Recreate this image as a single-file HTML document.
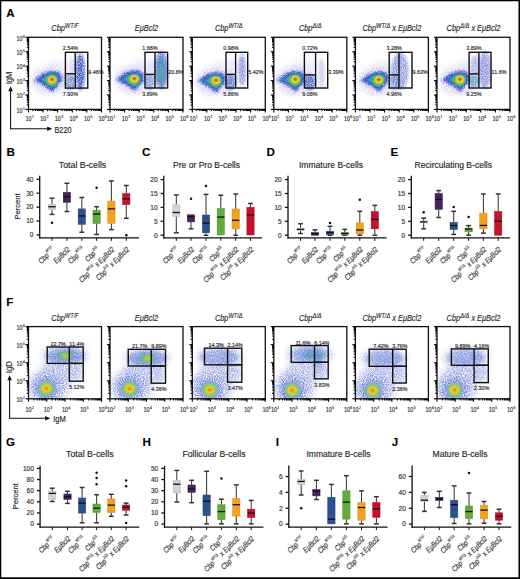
<!DOCTYPE html><html><head><meta charset="utf-8"><title>Figure</title><style>html,body{margin:0;padding:0;background:#fff;width:520px;height:579px;overflow:hidden}svg{display:block;font-family:"Liberation Sans", sans-serif} text{stroke:#333;stroke-width:0.15px}</style></head><body><svg width="520" height="579" viewBox="0 0 520 579" font-family='"Liberation Sans", sans-serif'>
<defs>
<filter id="b0.4" x="-60%" y="-60%" width="220%" height="220%"><feGaussianBlur stdDeviation="0.4"/></filter>
<filter id="b0.5" x="-60%" y="-60%" width="220%" height="220%"><feGaussianBlur stdDeviation="0.5"/></filter>
<filter id="b0.6" x="-60%" y="-60%" width="220%" height="220%"><feGaussianBlur stdDeviation="0.6"/></filter>
<filter id="b0.7" x="-60%" y="-60%" width="220%" height="220%"><feGaussianBlur stdDeviation="0.7"/></filter>
<filter id="b0.8" x="-60%" y="-60%" width="220%" height="220%"><feGaussianBlur stdDeviation="0.8"/></filter>
<filter id="b0.9" x="-60%" y="-60%" width="220%" height="220%"><feGaussianBlur stdDeviation="0.9"/></filter>
<filter id="b1" x="-60%" y="-60%" width="220%" height="220%"><feGaussianBlur stdDeviation="1"/></filter>
<filter id="b1.2" x="-60%" y="-60%" width="220%" height="220%"><feGaussianBlur stdDeviation="1.2"/></filter>
<filter id="b1.5" x="-60%" y="-60%" width="220%" height="220%"><feGaussianBlur stdDeviation="1.5"/></filter>
<filter id="b1.6" x="-60%" y="-60%" width="220%" height="220%"><feGaussianBlur stdDeviation="1.6"/></filter>
<filter id="b1.8" x="-60%" y="-60%" width="220%" height="220%"><feGaussianBlur stdDeviation="1.8"/></filter>
<filter id="b2" x="-60%" y="-60%" width="220%" height="220%"><feGaussianBlur stdDeviation="2"/></filter>
<filter id="b2.5" x="-60%" y="-60%" width="220%" height="220%"><feGaussianBlur stdDeviation="2.5"/></filter>
<filter id="b3" x="-60%" y="-60%" width="220%" height="220%"><feGaussianBlur stdDeviation="3"/></filter>
<filter id="spk0" x="0" y="0" width="520" height="579" filterUnits="userSpaceOnUse"><feTurbulence type="fractalNoise" baseFrequency="1.1" numOctaves="1" seed="3" result="n"/><feColorMatrix in="n" type="matrix" values="0 0 0 0 0  0 0 0 0 0  0 0 0 0 0  2.4 0 0 0 -0.62" result="m"/><feComposite in="SourceGraphic" in2="m" operator="in"/></filter>
<filter id="spk1" x="0" y="0" width="520" height="579" filterUnits="userSpaceOnUse"><feTurbulence type="fractalNoise" baseFrequency="1.1" numOctaves="1" seed="10" result="n"/><feColorMatrix in="n" type="matrix" values="0 0 0 0 0  0 0 0 0 0  0 0 0 0 0  2.4 0 0 0 -0.62" result="m"/><feComposite in="SourceGraphic" in2="m" operator="in"/></filter>
<filter id="spk2" x="0" y="0" width="520" height="579" filterUnits="userSpaceOnUse"><feTurbulence type="fractalNoise" baseFrequency="1.1" numOctaves="1" seed="17" result="n"/><feColorMatrix in="n" type="matrix" values="0 0 0 0 0  0 0 0 0 0  0 0 0 0 0  2.4 0 0 0 -0.62" result="m"/><feComposite in="SourceGraphic" in2="m" operator="in"/></filter>
<filter id="spd0" x="0" y="0" width="520" height="579" filterUnits="userSpaceOnUse"><feTurbulence type="fractalNoise" baseFrequency="0.9" numOctaves="1" seed="11" result="n"/><feColorMatrix in="n" type="matrix" values="0 0 0 0 0  0 0 0 0 0  0 0 0 0 0  2.4 0 0 0 -0.42" result="m"/><feComposite in="SourceGraphic" in2="m" operator="in"/></filter>
<filter id="spd1" x="0" y="0" width="520" height="579" filterUnits="userSpaceOnUse"><feTurbulence type="fractalNoise" baseFrequency="0.9" numOctaves="1" seed="16" result="n"/><feColorMatrix in="n" type="matrix" values="0 0 0 0 0  0 0 0 0 0  0 0 0 0 0  2.4 0 0 0 -0.42" result="m"/><feComposite in="SourceGraphic" in2="m" operator="in"/></filter>
<filter id="spd2" x="0" y="0" width="520" height="579" filterUnits="userSpaceOnUse"><feTurbulence type="fractalNoise" baseFrequency="0.9" numOctaves="1" seed="21" result="n"/><feColorMatrix in="n" type="matrix" values="0 0 0 0 0  0 0 0 0 0  0 0 0 0 0  2.4 0 0 0 -0.42" result="m"/><feComposite in="SourceGraphic" in2="m" operator="in"/></filter>
<clipPath id="clipA0"><rect x="28.5" y="37.3" width="73" height="72.1"/></clipPath>
<clipPath id="clipA1"><rect x="110" y="37.3" width="73" height="72.1"/></clipPath>
<clipPath id="clipA2"><rect x="192.3" y="37.3" width="73" height="72.1"/></clipPath>
<clipPath id="clipA3"><rect x="273.8" y="37.3" width="73" height="72.1"/></clipPath>
<clipPath id="clipA4"><rect x="355.4" y="37.3" width="73" height="72.1"/></clipPath>
<clipPath id="clipA5"><rect x="437" y="37.3" width="73" height="72.1"/></clipPath>
<clipPath id="clipF0"><rect x="28.5" y="326.6" width="73" height="72.2"/></clipPath>
<clipPath id="clipF1"><rect x="110" y="326.6" width="73" height="72.2"/></clipPath>
<clipPath id="clipF2"><rect x="192.3" y="326.6" width="73" height="72.2"/></clipPath>
<clipPath id="clipF3"><rect x="273.8" y="326.6" width="73" height="72.2"/></clipPath>
<clipPath id="clipF4"><rect x="355.4" y="326.6" width="73" height="72.2"/></clipPath>
<clipPath id="clipF5"><rect x="437" y="326.6" width="73" height="72.2"/></clipPath>
</defs>
<rect x="0" y="0" width="520" height="579" fill="#fff"/>
<text x="6.2" y="17.2" font-size="11.6" text-anchor="start" font-weight="bold" font-style="normal" fill="#000" >A</text>
<g clip-path="url(#clipA0)">
<g filter="url(#spk0)">
<ellipse cx="50.75" cy="80.75" rx="19" ry="15" fill="#a8a0e8" fill-opacity="0.5" filter="url(#b2.5)"/>
<ellipse cx="59.75" cy="67.75" rx="12" ry="9" fill="#b8b0ec" fill-opacity="0.3" filter="url(#b3)"/>
<polygon points="32.71,80.29 41.67,73.27 50.63,70.57 58.47,71.11 62.39,75.43 62.39,80.83 57.35,86.77 52.31,92.71 46.15,87.85" fill="#5060d8" fill-opacity="0.95" filter="url(#b1.2)"/>
<polygon points="35.09,80.22 42.93,74.05 50.77,71.67 57.63,72.15 61.06,75.95 61.06,80.7 56.65,85.92 52.24,91.15 46.85,86.88" fill="#3048c0" fill-opacity="1" filter="url(#b0.8)"/>
</g>
<g filter="url(#spd0)">
<ellipse cx="80.25" cy="71.92" rx="4.8" ry="18.5" fill="#3a56c4" fill-opacity="1" filter="url(#b1.6)"/>
<ellipse cx="70.33" cy="81.92" rx="5.5" ry="8" fill="#5a78cc" fill-opacity="0.8" filter="url(#b1.6)"/>
<ellipse cx="72.33" cy="66.03" rx="3" ry="9" fill="#8a90e0" fill-opacity="0.35" filter="url(#b1.6)"/>
</g>
<polygon points="36.11,80.2 43.47,74.35 50.83,72.1 57.27,72.55 60.49,76.15 60.49,80.65 56.35,85.6 52.21,90.55 47.15,86.5" fill="#3448b8" fill-opacity="0.75" filter="url(#b0.8)"/>
<polygon points="38.83,80.13 44.91,75.19 50.99,73.29 56.31,73.67 58.97,76.71 58.97,80.51 55.55,84.69 52.13,88.87 47.95,85.45" fill="#3478c4" fill-opacity="0.9" filter="url(#b0.8)"/>
<polygon points="41.51,80.07 46.47,75.91 51.43,74.31 55.77,74.63 57.94,77.19 57.94,80.39 55.15,83.91 52.36,87.43 48.95,84.55" fill="#38a8b8" fill-opacity="0.95" filter="url(#b0.7)"/>
<ellipse cx="51.75" cy="80.35" rx="6.2" ry="5.6" fill="#58b860" fill-opacity="1" filter="url(#b0.7)"/>
<ellipse cx="51.95" cy="79.85" rx="4.7" ry="4.2" fill="#a8cc48" fill-opacity="1" filter="url(#b0.6)"/>
<ellipse cx="52.05" cy="79.55" rx="3.7" ry="3.3" fill="#e6d434" fill-opacity="1" filter="url(#b0.5)"/>
<ellipse cx="52.05" cy="79.45" rx="2.4" ry="2.1" fill="#e09a24" fill-opacity="1" filter="url(#b0.5)"/>
<ellipse cx="52.05" cy="79.45" rx="1.2" ry="1.1" fill="#b85418" fill-opacity="1" filter="url(#b0.4)"/>
</g>
<rect x="28.5" y="37.3" width="73" height="72.1" fill="none" stroke="#111" stroke-width="1.3" />
<line x1="28.5" y1="109.4" x2="28.5" y2="112.4" stroke="#000" stroke-width="1.1"/>
<line x1="32.9" y1="109.4" x2="32.9" y2="111.1" stroke="#000" stroke-width="1.1"/>
<line x1="35.47" y1="109.4" x2="35.47" y2="111.1" stroke="#000" stroke-width="1.1"/>
<line x1="37.29" y1="109.4" x2="37.29" y2="111.1" stroke="#000" stroke-width="1.1"/>
<line x1="38.7" y1="109.4" x2="38.7" y2="111.1" stroke="#000" stroke-width="1.1"/>
<line x1="39.86" y1="109.4" x2="39.86" y2="111.1" stroke="#000" stroke-width="1.1"/>
<line x1="40.84" y1="109.4" x2="40.84" y2="111.1" stroke="#000" stroke-width="1.1"/>
<line x1="41.69" y1="109.4" x2="41.69" y2="111.1" stroke="#000" stroke-width="1.1"/>
<line x1="42.43" y1="109.4" x2="42.43" y2="111.1" stroke="#000" stroke-width="1.1"/>
<line x1="43.1" y1="109.4" x2="43.1" y2="112.4" stroke="#000" stroke-width="1.1"/>
<line x1="47.5" y1="109.4" x2="47.5" y2="111.1" stroke="#000" stroke-width="1.1"/>
<line x1="50.07" y1="109.4" x2="50.07" y2="111.1" stroke="#000" stroke-width="1.1"/>
<line x1="51.89" y1="109.4" x2="51.89" y2="111.1" stroke="#000" stroke-width="1.1"/>
<line x1="53.3" y1="109.4" x2="53.3" y2="111.1" stroke="#000" stroke-width="1.1"/>
<line x1="54.46" y1="109.4" x2="54.46" y2="111.1" stroke="#000" stroke-width="1.1"/>
<line x1="55.44" y1="109.4" x2="55.44" y2="111.1" stroke="#000" stroke-width="1.1"/>
<line x1="56.29" y1="109.4" x2="56.29" y2="111.1" stroke="#000" stroke-width="1.1"/>
<line x1="57.03" y1="109.4" x2="57.03" y2="111.1" stroke="#000" stroke-width="1.1"/>
<line x1="57.7" y1="109.4" x2="57.7" y2="112.4" stroke="#000" stroke-width="1.1"/>
<line x1="62.1" y1="109.4" x2="62.1" y2="111.1" stroke="#000" stroke-width="1.1"/>
<line x1="64.67" y1="109.4" x2="64.67" y2="111.1" stroke="#000" stroke-width="1.1"/>
<line x1="66.49" y1="109.4" x2="66.49" y2="111.1" stroke="#000" stroke-width="1.1"/>
<line x1="67.9" y1="109.4" x2="67.9" y2="111.1" stroke="#000" stroke-width="1.1"/>
<line x1="69.06" y1="109.4" x2="69.06" y2="111.1" stroke="#000" stroke-width="1.1"/>
<line x1="70.04" y1="109.4" x2="70.04" y2="111.1" stroke="#000" stroke-width="1.1"/>
<line x1="70.89" y1="109.4" x2="70.89" y2="111.1" stroke="#000" stroke-width="1.1"/>
<line x1="71.63" y1="109.4" x2="71.63" y2="111.1" stroke="#000" stroke-width="1.1"/>
<line x1="72.3" y1="109.4" x2="72.3" y2="112.4" stroke="#000" stroke-width="1.1"/>
<line x1="76.7" y1="109.4" x2="76.7" y2="111.1" stroke="#000" stroke-width="1.1"/>
<line x1="79.27" y1="109.4" x2="79.27" y2="111.1" stroke="#000" stroke-width="1.1"/>
<line x1="81.09" y1="109.4" x2="81.09" y2="111.1" stroke="#000" stroke-width="1.1"/>
<line x1="82.5" y1="109.4" x2="82.5" y2="111.1" stroke="#000" stroke-width="1.1"/>
<line x1="83.66" y1="109.4" x2="83.66" y2="111.1" stroke="#000" stroke-width="1.1"/>
<line x1="84.64" y1="109.4" x2="84.64" y2="111.1" stroke="#000" stroke-width="1.1"/>
<line x1="85.49" y1="109.4" x2="85.49" y2="111.1" stroke="#000" stroke-width="1.1"/>
<line x1="86.23" y1="109.4" x2="86.23" y2="111.1" stroke="#000" stroke-width="1.1"/>
<line x1="86.9" y1="109.4" x2="86.9" y2="112.4" stroke="#000" stroke-width="1.1"/>
<line x1="91.3" y1="109.4" x2="91.3" y2="111.1" stroke="#000" stroke-width="1.1"/>
<line x1="93.87" y1="109.4" x2="93.87" y2="111.1" stroke="#000" stroke-width="1.1"/>
<line x1="95.69" y1="109.4" x2="95.69" y2="111.1" stroke="#000" stroke-width="1.1"/>
<line x1="97.1" y1="109.4" x2="97.1" y2="111.1" stroke="#000" stroke-width="1.1"/>
<line x1="98.26" y1="109.4" x2="98.26" y2="111.1" stroke="#000" stroke-width="1.1"/>
<line x1="99.24" y1="109.4" x2="99.24" y2="111.1" stroke="#000" stroke-width="1.1"/>
<line x1="100.09" y1="109.4" x2="100.09" y2="111.1" stroke="#000" stroke-width="1.1"/>
<line x1="100.83" y1="109.4" x2="100.83" y2="111.1" stroke="#000" stroke-width="1.1"/>
<line x1="101.5" y1="109.4" x2="101.5" y2="112.4" stroke="#000" stroke-width="1.1"/>
<line x1="25.5" y1="109.4" x2="28.5" y2="109.4" stroke="#000" stroke-width="1.1"/>
<line x1="26.8" y1="105.06" x2="28.5" y2="105.06" stroke="#000" stroke-width="1.1"/>
<line x1="26.8" y1="102.52" x2="28.5" y2="102.52" stroke="#000" stroke-width="1.1"/>
<line x1="26.8" y1="100.72" x2="28.5" y2="100.72" stroke="#000" stroke-width="1.1"/>
<line x1="26.8" y1="99.32" x2="28.5" y2="99.32" stroke="#000" stroke-width="1.1"/>
<line x1="26.8" y1="98.18" x2="28.5" y2="98.18" stroke="#000" stroke-width="1.1"/>
<line x1="26.8" y1="97.21" x2="28.5" y2="97.21" stroke="#000" stroke-width="1.1"/>
<line x1="26.8" y1="96.38" x2="28.5" y2="96.38" stroke="#000" stroke-width="1.1"/>
<line x1="26.8" y1="95.64" x2="28.5" y2="95.64" stroke="#000" stroke-width="1.1"/>
<line x1="25.5" y1="94.98" x2="28.5" y2="94.98" stroke="#000" stroke-width="1.1"/>
<line x1="26.8" y1="90.64" x2="28.5" y2="90.64" stroke="#000" stroke-width="1.1"/>
<line x1="26.8" y1="88.1" x2="28.5" y2="88.1" stroke="#000" stroke-width="1.1"/>
<line x1="26.8" y1="86.3" x2="28.5" y2="86.3" stroke="#000" stroke-width="1.1"/>
<line x1="26.8" y1="84.9" x2="28.5" y2="84.9" stroke="#000" stroke-width="1.1"/>
<line x1="26.8" y1="83.76" x2="28.5" y2="83.76" stroke="#000" stroke-width="1.1"/>
<line x1="26.8" y1="82.79" x2="28.5" y2="82.79" stroke="#000" stroke-width="1.1"/>
<line x1="26.8" y1="81.96" x2="28.5" y2="81.96" stroke="#000" stroke-width="1.1"/>
<line x1="26.8" y1="81.22" x2="28.5" y2="81.22" stroke="#000" stroke-width="1.1"/>
<line x1="25.5" y1="80.56" x2="28.5" y2="80.56" stroke="#000" stroke-width="1.1"/>
<line x1="26.8" y1="76.22" x2="28.5" y2="76.22" stroke="#000" stroke-width="1.1"/>
<line x1="26.8" y1="73.68" x2="28.5" y2="73.68" stroke="#000" stroke-width="1.1"/>
<line x1="26.8" y1="71.88" x2="28.5" y2="71.88" stroke="#000" stroke-width="1.1"/>
<line x1="26.8" y1="70.48" x2="28.5" y2="70.48" stroke="#000" stroke-width="1.1"/>
<line x1="26.8" y1="69.34" x2="28.5" y2="69.34" stroke="#000" stroke-width="1.1"/>
<line x1="26.8" y1="68.37" x2="28.5" y2="68.37" stroke="#000" stroke-width="1.1"/>
<line x1="26.8" y1="67.54" x2="28.5" y2="67.54" stroke="#000" stroke-width="1.1"/>
<line x1="26.8" y1="66.8" x2="28.5" y2="66.8" stroke="#000" stroke-width="1.1"/>
<line x1="25.5" y1="66.14" x2="28.5" y2="66.14" stroke="#000" stroke-width="1.1"/>
<line x1="26.8" y1="61.8" x2="28.5" y2="61.8" stroke="#000" stroke-width="1.1"/>
<line x1="26.8" y1="59.26" x2="28.5" y2="59.26" stroke="#000" stroke-width="1.1"/>
<line x1="26.8" y1="57.46" x2="28.5" y2="57.46" stroke="#000" stroke-width="1.1"/>
<line x1="26.8" y1="56.06" x2="28.5" y2="56.06" stroke="#000" stroke-width="1.1"/>
<line x1="26.8" y1="54.92" x2="28.5" y2="54.92" stroke="#000" stroke-width="1.1"/>
<line x1="26.8" y1="53.95" x2="28.5" y2="53.95" stroke="#000" stroke-width="1.1"/>
<line x1="26.8" y1="53.12" x2="28.5" y2="53.12" stroke="#000" stroke-width="1.1"/>
<line x1="26.8" y1="52.38" x2="28.5" y2="52.38" stroke="#000" stroke-width="1.1"/>
<line x1="25.5" y1="51.72" x2="28.5" y2="51.72" stroke="#000" stroke-width="1.1"/>
<line x1="26.8" y1="47.38" x2="28.5" y2="47.38" stroke="#000" stroke-width="1.1"/>
<line x1="26.8" y1="44.84" x2="28.5" y2="44.84" stroke="#000" stroke-width="1.1"/>
<line x1="26.8" y1="43.04" x2="28.5" y2="43.04" stroke="#000" stroke-width="1.1"/>
<line x1="26.8" y1="41.64" x2="28.5" y2="41.64" stroke="#000" stroke-width="1.1"/>
<line x1="26.8" y1="40.5" x2="28.5" y2="40.5" stroke="#000" stroke-width="1.1"/>
<line x1="26.8" y1="39.53" x2="28.5" y2="39.53" stroke="#000" stroke-width="1.1"/>
<line x1="26.8" y1="38.7" x2="28.5" y2="38.7" stroke="#000" stroke-width="1.1"/>
<line x1="26.8" y1="37.96" x2="28.5" y2="37.96" stroke="#000" stroke-width="1.1"/>
<line x1="25.5" y1="37.3" x2="28.5" y2="37.3" stroke="#000" stroke-width="1.1"/>
<rect x="65.4" y="52.3" width="22.35" height="35.8" fill="none" stroke="#111" stroke-width="1.4" />
<line x1="75.25" y1="52.3" x2="75.25" y2="88.1" stroke="#111" stroke-width="1.4"/>
<line x1="65.4" y1="73.75" x2="75.25" y2="73.75" stroke="#111" stroke-width="1.4"/>
<text x="70.33" y="50" font-size="5.4" text-anchor="middle" font-weight="normal" font-style="normal" fill="#1a1a1a" >2.54%</text>
<text x="88.35" y="73.8" font-size="5.4" text-anchor="start" font-weight="normal" font-style="normal" fill="#1a1a1a" >9.46%</text>
<text x="70.33" y="96.1" font-size="5.4" text-anchor="middle" font-weight="normal" font-style="normal" fill="#1a1a1a" >7.90%</text>
<g transform="translate(28.6,120.8) scale(0.85,1)"><text x="-3.56" y="0" font-size="6.4" fill="#1a1a1a">10<tspan font-size="3.9" dx="0.5" dy="-2.9">1</tspan></text></g>
<g transform="translate(43.2,120.8) scale(0.85,1)"><text x="-3.56" y="0" font-size="6.4" fill="#1a1a1a">10<tspan font-size="3.9" dx="0.5" dy="-2.9">2</tspan></text></g>
<g transform="translate(57.8,120.8) scale(0.85,1)"><text x="-3.56" y="0" font-size="6.4" fill="#1a1a1a">10<tspan font-size="3.9" dx="0.5" dy="-2.9">3</tspan></text></g>
<g transform="translate(72.4,120.8) scale(0.85,1)"><text x="-3.56" y="0" font-size="6.4" fill="#1a1a1a">10<tspan font-size="3.9" dx="0.5" dy="-2.9">4</tspan></text></g>
<g transform="translate(87,120.8) scale(0.85,1)"><text x="-3.56" y="0" font-size="6.4" fill="#1a1a1a">10<tspan font-size="3.9" dx="0.5" dy="-2.9">5</tspan></text></g>
<g transform="translate(101.6,120.8) scale(0.85,1)"><text x="-3.56" y="0" font-size="6.4" fill="#1a1a1a">10<tspan font-size="3.9" dx="0.5" dy="-2.9">6</tspan></text></g>
<g transform="translate(16.48,112.7) scale(0.85,1)"><text x="0" y="0" font-size="6.4" fill="#1a1a1a">10<tspan font-size="3.9" dx="0.5" dy="-2.9">1</tspan></text></g>
<g transform="translate(16.48,98.28) scale(0.85,1)"><text x="0" y="0" font-size="6.4" fill="#1a1a1a">10<tspan font-size="3.9" dx="0.5" dy="-2.9">2</tspan></text></g>
<g transform="translate(16.48,83.86) scale(0.85,1)"><text x="0" y="0" font-size="6.4" fill="#1a1a1a">10<tspan font-size="3.9" dx="0.5" dy="-2.9">3</tspan></text></g>
<g transform="translate(16.48,69.44) scale(0.85,1)"><text x="0" y="0" font-size="6.4" fill="#1a1a1a">10<tspan font-size="3.9" dx="0.5" dy="-2.9">4</tspan></text></g>
<g transform="translate(16.48,55.02) scale(0.85,1)"><text x="0" y="0" font-size="6.4" fill="#1a1a1a">10<tspan font-size="3.9" dx="0.5" dy="-2.9">5</tspan></text></g>
<g transform="translate(16.48,40.6) scale(0.85,1)"><text x="0" y="0" font-size="6.4" fill="#1a1a1a">10<tspan font-size="3.9" dx="0.5" dy="-2.9">6</tspan></text></g>
<g transform="translate(65,30.8) scale(0.83,1)"><text x="0" y="0" font-size="8.9" font-style="italic" text-anchor="middle" fill="#222">Cbp<tspan font-size="6.85" dy="-2.4">WT/F</tspan></text></g>
<g clip-path="url(#clipA1)">
<g filter="url(#spk1)">
<ellipse cx="133" cy="80" rx="19" ry="15" fill="#a8a0e8" fill-opacity="0.5" filter="url(#b2.5)"/>
<ellipse cx="142" cy="67" rx="12" ry="9" fill="#b8b0ec" fill-opacity="0.3" filter="url(#b3)"/>
<polygon points="114.96,79.54 123.92,72.52 132.88,69.82 140.72,70.36 144.64,74.68 144.64,80.08 139.6,86.02 134.56,91.96 128.4,87.1" fill="#5060d8" fill-opacity="0.95" filter="url(#b1.2)"/>
<polygon points="117.34,79.47 125.18,73.3 133.02,70.92 139.88,71.4 143.31,75.2 143.31,79.95 138.9,85.17 134.49,90.4 129.1,86.12" fill="#3048c0" fill-opacity="1" filter="url(#b0.8)"/>
</g>
<g filter="url(#spd1)">
<ellipse cx="161.3" cy="70.15" rx="6.5" ry="19" fill="#4a64cc" fill-opacity="0.9" filter="url(#b1.6)"/>
<ellipse cx="150" cy="82.2" rx="5.5" ry="8" fill="#5a78cc" fill-opacity="0.675" filter="url(#b1.6)"/>
<ellipse cx="151" cy="66.35" rx="3" ry="9" fill="#8a90e0" fill-opacity="0.225" filter="url(#b1.6)"/>
</g>
<polygon points="118.36,79.45 125.72,73.6 133.08,71.35 139.52,71.8 142.74,75.4 142.74,79.9 138.6,84.85 134.46,89.8 129.4,85.75" fill="#3448b8" fill-opacity="0.75" filter="url(#b0.8)"/>
<polygon points="121.08,79.38 127.16,74.44 133.24,72.54 138.56,72.92 141.22,75.96 141.22,79.76 137.8,83.94 134.38,88.12 130.2,84.7" fill="#3478c4" fill-opacity="0.9" filter="url(#b0.8)"/>
<polygon points="123.76,79.32 128.72,75.16 133.68,73.56 138.02,73.88 140.19,76.44 140.19,79.64 137.4,83.16 134.61,86.68 131.2,83.8" fill="#38a8b8" fill-opacity="0.95" filter="url(#b0.7)"/>
<ellipse cx="134" cy="79.6" rx="6.2" ry="5.6" fill="#58b860" fill-opacity="1" filter="url(#b0.7)"/>
<ellipse cx="134.2" cy="79.1" rx="4.7" ry="4.2" fill="#a8cc48" fill-opacity="1" filter="url(#b0.6)"/>
<ellipse cx="134.3" cy="78.8" rx="3.7" ry="3.3" fill="#e6d434" fill-opacity="1" filter="url(#b0.5)"/>
<ellipse cx="134.3" cy="78.7" rx="2.4" ry="2.1" fill="#e09a24" fill-opacity="1" filter="url(#b0.5)"/>
<ellipse cx="134.3" cy="78.7" rx="1.2" ry="1.1" fill="#b85418" fill-opacity="1" filter="url(#b0.4)"/>
<ellipse cx="161.3" cy="70.15" rx="5.5" ry="17" fill="#7890d4" fill-opacity="0.45" filter="url(#b1.5)"/>
<g filter="url(#spd2)">
<ellipse cx="161.3" cy="71.15" rx="4.5" ry="13" fill="#3a98b0" fill-opacity="0.75" filter="url(#b1.2)"/>
<ellipse cx="161.3" cy="72.15" rx="2.8" ry="7" fill="#58b890" fill-opacity="0.55" filter="url(#b1)"/>
</g>
</g>
<rect x="110" y="37.3" width="73" height="72.1" fill="none" stroke="#111" stroke-width="1.3" />
<line x1="110" y1="109.4" x2="110" y2="112.4" stroke="#000" stroke-width="1.1"/>
<line x1="114.4" y1="109.4" x2="114.4" y2="111.1" stroke="#000" stroke-width="1.1"/>
<line x1="116.97" y1="109.4" x2="116.97" y2="111.1" stroke="#000" stroke-width="1.1"/>
<line x1="118.79" y1="109.4" x2="118.79" y2="111.1" stroke="#000" stroke-width="1.1"/>
<line x1="120.2" y1="109.4" x2="120.2" y2="111.1" stroke="#000" stroke-width="1.1"/>
<line x1="121.36" y1="109.4" x2="121.36" y2="111.1" stroke="#000" stroke-width="1.1"/>
<line x1="122.34" y1="109.4" x2="122.34" y2="111.1" stroke="#000" stroke-width="1.1"/>
<line x1="123.19" y1="109.4" x2="123.19" y2="111.1" stroke="#000" stroke-width="1.1"/>
<line x1="123.93" y1="109.4" x2="123.93" y2="111.1" stroke="#000" stroke-width="1.1"/>
<line x1="124.6" y1="109.4" x2="124.6" y2="112.4" stroke="#000" stroke-width="1.1"/>
<line x1="129" y1="109.4" x2="129" y2="111.1" stroke="#000" stroke-width="1.1"/>
<line x1="131.57" y1="109.4" x2="131.57" y2="111.1" stroke="#000" stroke-width="1.1"/>
<line x1="133.39" y1="109.4" x2="133.39" y2="111.1" stroke="#000" stroke-width="1.1"/>
<line x1="134.8" y1="109.4" x2="134.8" y2="111.1" stroke="#000" stroke-width="1.1"/>
<line x1="135.96" y1="109.4" x2="135.96" y2="111.1" stroke="#000" stroke-width="1.1"/>
<line x1="136.94" y1="109.4" x2="136.94" y2="111.1" stroke="#000" stroke-width="1.1"/>
<line x1="137.79" y1="109.4" x2="137.79" y2="111.1" stroke="#000" stroke-width="1.1"/>
<line x1="138.53" y1="109.4" x2="138.53" y2="111.1" stroke="#000" stroke-width="1.1"/>
<line x1="139.2" y1="109.4" x2="139.2" y2="112.4" stroke="#000" stroke-width="1.1"/>
<line x1="143.6" y1="109.4" x2="143.6" y2="111.1" stroke="#000" stroke-width="1.1"/>
<line x1="146.17" y1="109.4" x2="146.17" y2="111.1" stroke="#000" stroke-width="1.1"/>
<line x1="147.99" y1="109.4" x2="147.99" y2="111.1" stroke="#000" stroke-width="1.1"/>
<line x1="149.4" y1="109.4" x2="149.4" y2="111.1" stroke="#000" stroke-width="1.1"/>
<line x1="150.56" y1="109.4" x2="150.56" y2="111.1" stroke="#000" stroke-width="1.1"/>
<line x1="151.54" y1="109.4" x2="151.54" y2="111.1" stroke="#000" stroke-width="1.1"/>
<line x1="152.39" y1="109.4" x2="152.39" y2="111.1" stroke="#000" stroke-width="1.1"/>
<line x1="153.13" y1="109.4" x2="153.13" y2="111.1" stroke="#000" stroke-width="1.1"/>
<line x1="153.8" y1="109.4" x2="153.8" y2="112.4" stroke="#000" stroke-width="1.1"/>
<line x1="158.2" y1="109.4" x2="158.2" y2="111.1" stroke="#000" stroke-width="1.1"/>
<line x1="160.77" y1="109.4" x2="160.77" y2="111.1" stroke="#000" stroke-width="1.1"/>
<line x1="162.59" y1="109.4" x2="162.59" y2="111.1" stroke="#000" stroke-width="1.1"/>
<line x1="164" y1="109.4" x2="164" y2="111.1" stroke="#000" stroke-width="1.1"/>
<line x1="165.16" y1="109.4" x2="165.16" y2="111.1" stroke="#000" stroke-width="1.1"/>
<line x1="166.14" y1="109.4" x2="166.14" y2="111.1" stroke="#000" stroke-width="1.1"/>
<line x1="166.99" y1="109.4" x2="166.99" y2="111.1" stroke="#000" stroke-width="1.1"/>
<line x1="167.73" y1="109.4" x2="167.73" y2="111.1" stroke="#000" stroke-width="1.1"/>
<line x1="168.4" y1="109.4" x2="168.4" y2="112.4" stroke="#000" stroke-width="1.1"/>
<line x1="172.8" y1="109.4" x2="172.8" y2="111.1" stroke="#000" stroke-width="1.1"/>
<line x1="175.37" y1="109.4" x2="175.37" y2="111.1" stroke="#000" stroke-width="1.1"/>
<line x1="177.19" y1="109.4" x2="177.19" y2="111.1" stroke="#000" stroke-width="1.1"/>
<line x1="178.6" y1="109.4" x2="178.6" y2="111.1" stroke="#000" stroke-width="1.1"/>
<line x1="179.76" y1="109.4" x2="179.76" y2="111.1" stroke="#000" stroke-width="1.1"/>
<line x1="180.74" y1="109.4" x2="180.74" y2="111.1" stroke="#000" stroke-width="1.1"/>
<line x1="181.59" y1="109.4" x2="181.59" y2="111.1" stroke="#000" stroke-width="1.1"/>
<line x1="182.33" y1="109.4" x2="182.33" y2="111.1" stroke="#000" stroke-width="1.1"/>
<line x1="183" y1="109.4" x2="183" y2="112.4" stroke="#000" stroke-width="1.1"/>
<line x1="107" y1="109.4" x2="110" y2="109.4" stroke="#000" stroke-width="1.1"/>
<line x1="108.3" y1="105.06" x2="110" y2="105.06" stroke="#000" stroke-width="1.1"/>
<line x1="108.3" y1="102.52" x2="110" y2="102.52" stroke="#000" stroke-width="1.1"/>
<line x1="108.3" y1="100.72" x2="110" y2="100.72" stroke="#000" stroke-width="1.1"/>
<line x1="108.3" y1="99.32" x2="110" y2="99.32" stroke="#000" stroke-width="1.1"/>
<line x1="108.3" y1="98.18" x2="110" y2="98.18" stroke="#000" stroke-width="1.1"/>
<line x1="108.3" y1="97.21" x2="110" y2="97.21" stroke="#000" stroke-width="1.1"/>
<line x1="108.3" y1="96.38" x2="110" y2="96.38" stroke="#000" stroke-width="1.1"/>
<line x1="108.3" y1="95.64" x2="110" y2="95.64" stroke="#000" stroke-width="1.1"/>
<line x1="107" y1="94.98" x2="110" y2="94.98" stroke="#000" stroke-width="1.1"/>
<line x1="108.3" y1="90.64" x2="110" y2="90.64" stroke="#000" stroke-width="1.1"/>
<line x1="108.3" y1="88.1" x2="110" y2="88.1" stroke="#000" stroke-width="1.1"/>
<line x1="108.3" y1="86.3" x2="110" y2="86.3" stroke="#000" stroke-width="1.1"/>
<line x1="108.3" y1="84.9" x2="110" y2="84.9" stroke="#000" stroke-width="1.1"/>
<line x1="108.3" y1="83.76" x2="110" y2="83.76" stroke="#000" stroke-width="1.1"/>
<line x1="108.3" y1="82.79" x2="110" y2="82.79" stroke="#000" stroke-width="1.1"/>
<line x1="108.3" y1="81.96" x2="110" y2="81.96" stroke="#000" stroke-width="1.1"/>
<line x1="108.3" y1="81.22" x2="110" y2="81.22" stroke="#000" stroke-width="1.1"/>
<line x1="107" y1="80.56" x2="110" y2="80.56" stroke="#000" stroke-width="1.1"/>
<line x1="108.3" y1="76.22" x2="110" y2="76.22" stroke="#000" stroke-width="1.1"/>
<line x1="108.3" y1="73.68" x2="110" y2="73.68" stroke="#000" stroke-width="1.1"/>
<line x1="108.3" y1="71.88" x2="110" y2="71.88" stroke="#000" stroke-width="1.1"/>
<line x1="108.3" y1="70.48" x2="110" y2="70.48" stroke="#000" stroke-width="1.1"/>
<line x1="108.3" y1="69.34" x2="110" y2="69.34" stroke="#000" stroke-width="1.1"/>
<line x1="108.3" y1="68.37" x2="110" y2="68.37" stroke="#000" stroke-width="1.1"/>
<line x1="108.3" y1="67.54" x2="110" y2="67.54" stroke="#000" stroke-width="1.1"/>
<line x1="108.3" y1="66.8" x2="110" y2="66.8" stroke="#000" stroke-width="1.1"/>
<line x1="107" y1="66.14" x2="110" y2="66.14" stroke="#000" stroke-width="1.1"/>
<line x1="108.3" y1="61.8" x2="110" y2="61.8" stroke="#000" stroke-width="1.1"/>
<line x1="108.3" y1="59.26" x2="110" y2="59.26" stroke="#000" stroke-width="1.1"/>
<line x1="108.3" y1="57.46" x2="110" y2="57.46" stroke="#000" stroke-width="1.1"/>
<line x1="108.3" y1="56.06" x2="110" y2="56.06" stroke="#000" stroke-width="1.1"/>
<line x1="108.3" y1="54.92" x2="110" y2="54.92" stroke="#000" stroke-width="1.1"/>
<line x1="108.3" y1="53.95" x2="110" y2="53.95" stroke="#000" stroke-width="1.1"/>
<line x1="108.3" y1="53.12" x2="110" y2="53.12" stroke="#000" stroke-width="1.1"/>
<line x1="108.3" y1="52.38" x2="110" y2="52.38" stroke="#000" stroke-width="1.1"/>
<line x1="107" y1="51.72" x2="110" y2="51.72" stroke="#000" stroke-width="1.1"/>
<line x1="108.3" y1="47.38" x2="110" y2="47.38" stroke="#000" stroke-width="1.1"/>
<line x1="108.3" y1="44.84" x2="110" y2="44.84" stroke="#000" stroke-width="1.1"/>
<line x1="108.3" y1="43.04" x2="110" y2="43.04" stroke="#000" stroke-width="1.1"/>
<line x1="108.3" y1="41.64" x2="110" y2="41.64" stroke="#000" stroke-width="1.1"/>
<line x1="108.3" y1="40.5" x2="110" y2="40.5" stroke="#000" stroke-width="1.1"/>
<line x1="108.3" y1="39.53" x2="110" y2="39.53" stroke="#000" stroke-width="1.1"/>
<line x1="108.3" y1="38.7" x2="110" y2="38.7" stroke="#000" stroke-width="1.1"/>
<line x1="108.3" y1="37.96" x2="110" y2="37.96" stroke="#000" stroke-width="1.1"/>
<line x1="107" y1="37.3" x2="110" y2="37.3" stroke="#000" stroke-width="1.1"/>
<rect x="145" y="52.3" width="22.6" height="35.7" fill="none" stroke="#111" stroke-width="1.4" />
<line x1="155" y1="52.3" x2="155" y2="88" stroke="#111" stroke-width="1.4"/>
<line x1="145" y1="74.4" x2="155" y2="74.4" stroke="#111" stroke-width="1.4"/>
<text x="150" y="50" font-size="5.4" text-anchor="middle" font-weight="normal" font-style="normal" fill="#1a1a1a" >1.66%</text>
<text x="168.2" y="73.75" font-size="5.4" text-anchor="start" font-weight="normal" font-style="normal" fill="#1a1a1a" >20.8%</text>
<text x="150" y="96" font-size="5.4" text-anchor="middle" font-weight="normal" font-style="normal" fill="#1a1a1a" >3.89%</text>
<g transform="translate(110.1,120.8) scale(0.85,1)"><text x="-3.56" y="0" font-size="6.4" fill="#1a1a1a">10<tspan font-size="3.9" dx="0.5" dy="-2.9">1</tspan></text></g>
<g transform="translate(124.7,120.8) scale(0.85,1)"><text x="-3.56" y="0" font-size="6.4" fill="#1a1a1a">10<tspan font-size="3.9" dx="0.5" dy="-2.9">2</tspan></text></g>
<g transform="translate(139.3,120.8) scale(0.85,1)"><text x="-3.56" y="0" font-size="6.4" fill="#1a1a1a">10<tspan font-size="3.9" dx="0.5" dy="-2.9">3</tspan></text></g>
<g transform="translate(153.9,120.8) scale(0.85,1)"><text x="-3.56" y="0" font-size="6.4" fill="#1a1a1a">10<tspan font-size="3.9" dx="0.5" dy="-2.9">4</tspan></text></g>
<g transform="translate(168.5,120.8) scale(0.85,1)"><text x="-3.56" y="0" font-size="6.4" fill="#1a1a1a">10<tspan font-size="3.9" dx="0.5" dy="-2.9">5</tspan></text></g>
<g transform="translate(183.1,120.8) scale(0.85,1)"><text x="-3.56" y="0" font-size="6.4" fill="#1a1a1a">10<tspan font-size="3.9" dx="0.5" dy="-2.9">6</tspan></text></g>
<g transform="translate(146.5,30.8) scale(0.83,1)"><text x="0" y="0" font-size="8.9" font-style="italic" text-anchor="middle" fill="#222">EμBcl2</text></g>
<g clip-path="url(#clipA2)">
<g filter="url(#spk2)">
<ellipse cx="214.6" cy="81.6" rx="19" ry="15" fill="#a8a0e8" fill-opacity="0.5" filter="url(#b2.5)"/>
<ellipse cx="223.6" cy="68.6" rx="12" ry="9" fill="#b8b0ec" fill-opacity="0.3" filter="url(#b3)"/>
<polygon points="196.56,81.14 205.52,74.12 214.48,71.42 222.32,71.96 226.24,76.28 226.24,81.68 221.2,87.62 216.16,93.56 210,88.7" fill="#5060d8" fill-opacity="0.95" filter="url(#b1.2)"/>
<polygon points="198.94,81.07 206.78,74.9 214.62,72.52 221.48,73 224.91,76.8 224.91,81.55 220.5,86.77 216.09,92 210.7,87.72" fill="#3048c0" fill-opacity="1" filter="url(#b0.8)"/>
</g>
<g filter="url(#spd2)">
<ellipse cx="242.15" cy="70.15" rx="4" ry="16" fill="#5a6cd0" fill-opacity="0.7124999999999999" filter="url(#b1.6)"/>
<ellipse cx="230.8" cy="82.2" rx="5.5" ry="8" fill="#4a6ccc" fill-opacity="0.855" filter="url(#b1.6)"/>
<ellipse cx="231.8" cy="66.35" rx="3" ry="9" fill="#8a90e0" fill-opacity="0.19" filter="url(#b1.6)"/>
</g>
<polygon points="199.96,81.05 207.32,75.2 214.68,72.95 221.12,73.4 224.34,77 224.34,81.5 220.2,86.45 216.06,91.4 211,87.35" fill="#3448b8" fill-opacity="0.75" filter="url(#b0.8)"/>
<polygon points="202.68,80.98 208.76,76.04 214.84,74.14 220.16,74.52 222.82,77.56 222.82,81.36 219.4,85.54 215.98,89.72 211.8,86.3" fill="#3478c4" fill-opacity="0.9" filter="url(#b0.8)"/>
<polygon points="205.36,80.92 210.32,76.76 215.28,75.16 219.62,75.48 221.79,78.04 221.79,81.24 219,84.76 216.21,88.28 212.8,85.4" fill="#38a8b8" fill-opacity="0.95" filter="url(#b0.7)"/>
<ellipse cx="215.6" cy="81.2" rx="6.2" ry="5.6" fill="#58b860" fill-opacity="1" filter="url(#b0.7)"/>
<ellipse cx="215.8" cy="80.7" rx="4.7" ry="4.2" fill="#a8cc48" fill-opacity="1" filter="url(#b0.6)"/>
<ellipse cx="215.9" cy="80.4" rx="3.7" ry="3.3" fill="#e6d434" fill-opacity="1" filter="url(#b0.5)"/>
<ellipse cx="215.9" cy="80.3" rx="2.4" ry="2.1" fill="#e09a24" fill-opacity="1" filter="url(#b0.5)"/>
<ellipse cx="215.9" cy="80.3" rx="1.2" ry="1.1" fill="#b85418" fill-opacity="1" filter="url(#b0.4)"/>
</g>
<rect x="192.3" y="37.3" width="73" height="72.1" fill="none" stroke="#111" stroke-width="1.3" />
<line x1="192.3" y1="109.4" x2="192.3" y2="112.4" stroke="#000" stroke-width="1.1"/>
<line x1="196.7" y1="109.4" x2="196.7" y2="111.1" stroke="#000" stroke-width="1.1"/>
<line x1="199.27" y1="109.4" x2="199.27" y2="111.1" stroke="#000" stroke-width="1.1"/>
<line x1="201.09" y1="109.4" x2="201.09" y2="111.1" stroke="#000" stroke-width="1.1"/>
<line x1="202.5" y1="109.4" x2="202.5" y2="111.1" stroke="#000" stroke-width="1.1"/>
<line x1="203.66" y1="109.4" x2="203.66" y2="111.1" stroke="#000" stroke-width="1.1"/>
<line x1="204.64" y1="109.4" x2="204.64" y2="111.1" stroke="#000" stroke-width="1.1"/>
<line x1="205.49" y1="109.4" x2="205.49" y2="111.1" stroke="#000" stroke-width="1.1"/>
<line x1="206.23" y1="109.4" x2="206.23" y2="111.1" stroke="#000" stroke-width="1.1"/>
<line x1="206.9" y1="109.4" x2="206.9" y2="112.4" stroke="#000" stroke-width="1.1"/>
<line x1="211.3" y1="109.4" x2="211.3" y2="111.1" stroke="#000" stroke-width="1.1"/>
<line x1="213.87" y1="109.4" x2="213.87" y2="111.1" stroke="#000" stroke-width="1.1"/>
<line x1="215.69" y1="109.4" x2="215.69" y2="111.1" stroke="#000" stroke-width="1.1"/>
<line x1="217.1" y1="109.4" x2="217.1" y2="111.1" stroke="#000" stroke-width="1.1"/>
<line x1="218.26" y1="109.4" x2="218.26" y2="111.1" stroke="#000" stroke-width="1.1"/>
<line x1="219.24" y1="109.4" x2="219.24" y2="111.1" stroke="#000" stroke-width="1.1"/>
<line x1="220.09" y1="109.4" x2="220.09" y2="111.1" stroke="#000" stroke-width="1.1"/>
<line x1="220.83" y1="109.4" x2="220.83" y2="111.1" stroke="#000" stroke-width="1.1"/>
<line x1="221.5" y1="109.4" x2="221.5" y2="112.4" stroke="#000" stroke-width="1.1"/>
<line x1="225.9" y1="109.4" x2="225.9" y2="111.1" stroke="#000" stroke-width="1.1"/>
<line x1="228.47" y1="109.4" x2="228.47" y2="111.1" stroke="#000" stroke-width="1.1"/>
<line x1="230.29" y1="109.4" x2="230.29" y2="111.1" stroke="#000" stroke-width="1.1"/>
<line x1="231.7" y1="109.4" x2="231.7" y2="111.1" stroke="#000" stroke-width="1.1"/>
<line x1="232.86" y1="109.4" x2="232.86" y2="111.1" stroke="#000" stroke-width="1.1"/>
<line x1="233.84" y1="109.4" x2="233.84" y2="111.1" stroke="#000" stroke-width="1.1"/>
<line x1="234.69" y1="109.4" x2="234.69" y2="111.1" stroke="#000" stroke-width="1.1"/>
<line x1="235.43" y1="109.4" x2="235.43" y2="111.1" stroke="#000" stroke-width="1.1"/>
<line x1="236.1" y1="109.4" x2="236.1" y2="112.4" stroke="#000" stroke-width="1.1"/>
<line x1="240.5" y1="109.4" x2="240.5" y2="111.1" stroke="#000" stroke-width="1.1"/>
<line x1="243.07" y1="109.4" x2="243.07" y2="111.1" stroke="#000" stroke-width="1.1"/>
<line x1="244.89" y1="109.4" x2="244.89" y2="111.1" stroke="#000" stroke-width="1.1"/>
<line x1="246.3" y1="109.4" x2="246.3" y2="111.1" stroke="#000" stroke-width="1.1"/>
<line x1="247.46" y1="109.4" x2="247.46" y2="111.1" stroke="#000" stroke-width="1.1"/>
<line x1="248.44" y1="109.4" x2="248.44" y2="111.1" stroke="#000" stroke-width="1.1"/>
<line x1="249.29" y1="109.4" x2="249.29" y2="111.1" stroke="#000" stroke-width="1.1"/>
<line x1="250.03" y1="109.4" x2="250.03" y2="111.1" stroke="#000" stroke-width="1.1"/>
<line x1="250.7" y1="109.4" x2="250.7" y2="112.4" stroke="#000" stroke-width="1.1"/>
<line x1="255.1" y1="109.4" x2="255.1" y2="111.1" stroke="#000" stroke-width="1.1"/>
<line x1="257.67" y1="109.4" x2="257.67" y2="111.1" stroke="#000" stroke-width="1.1"/>
<line x1="259.49" y1="109.4" x2="259.49" y2="111.1" stroke="#000" stroke-width="1.1"/>
<line x1="260.9" y1="109.4" x2="260.9" y2="111.1" stroke="#000" stroke-width="1.1"/>
<line x1="262.06" y1="109.4" x2="262.06" y2="111.1" stroke="#000" stroke-width="1.1"/>
<line x1="263.04" y1="109.4" x2="263.04" y2="111.1" stroke="#000" stroke-width="1.1"/>
<line x1="263.89" y1="109.4" x2="263.89" y2="111.1" stroke="#000" stroke-width="1.1"/>
<line x1="264.63" y1="109.4" x2="264.63" y2="111.1" stroke="#000" stroke-width="1.1"/>
<line x1="265.3" y1="109.4" x2="265.3" y2="112.4" stroke="#000" stroke-width="1.1"/>
<line x1="189.3" y1="109.4" x2="192.3" y2="109.4" stroke="#000" stroke-width="1.1"/>
<line x1="190.6" y1="105.06" x2="192.3" y2="105.06" stroke="#000" stroke-width="1.1"/>
<line x1="190.6" y1="102.52" x2="192.3" y2="102.52" stroke="#000" stroke-width="1.1"/>
<line x1="190.6" y1="100.72" x2="192.3" y2="100.72" stroke="#000" stroke-width="1.1"/>
<line x1="190.6" y1="99.32" x2="192.3" y2="99.32" stroke="#000" stroke-width="1.1"/>
<line x1="190.6" y1="98.18" x2="192.3" y2="98.18" stroke="#000" stroke-width="1.1"/>
<line x1="190.6" y1="97.21" x2="192.3" y2="97.21" stroke="#000" stroke-width="1.1"/>
<line x1="190.6" y1="96.38" x2="192.3" y2="96.38" stroke="#000" stroke-width="1.1"/>
<line x1="190.6" y1="95.64" x2="192.3" y2="95.64" stroke="#000" stroke-width="1.1"/>
<line x1="189.3" y1="94.98" x2="192.3" y2="94.98" stroke="#000" stroke-width="1.1"/>
<line x1="190.6" y1="90.64" x2="192.3" y2="90.64" stroke="#000" stroke-width="1.1"/>
<line x1="190.6" y1="88.1" x2="192.3" y2="88.1" stroke="#000" stroke-width="1.1"/>
<line x1="190.6" y1="86.3" x2="192.3" y2="86.3" stroke="#000" stroke-width="1.1"/>
<line x1="190.6" y1="84.9" x2="192.3" y2="84.9" stroke="#000" stroke-width="1.1"/>
<line x1="190.6" y1="83.76" x2="192.3" y2="83.76" stroke="#000" stroke-width="1.1"/>
<line x1="190.6" y1="82.79" x2="192.3" y2="82.79" stroke="#000" stroke-width="1.1"/>
<line x1="190.6" y1="81.96" x2="192.3" y2="81.96" stroke="#000" stroke-width="1.1"/>
<line x1="190.6" y1="81.22" x2="192.3" y2="81.22" stroke="#000" stroke-width="1.1"/>
<line x1="189.3" y1="80.56" x2="192.3" y2="80.56" stroke="#000" stroke-width="1.1"/>
<line x1="190.6" y1="76.22" x2="192.3" y2="76.22" stroke="#000" stroke-width="1.1"/>
<line x1="190.6" y1="73.68" x2="192.3" y2="73.68" stroke="#000" stroke-width="1.1"/>
<line x1="190.6" y1="71.88" x2="192.3" y2="71.88" stroke="#000" stroke-width="1.1"/>
<line x1="190.6" y1="70.48" x2="192.3" y2="70.48" stroke="#000" stroke-width="1.1"/>
<line x1="190.6" y1="69.34" x2="192.3" y2="69.34" stroke="#000" stroke-width="1.1"/>
<line x1="190.6" y1="68.37" x2="192.3" y2="68.37" stroke="#000" stroke-width="1.1"/>
<line x1="190.6" y1="67.54" x2="192.3" y2="67.54" stroke="#000" stroke-width="1.1"/>
<line x1="190.6" y1="66.8" x2="192.3" y2="66.8" stroke="#000" stroke-width="1.1"/>
<line x1="189.3" y1="66.14" x2="192.3" y2="66.14" stroke="#000" stroke-width="1.1"/>
<line x1="190.6" y1="61.8" x2="192.3" y2="61.8" stroke="#000" stroke-width="1.1"/>
<line x1="190.6" y1="59.26" x2="192.3" y2="59.26" stroke="#000" stroke-width="1.1"/>
<line x1="190.6" y1="57.46" x2="192.3" y2="57.46" stroke="#000" stroke-width="1.1"/>
<line x1="190.6" y1="56.06" x2="192.3" y2="56.06" stroke="#000" stroke-width="1.1"/>
<line x1="190.6" y1="54.92" x2="192.3" y2="54.92" stroke="#000" stroke-width="1.1"/>
<line x1="190.6" y1="53.95" x2="192.3" y2="53.95" stroke="#000" stroke-width="1.1"/>
<line x1="190.6" y1="53.12" x2="192.3" y2="53.12" stroke="#000" stroke-width="1.1"/>
<line x1="190.6" y1="52.38" x2="192.3" y2="52.38" stroke="#000" stroke-width="1.1"/>
<line x1="189.3" y1="51.72" x2="192.3" y2="51.72" stroke="#000" stroke-width="1.1"/>
<line x1="190.6" y1="47.38" x2="192.3" y2="47.38" stroke="#000" stroke-width="1.1"/>
<line x1="190.6" y1="44.84" x2="192.3" y2="44.84" stroke="#000" stroke-width="1.1"/>
<line x1="190.6" y1="43.04" x2="192.3" y2="43.04" stroke="#000" stroke-width="1.1"/>
<line x1="190.6" y1="41.64" x2="192.3" y2="41.64" stroke="#000" stroke-width="1.1"/>
<line x1="190.6" y1="40.5" x2="192.3" y2="40.5" stroke="#000" stroke-width="1.1"/>
<line x1="190.6" y1="39.53" x2="192.3" y2="39.53" stroke="#000" stroke-width="1.1"/>
<line x1="190.6" y1="38.7" x2="192.3" y2="38.7" stroke="#000" stroke-width="1.1"/>
<line x1="190.6" y1="37.96" x2="192.3" y2="37.96" stroke="#000" stroke-width="1.1"/>
<line x1="189.3" y1="37.3" x2="192.3" y2="37.3" stroke="#000" stroke-width="1.1"/>
<rect x="226" y="52.3" width="21.7" height="35.7" fill="none" stroke="#111" stroke-width="1.4" />
<line x1="235.6" y1="52.3" x2="235.6" y2="88" stroke="#111" stroke-width="1.4"/>
<line x1="226" y1="74.4" x2="235.6" y2="74.4" stroke="#111" stroke-width="1.4"/>
<text x="230.8" y="50" font-size="5.4" text-anchor="middle" font-weight="normal" font-style="normal" fill="#1a1a1a" >0.98%</text>
<text x="248.3" y="73.75" font-size="5.4" text-anchor="start" font-weight="normal" font-style="normal" fill="#1a1a1a" >5.42%</text>
<text x="230.8" y="96" font-size="5.4" text-anchor="middle" font-weight="normal" font-style="normal" fill="#1a1a1a" >5.86%</text>
<g transform="translate(192.4,120.8) scale(0.85,1)"><text x="-3.56" y="0" font-size="6.4" fill="#1a1a1a">10<tspan font-size="3.9" dx="0.5" dy="-2.9">1</tspan></text></g>
<g transform="translate(207,120.8) scale(0.85,1)"><text x="-3.56" y="0" font-size="6.4" fill="#1a1a1a">10<tspan font-size="3.9" dx="0.5" dy="-2.9">2</tspan></text></g>
<g transform="translate(221.6,120.8) scale(0.85,1)"><text x="-3.56" y="0" font-size="6.4" fill="#1a1a1a">10<tspan font-size="3.9" dx="0.5" dy="-2.9">3</tspan></text></g>
<g transform="translate(236.2,120.8) scale(0.85,1)"><text x="-3.56" y="0" font-size="6.4" fill="#1a1a1a">10<tspan font-size="3.9" dx="0.5" dy="-2.9">4</tspan></text></g>
<g transform="translate(250.8,120.8) scale(0.85,1)"><text x="-3.56" y="0" font-size="6.4" fill="#1a1a1a">10<tspan font-size="3.9" dx="0.5" dy="-2.9">5</tspan></text></g>
<g transform="translate(265.4,120.8) scale(0.85,1)"><text x="-3.56" y="0" font-size="6.4" fill="#1a1a1a">10<tspan font-size="3.9" dx="0.5" dy="-2.9">6</tspan></text></g>
<g transform="translate(228.8,30.8) scale(0.83,1)"><text x="0" y="0" font-size="8.9" font-style="italic" text-anchor="middle" fill="#222">Cbp<tspan font-size="6.85" dy="-2.4">WT/Δ</tspan></text></g>
<g clip-path="url(#clipA3)">
<g filter="url(#spk0)">
<ellipse cx="294" cy="80.6" rx="19" ry="15" fill="#a8a0e8" fill-opacity="0.5" filter="url(#b2.5)"/>
<ellipse cx="303" cy="67.6" rx="12" ry="9" fill="#b8b0ec" fill-opacity="0.3" filter="url(#b3)"/>
<polygon points="275.96,80.14 284.92,73.12 293.88,70.42 301.72,70.96 305.64,75.28 305.64,80.68 300.6,86.62 295.56,92.56 289.4,87.7" fill="#5060d8" fill-opacity="0.95" filter="url(#b1.2)"/>
<polygon points="278.34,80.07 286.18,73.9 294.02,71.52 300.88,72 304.31,75.8 304.31,80.55 299.9,85.77 295.49,91 290.1,86.72" fill="#3048c0" fill-opacity="1" filter="url(#b0.8)"/>
</g>
<g filter="url(#spd0)">
<ellipse cx="321.65" cy="73.15" rx="3.2" ry="15" fill="#8a8ad8" fill-opacity="0.4675" filter="url(#b1.6)"/>
<ellipse cx="310" cy="82.45" rx="6" ry="8" fill="#3a5ccc" fill-opacity="0.85" filter="url(#b1.6)"/>
<ellipse cx="311" cy="66.6" rx="3" ry="9" fill="#9a9ae0" fill-opacity="0.1275" filter="url(#b1.6)"/>
</g>
<polygon points="279.36,80.05 286.72,74.2 294.08,71.95 300.52,72.4 303.74,76 303.74,80.5 299.6,85.45 295.46,90.4 290.4,86.35" fill="#3448b8" fill-opacity="0.75" filter="url(#b0.8)"/>
<polygon points="282.08,79.98 288.16,75.04 294.24,73.14 299.56,73.52 302.22,76.56 302.22,80.36 298.8,84.54 295.38,88.72 291.2,85.3" fill="#3478c4" fill-opacity="0.9" filter="url(#b0.8)"/>
<polygon points="284.76,79.92 289.72,75.76 294.68,74.16 299.02,74.48 301.19,77.04 301.19,80.24 298.4,83.76 295.61,87.28 292.2,84.4" fill="#38a8b8" fill-opacity="0.95" filter="url(#b0.7)"/>
<ellipse cx="295" cy="80.2" rx="6.2" ry="5.6" fill="#58b860" fill-opacity="1" filter="url(#b0.7)"/>
<ellipse cx="295.2" cy="79.7" rx="4.7" ry="4.2" fill="#a8cc48" fill-opacity="1" filter="url(#b0.6)"/>
<ellipse cx="295.3" cy="79.4" rx="3.7" ry="3.3" fill="#e6d434" fill-opacity="1" filter="url(#b0.5)"/>
<ellipse cx="295.3" cy="79.3" rx="2.4" ry="2.1" fill="#e09a24" fill-opacity="1" filter="url(#b0.5)"/>
<ellipse cx="295.3" cy="79.3" rx="1.2" ry="1.1" fill="#b85418" fill-opacity="1" filter="url(#b0.4)"/>
</g>
<rect x="273.8" y="37.3" width="73" height="72.1" fill="none" stroke="#111" stroke-width="1.3" />
<line x1="273.8" y1="109.4" x2="273.8" y2="112.4" stroke="#000" stroke-width="1.1"/>
<line x1="278.2" y1="109.4" x2="278.2" y2="111.1" stroke="#000" stroke-width="1.1"/>
<line x1="280.77" y1="109.4" x2="280.77" y2="111.1" stroke="#000" stroke-width="1.1"/>
<line x1="282.59" y1="109.4" x2="282.59" y2="111.1" stroke="#000" stroke-width="1.1"/>
<line x1="284" y1="109.4" x2="284" y2="111.1" stroke="#000" stroke-width="1.1"/>
<line x1="285.16" y1="109.4" x2="285.16" y2="111.1" stroke="#000" stroke-width="1.1"/>
<line x1="286.14" y1="109.4" x2="286.14" y2="111.1" stroke="#000" stroke-width="1.1"/>
<line x1="286.99" y1="109.4" x2="286.99" y2="111.1" stroke="#000" stroke-width="1.1"/>
<line x1="287.73" y1="109.4" x2="287.73" y2="111.1" stroke="#000" stroke-width="1.1"/>
<line x1="288.4" y1="109.4" x2="288.4" y2="112.4" stroke="#000" stroke-width="1.1"/>
<line x1="292.8" y1="109.4" x2="292.8" y2="111.1" stroke="#000" stroke-width="1.1"/>
<line x1="295.37" y1="109.4" x2="295.37" y2="111.1" stroke="#000" stroke-width="1.1"/>
<line x1="297.19" y1="109.4" x2="297.19" y2="111.1" stroke="#000" stroke-width="1.1"/>
<line x1="298.6" y1="109.4" x2="298.6" y2="111.1" stroke="#000" stroke-width="1.1"/>
<line x1="299.76" y1="109.4" x2="299.76" y2="111.1" stroke="#000" stroke-width="1.1"/>
<line x1="300.74" y1="109.4" x2="300.74" y2="111.1" stroke="#000" stroke-width="1.1"/>
<line x1="301.59" y1="109.4" x2="301.59" y2="111.1" stroke="#000" stroke-width="1.1"/>
<line x1="302.33" y1="109.4" x2="302.33" y2="111.1" stroke="#000" stroke-width="1.1"/>
<line x1="303" y1="109.4" x2="303" y2="112.4" stroke="#000" stroke-width="1.1"/>
<line x1="307.4" y1="109.4" x2="307.4" y2="111.1" stroke="#000" stroke-width="1.1"/>
<line x1="309.97" y1="109.4" x2="309.97" y2="111.1" stroke="#000" stroke-width="1.1"/>
<line x1="311.79" y1="109.4" x2="311.79" y2="111.1" stroke="#000" stroke-width="1.1"/>
<line x1="313.2" y1="109.4" x2="313.2" y2="111.1" stroke="#000" stroke-width="1.1"/>
<line x1="314.36" y1="109.4" x2="314.36" y2="111.1" stroke="#000" stroke-width="1.1"/>
<line x1="315.34" y1="109.4" x2="315.34" y2="111.1" stroke="#000" stroke-width="1.1"/>
<line x1="316.19" y1="109.4" x2="316.19" y2="111.1" stroke="#000" stroke-width="1.1"/>
<line x1="316.93" y1="109.4" x2="316.93" y2="111.1" stroke="#000" stroke-width="1.1"/>
<line x1="317.6" y1="109.4" x2="317.6" y2="112.4" stroke="#000" stroke-width="1.1"/>
<line x1="322" y1="109.4" x2="322" y2="111.1" stroke="#000" stroke-width="1.1"/>
<line x1="324.57" y1="109.4" x2="324.57" y2="111.1" stroke="#000" stroke-width="1.1"/>
<line x1="326.39" y1="109.4" x2="326.39" y2="111.1" stroke="#000" stroke-width="1.1"/>
<line x1="327.8" y1="109.4" x2="327.8" y2="111.1" stroke="#000" stroke-width="1.1"/>
<line x1="328.96" y1="109.4" x2="328.96" y2="111.1" stroke="#000" stroke-width="1.1"/>
<line x1="329.94" y1="109.4" x2="329.94" y2="111.1" stroke="#000" stroke-width="1.1"/>
<line x1="330.79" y1="109.4" x2="330.79" y2="111.1" stroke="#000" stroke-width="1.1"/>
<line x1="331.53" y1="109.4" x2="331.53" y2="111.1" stroke="#000" stroke-width="1.1"/>
<line x1="332.2" y1="109.4" x2="332.2" y2="112.4" stroke="#000" stroke-width="1.1"/>
<line x1="336.6" y1="109.4" x2="336.6" y2="111.1" stroke="#000" stroke-width="1.1"/>
<line x1="339.17" y1="109.4" x2="339.17" y2="111.1" stroke="#000" stroke-width="1.1"/>
<line x1="340.99" y1="109.4" x2="340.99" y2="111.1" stroke="#000" stroke-width="1.1"/>
<line x1="342.4" y1="109.4" x2="342.4" y2="111.1" stroke="#000" stroke-width="1.1"/>
<line x1="343.56" y1="109.4" x2="343.56" y2="111.1" stroke="#000" stroke-width="1.1"/>
<line x1="344.54" y1="109.4" x2="344.54" y2="111.1" stroke="#000" stroke-width="1.1"/>
<line x1="345.39" y1="109.4" x2="345.39" y2="111.1" stroke="#000" stroke-width="1.1"/>
<line x1="346.13" y1="109.4" x2="346.13" y2="111.1" stroke="#000" stroke-width="1.1"/>
<line x1="346.8" y1="109.4" x2="346.8" y2="112.4" stroke="#000" stroke-width="1.1"/>
<line x1="270.8" y1="109.4" x2="273.8" y2="109.4" stroke="#000" stroke-width="1.1"/>
<line x1="272.1" y1="105.06" x2="273.8" y2="105.06" stroke="#000" stroke-width="1.1"/>
<line x1="272.1" y1="102.52" x2="273.8" y2="102.52" stroke="#000" stroke-width="1.1"/>
<line x1="272.1" y1="100.72" x2="273.8" y2="100.72" stroke="#000" stroke-width="1.1"/>
<line x1="272.1" y1="99.32" x2="273.8" y2="99.32" stroke="#000" stroke-width="1.1"/>
<line x1="272.1" y1="98.18" x2="273.8" y2="98.18" stroke="#000" stroke-width="1.1"/>
<line x1="272.1" y1="97.21" x2="273.8" y2="97.21" stroke="#000" stroke-width="1.1"/>
<line x1="272.1" y1="96.38" x2="273.8" y2="96.38" stroke="#000" stroke-width="1.1"/>
<line x1="272.1" y1="95.64" x2="273.8" y2="95.64" stroke="#000" stroke-width="1.1"/>
<line x1="270.8" y1="94.98" x2="273.8" y2="94.98" stroke="#000" stroke-width="1.1"/>
<line x1="272.1" y1="90.64" x2="273.8" y2="90.64" stroke="#000" stroke-width="1.1"/>
<line x1="272.1" y1="88.1" x2="273.8" y2="88.1" stroke="#000" stroke-width="1.1"/>
<line x1="272.1" y1="86.3" x2="273.8" y2="86.3" stroke="#000" stroke-width="1.1"/>
<line x1="272.1" y1="84.9" x2="273.8" y2="84.9" stroke="#000" stroke-width="1.1"/>
<line x1="272.1" y1="83.76" x2="273.8" y2="83.76" stroke="#000" stroke-width="1.1"/>
<line x1="272.1" y1="82.79" x2="273.8" y2="82.79" stroke="#000" stroke-width="1.1"/>
<line x1="272.1" y1="81.96" x2="273.8" y2="81.96" stroke="#000" stroke-width="1.1"/>
<line x1="272.1" y1="81.22" x2="273.8" y2="81.22" stroke="#000" stroke-width="1.1"/>
<line x1="270.8" y1="80.56" x2="273.8" y2="80.56" stroke="#000" stroke-width="1.1"/>
<line x1="272.1" y1="76.22" x2="273.8" y2="76.22" stroke="#000" stroke-width="1.1"/>
<line x1="272.1" y1="73.68" x2="273.8" y2="73.68" stroke="#000" stroke-width="1.1"/>
<line x1="272.1" y1="71.88" x2="273.8" y2="71.88" stroke="#000" stroke-width="1.1"/>
<line x1="272.1" y1="70.48" x2="273.8" y2="70.48" stroke="#000" stroke-width="1.1"/>
<line x1="272.1" y1="69.34" x2="273.8" y2="69.34" stroke="#000" stroke-width="1.1"/>
<line x1="272.1" y1="68.37" x2="273.8" y2="68.37" stroke="#000" stroke-width="1.1"/>
<line x1="272.1" y1="67.54" x2="273.8" y2="67.54" stroke="#000" stroke-width="1.1"/>
<line x1="272.1" y1="66.8" x2="273.8" y2="66.8" stroke="#000" stroke-width="1.1"/>
<line x1="270.8" y1="66.14" x2="273.8" y2="66.14" stroke="#000" stroke-width="1.1"/>
<line x1="272.1" y1="61.8" x2="273.8" y2="61.8" stroke="#000" stroke-width="1.1"/>
<line x1="272.1" y1="59.26" x2="273.8" y2="59.26" stroke="#000" stroke-width="1.1"/>
<line x1="272.1" y1="57.46" x2="273.8" y2="57.46" stroke="#000" stroke-width="1.1"/>
<line x1="272.1" y1="56.06" x2="273.8" y2="56.06" stroke="#000" stroke-width="1.1"/>
<line x1="272.1" y1="54.92" x2="273.8" y2="54.92" stroke="#000" stroke-width="1.1"/>
<line x1="272.1" y1="53.95" x2="273.8" y2="53.95" stroke="#000" stroke-width="1.1"/>
<line x1="272.1" y1="53.12" x2="273.8" y2="53.12" stroke="#000" stroke-width="1.1"/>
<line x1="272.1" y1="52.38" x2="273.8" y2="52.38" stroke="#000" stroke-width="1.1"/>
<line x1="270.8" y1="51.72" x2="273.8" y2="51.72" stroke="#000" stroke-width="1.1"/>
<line x1="272.1" y1="47.38" x2="273.8" y2="47.38" stroke="#000" stroke-width="1.1"/>
<line x1="272.1" y1="44.84" x2="273.8" y2="44.84" stroke="#000" stroke-width="1.1"/>
<line x1="272.1" y1="43.04" x2="273.8" y2="43.04" stroke="#000" stroke-width="1.1"/>
<line x1="272.1" y1="41.64" x2="273.8" y2="41.64" stroke="#000" stroke-width="1.1"/>
<line x1="272.1" y1="40.5" x2="273.8" y2="40.5" stroke="#000" stroke-width="1.1"/>
<line x1="272.1" y1="39.53" x2="273.8" y2="39.53" stroke="#000" stroke-width="1.1"/>
<line x1="272.1" y1="38.7" x2="273.8" y2="38.7" stroke="#000" stroke-width="1.1"/>
<line x1="272.1" y1="37.96" x2="273.8" y2="37.96" stroke="#000" stroke-width="1.1"/>
<line x1="270.8" y1="37.3" x2="273.8" y2="37.3" stroke="#000" stroke-width="1.1"/>
<rect x="304.4" y="52.3" width="23.3" height="35.7" fill="none" stroke="#111" stroke-width="1.4" />
<line x1="315.6" y1="52.3" x2="315.6" y2="88" stroke="#111" stroke-width="1.4"/>
<line x1="304.4" y1="74.9" x2="315.6" y2="74.9" stroke="#111" stroke-width="1.4"/>
<text x="310" y="50" font-size="5.4" text-anchor="middle" font-weight="normal" font-style="normal" fill="#1a1a1a" >0.72%</text>
<text x="328.3" y="73.75" font-size="5.4" text-anchor="start" font-weight="normal" font-style="normal" fill="#1a1a1a" >3.39%</text>
<text x="310" y="96" font-size="5.4" text-anchor="middle" font-weight="normal" font-style="normal" fill="#1a1a1a" >9.08%</text>
<g transform="translate(273.9,120.8) scale(0.85,1)"><text x="-3.56" y="0" font-size="6.4" fill="#1a1a1a">10<tspan font-size="3.9" dx="0.5" dy="-2.9">1</tspan></text></g>
<g transform="translate(288.5,120.8) scale(0.85,1)"><text x="-3.56" y="0" font-size="6.4" fill="#1a1a1a">10<tspan font-size="3.9" dx="0.5" dy="-2.9">2</tspan></text></g>
<g transform="translate(303.1,120.8) scale(0.85,1)"><text x="-3.56" y="0" font-size="6.4" fill="#1a1a1a">10<tspan font-size="3.9" dx="0.5" dy="-2.9">3</tspan></text></g>
<g transform="translate(317.7,120.8) scale(0.85,1)"><text x="-3.56" y="0" font-size="6.4" fill="#1a1a1a">10<tspan font-size="3.9" dx="0.5" dy="-2.9">4</tspan></text></g>
<g transform="translate(332.3,120.8) scale(0.85,1)"><text x="-3.56" y="0" font-size="6.4" fill="#1a1a1a">10<tspan font-size="3.9" dx="0.5" dy="-2.9">5</tspan></text></g>
<g transform="translate(346.9,120.8) scale(0.85,1)"><text x="-3.56" y="0" font-size="6.4" fill="#1a1a1a">10<tspan font-size="3.9" dx="0.5" dy="-2.9">6</tspan></text></g>
<g transform="translate(310.3,30.8) scale(0.83,1)"><text x="0" y="0" font-size="8.9" font-style="italic" text-anchor="middle" fill="#222">Cbp<tspan font-size="6.85" dy="-2.4">Δ/Δ</tspan></text></g>
<g clip-path="url(#clipA4)">
<g filter="url(#spk1)">
<ellipse cx="377.5" cy="80.9" rx="19" ry="15" fill="#a8a0e8" fill-opacity="0.5" filter="url(#b2.5)"/>
<ellipse cx="386.5" cy="67.9" rx="12" ry="9" fill="#b8b0ec" fill-opacity="0.3" filter="url(#b3)"/>
<polygon points="359.46,80.44 368.42,73.42 377.38,70.72 385.22,71.26 389.14,75.58 389.14,80.98 384.1,86.92 379.06,92.86 372.9,88" fill="#5060d8" fill-opacity="0.95" filter="url(#b1.2)"/>
<polygon points="361.84,80.38 369.68,74.2 377.52,71.83 384.38,72.3 387.81,76.1 387.81,80.85 383.4,86.08 378.99,91.3 373.6,87.03" fill="#3048c0" fill-opacity="1" filter="url(#b0.8)"/>
</g>
<g filter="url(#spd1)">
<ellipse cx="400" cy="71.15" rx="8.5" ry="19" fill="#5a70d0" fill-opacity="0.675" filter="url(#b1.6)"/>
<ellipse cx="394.1" cy="82.45" rx="5.5" ry="8" fill="#5a78cc" fill-opacity="0.5625" filter="url(#b1.6)"/>
</g>
<polygon points="362.86,80.35 370.22,74.5 377.58,72.25 384.02,72.7 387.24,76.3 387.24,80.8 383.1,85.75 378.96,90.7 373.9,86.65" fill="#3448b8" fill-opacity="0.75" filter="url(#b0.8)"/>
<polygon points="365.58,80.28 371.66,75.34 377.74,73.44 383.06,73.82 385.72,76.86 385.72,80.66 382.3,84.84 378.88,89.02 374.7,85.6" fill="#3478c4" fill-opacity="0.9" filter="url(#b0.8)"/>
<polygon points="368.26,80.22 373.22,76.06 378.18,74.46 382.52,74.78 384.69,77.34 384.69,80.54 381.9,84.06 379.11,87.58 375.7,84.7" fill="#38a8b8" fill-opacity="0.95" filter="url(#b0.7)"/>
<ellipse cx="378.5" cy="80.5" rx="6.2" ry="5.6" fill="#58b860" fill-opacity="1" filter="url(#b0.7)"/>
<ellipse cx="378.7" cy="80" rx="4.7" ry="4.2" fill="#a8cc48" fill-opacity="1" filter="url(#b0.6)"/>
<ellipse cx="378.8" cy="79.7" rx="3.7" ry="3.3" fill="#e6d434" fill-opacity="1" filter="url(#b0.5)"/>
<ellipse cx="378.8" cy="79.6" rx="2.4" ry="2.1" fill="#e09a24" fill-opacity="1" filter="url(#b0.5)"/>
<ellipse cx="378.8" cy="79.6" rx="1.2" ry="1.1" fill="#b85418" fill-opacity="1" filter="url(#b0.4)"/>
</g>
<rect x="355.4" y="37.3" width="73" height="72.1" fill="none" stroke="#111" stroke-width="1.3" />
<line x1="355.4" y1="109.4" x2="355.4" y2="112.4" stroke="#000" stroke-width="1.1"/>
<line x1="359.8" y1="109.4" x2="359.8" y2="111.1" stroke="#000" stroke-width="1.1"/>
<line x1="362.37" y1="109.4" x2="362.37" y2="111.1" stroke="#000" stroke-width="1.1"/>
<line x1="364.19" y1="109.4" x2="364.19" y2="111.1" stroke="#000" stroke-width="1.1"/>
<line x1="365.6" y1="109.4" x2="365.6" y2="111.1" stroke="#000" stroke-width="1.1"/>
<line x1="366.76" y1="109.4" x2="366.76" y2="111.1" stroke="#000" stroke-width="1.1"/>
<line x1="367.74" y1="109.4" x2="367.74" y2="111.1" stroke="#000" stroke-width="1.1"/>
<line x1="368.59" y1="109.4" x2="368.59" y2="111.1" stroke="#000" stroke-width="1.1"/>
<line x1="369.33" y1="109.4" x2="369.33" y2="111.1" stroke="#000" stroke-width="1.1"/>
<line x1="370" y1="109.4" x2="370" y2="112.4" stroke="#000" stroke-width="1.1"/>
<line x1="374.4" y1="109.4" x2="374.4" y2="111.1" stroke="#000" stroke-width="1.1"/>
<line x1="376.97" y1="109.4" x2="376.97" y2="111.1" stroke="#000" stroke-width="1.1"/>
<line x1="378.79" y1="109.4" x2="378.79" y2="111.1" stroke="#000" stroke-width="1.1"/>
<line x1="380.2" y1="109.4" x2="380.2" y2="111.1" stroke="#000" stroke-width="1.1"/>
<line x1="381.36" y1="109.4" x2="381.36" y2="111.1" stroke="#000" stroke-width="1.1"/>
<line x1="382.34" y1="109.4" x2="382.34" y2="111.1" stroke="#000" stroke-width="1.1"/>
<line x1="383.19" y1="109.4" x2="383.19" y2="111.1" stroke="#000" stroke-width="1.1"/>
<line x1="383.93" y1="109.4" x2="383.93" y2="111.1" stroke="#000" stroke-width="1.1"/>
<line x1="384.6" y1="109.4" x2="384.6" y2="112.4" stroke="#000" stroke-width="1.1"/>
<line x1="389" y1="109.4" x2="389" y2="111.1" stroke="#000" stroke-width="1.1"/>
<line x1="391.57" y1="109.4" x2="391.57" y2="111.1" stroke="#000" stroke-width="1.1"/>
<line x1="393.39" y1="109.4" x2="393.39" y2="111.1" stroke="#000" stroke-width="1.1"/>
<line x1="394.8" y1="109.4" x2="394.8" y2="111.1" stroke="#000" stroke-width="1.1"/>
<line x1="395.96" y1="109.4" x2="395.96" y2="111.1" stroke="#000" stroke-width="1.1"/>
<line x1="396.94" y1="109.4" x2="396.94" y2="111.1" stroke="#000" stroke-width="1.1"/>
<line x1="397.79" y1="109.4" x2="397.79" y2="111.1" stroke="#000" stroke-width="1.1"/>
<line x1="398.53" y1="109.4" x2="398.53" y2="111.1" stroke="#000" stroke-width="1.1"/>
<line x1="399.2" y1="109.4" x2="399.2" y2="112.4" stroke="#000" stroke-width="1.1"/>
<line x1="403.6" y1="109.4" x2="403.6" y2="111.1" stroke="#000" stroke-width="1.1"/>
<line x1="406.17" y1="109.4" x2="406.17" y2="111.1" stroke="#000" stroke-width="1.1"/>
<line x1="407.99" y1="109.4" x2="407.99" y2="111.1" stroke="#000" stroke-width="1.1"/>
<line x1="409.4" y1="109.4" x2="409.4" y2="111.1" stroke="#000" stroke-width="1.1"/>
<line x1="410.56" y1="109.4" x2="410.56" y2="111.1" stroke="#000" stroke-width="1.1"/>
<line x1="411.54" y1="109.4" x2="411.54" y2="111.1" stroke="#000" stroke-width="1.1"/>
<line x1="412.39" y1="109.4" x2="412.39" y2="111.1" stroke="#000" stroke-width="1.1"/>
<line x1="413.13" y1="109.4" x2="413.13" y2="111.1" stroke="#000" stroke-width="1.1"/>
<line x1="413.8" y1="109.4" x2="413.8" y2="112.4" stroke="#000" stroke-width="1.1"/>
<line x1="418.2" y1="109.4" x2="418.2" y2="111.1" stroke="#000" stroke-width="1.1"/>
<line x1="420.77" y1="109.4" x2="420.77" y2="111.1" stroke="#000" stroke-width="1.1"/>
<line x1="422.59" y1="109.4" x2="422.59" y2="111.1" stroke="#000" stroke-width="1.1"/>
<line x1="424" y1="109.4" x2="424" y2="111.1" stroke="#000" stroke-width="1.1"/>
<line x1="425.16" y1="109.4" x2="425.16" y2="111.1" stroke="#000" stroke-width="1.1"/>
<line x1="426.14" y1="109.4" x2="426.14" y2="111.1" stroke="#000" stroke-width="1.1"/>
<line x1="426.99" y1="109.4" x2="426.99" y2="111.1" stroke="#000" stroke-width="1.1"/>
<line x1="427.73" y1="109.4" x2="427.73" y2="111.1" stroke="#000" stroke-width="1.1"/>
<line x1="428.4" y1="109.4" x2="428.4" y2="112.4" stroke="#000" stroke-width="1.1"/>
<line x1="352.4" y1="109.4" x2="355.4" y2="109.4" stroke="#000" stroke-width="1.1"/>
<line x1="353.7" y1="105.06" x2="355.4" y2="105.06" stroke="#000" stroke-width="1.1"/>
<line x1="353.7" y1="102.52" x2="355.4" y2="102.52" stroke="#000" stroke-width="1.1"/>
<line x1="353.7" y1="100.72" x2="355.4" y2="100.72" stroke="#000" stroke-width="1.1"/>
<line x1="353.7" y1="99.32" x2="355.4" y2="99.32" stroke="#000" stroke-width="1.1"/>
<line x1="353.7" y1="98.18" x2="355.4" y2="98.18" stroke="#000" stroke-width="1.1"/>
<line x1="353.7" y1="97.21" x2="355.4" y2="97.21" stroke="#000" stroke-width="1.1"/>
<line x1="353.7" y1="96.38" x2="355.4" y2="96.38" stroke="#000" stroke-width="1.1"/>
<line x1="353.7" y1="95.64" x2="355.4" y2="95.64" stroke="#000" stroke-width="1.1"/>
<line x1="352.4" y1="94.98" x2="355.4" y2="94.98" stroke="#000" stroke-width="1.1"/>
<line x1="353.7" y1="90.64" x2="355.4" y2="90.64" stroke="#000" stroke-width="1.1"/>
<line x1="353.7" y1="88.1" x2="355.4" y2="88.1" stroke="#000" stroke-width="1.1"/>
<line x1="353.7" y1="86.3" x2="355.4" y2="86.3" stroke="#000" stroke-width="1.1"/>
<line x1="353.7" y1="84.9" x2="355.4" y2="84.9" stroke="#000" stroke-width="1.1"/>
<line x1="353.7" y1="83.76" x2="355.4" y2="83.76" stroke="#000" stroke-width="1.1"/>
<line x1="353.7" y1="82.79" x2="355.4" y2="82.79" stroke="#000" stroke-width="1.1"/>
<line x1="353.7" y1="81.96" x2="355.4" y2="81.96" stroke="#000" stroke-width="1.1"/>
<line x1="353.7" y1="81.22" x2="355.4" y2="81.22" stroke="#000" stroke-width="1.1"/>
<line x1="352.4" y1="80.56" x2="355.4" y2="80.56" stroke="#000" stroke-width="1.1"/>
<line x1="353.7" y1="76.22" x2="355.4" y2="76.22" stroke="#000" stroke-width="1.1"/>
<line x1="353.7" y1="73.68" x2="355.4" y2="73.68" stroke="#000" stroke-width="1.1"/>
<line x1="353.7" y1="71.88" x2="355.4" y2="71.88" stroke="#000" stroke-width="1.1"/>
<line x1="353.7" y1="70.48" x2="355.4" y2="70.48" stroke="#000" stroke-width="1.1"/>
<line x1="353.7" y1="69.34" x2="355.4" y2="69.34" stroke="#000" stroke-width="1.1"/>
<line x1="353.7" y1="68.37" x2="355.4" y2="68.37" stroke="#000" stroke-width="1.1"/>
<line x1="353.7" y1="67.54" x2="355.4" y2="67.54" stroke="#000" stroke-width="1.1"/>
<line x1="353.7" y1="66.8" x2="355.4" y2="66.8" stroke="#000" stroke-width="1.1"/>
<line x1="352.4" y1="66.14" x2="355.4" y2="66.14" stroke="#000" stroke-width="1.1"/>
<line x1="353.7" y1="61.8" x2="355.4" y2="61.8" stroke="#000" stroke-width="1.1"/>
<line x1="353.7" y1="59.26" x2="355.4" y2="59.26" stroke="#000" stroke-width="1.1"/>
<line x1="353.7" y1="57.46" x2="355.4" y2="57.46" stroke="#000" stroke-width="1.1"/>
<line x1="353.7" y1="56.06" x2="355.4" y2="56.06" stroke="#000" stroke-width="1.1"/>
<line x1="353.7" y1="54.92" x2="355.4" y2="54.92" stroke="#000" stroke-width="1.1"/>
<line x1="353.7" y1="53.95" x2="355.4" y2="53.95" stroke="#000" stroke-width="1.1"/>
<line x1="353.7" y1="53.12" x2="355.4" y2="53.12" stroke="#000" stroke-width="1.1"/>
<line x1="353.7" y1="52.38" x2="355.4" y2="52.38" stroke="#000" stroke-width="1.1"/>
<line x1="352.4" y1="51.72" x2="355.4" y2="51.72" stroke="#000" stroke-width="1.1"/>
<line x1="353.7" y1="47.38" x2="355.4" y2="47.38" stroke="#000" stroke-width="1.1"/>
<line x1="353.7" y1="44.84" x2="355.4" y2="44.84" stroke="#000" stroke-width="1.1"/>
<line x1="353.7" y1="43.04" x2="355.4" y2="43.04" stroke="#000" stroke-width="1.1"/>
<line x1="353.7" y1="41.64" x2="355.4" y2="41.64" stroke="#000" stroke-width="1.1"/>
<line x1="353.7" y1="40.5" x2="355.4" y2="40.5" stroke="#000" stroke-width="1.1"/>
<line x1="353.7" y1="39.53" x2="355.4" y2="39.53" stroke="#000" stroke-width="1.1"/>
<line x1="353.7" y1="38.7" x2="355.4" y2="38.7" stroke="#000" stroke-width="1.1"/>
<line x1="353.7" y1="37.96" x2="355.4" y2="37.96" stroke="#000" stroke-width="1.1"/>
<line x1="352.4" y1="37.3" x2="355.4" y2="37.3" stroke="#000" stroke-width="1.1"/>
<rect x="389.2" y="52.3" width="22.8" height="35.7" fill="none" stroke="#111" stroke-width="1.4" />
<line x1="399" y1="52.3" x2="399" y2="88" stroke="#111" stroke-width="1.4"/>
<line x1="389.2" y1="74.9" x2="399" y2="74.9" stroke="#111" stroke-width="1.4"/>
<text x="394.1" y="50" font-size="5.4" text-anchor="middle" font-weight="normal" font-style="normal" fill="#1a1a1a" >3.28%</text>
<text x="412.6" y="73.75" font-size="5.4" text-anchor="start" font-weight="normal" font-style="normal" fill="#1a1a1a" >9.63%</text>
<text x="394.1" y="96" font-size="5.4" text-anchor="middle" font-weight="normal" font-style="normal" fill="#1a1a1a" >4.96%</text>
<g transform="translate(355.5,120.8) scale(0.85,1)"><text x="-3.56" y="0" font-size="6.4" fill="#1a1a1a">10<tspan font-size="3.9" dx="0.5" dy="-2.9">1</tspan></text></g>
<g transform="translate(370.1,120.8) scale(0.85,1)"><text x="-3.56" y="0" font-size="6.4" fill="#1a1a1a">10<tspan font-size="3.9" dx="0.5" dy="-2.9">2</tspan></text></g>
<g transform="translate(384.7,120.8) scale(0.85,1)"><text x="-3.56" y="0" font-size="6.4" fill="#1a1a1a">10<tspan font-size="3.9" dx="0.5" dy="-2.9">3</tspan></text></g>
<g transform="translate(399.3,120.8) scale(0.85,1)"><text x="-3.56" y="0" font-size="6.4" fill="#1a1a1a">10<tspan font-size="3.9" dx="0.5" dy="-2.9">4</tspan></text></g>
<g transform="translate(413.9,120.8) scale(0.85,1)"><text x="-3.56" y="0" font-size="6.4" fill="#1a1a1a">10<tspan font-size="3.9" dx="0.5" dy="-2.9">5</tspan></text></g>
<g transform="translate(428.5,120.8) scale(0.85,1)"><text x="-3.56" y="0" font-size="6.4" fill="#1a1a1a">10<tspan font-size="3.9" dx="0.5" dy="-2.9">6</tspan></text></g>
<g transform="translate(391.9,30.8) scale(0.83,1)"><text x="0" y="0" font-size="8.9" font-style="italic" text-anchor="middle" fill="#222">Cbp<tspan font-size="6.85" dy="-2.4">WT/Δ</tspan><tspan dy="2.4"> x EμBcl2</tspan></text></g>
<g clip-path="url(#clipA5)">
<g filter="url(#spk2)">
<ellipse cx="458.6" cy="80.6" rx="19" ry="15" fill="#a8a0e8" fill-opacity="0.5" filter="url(#b2.5)"/>
<ellipse cx="467.6" cy="67.6" rx="12" ry="9" fill="#b8b0ec" fill-opacity="0.3" filter="url(#b3)"/>
<polygon points="440.56,80.14 449.52,73.12 458.48,70.42 466.32,70.96 470.24,75.28 470.24,80.68 465.2,86.62 460.16,92.56 454,87.7" fill="#5060d8" fill-opacity="0.95" filter="url(#b1.2)"/>
<polygon points="442.94,80.07 450.78,73.9 458.62,71.52 465.48,72 468.91,75.8 468.91,80.55 464.5,85.77 460.09,91 454.7,86.72" fill="#3048c0" fill-opacity="1" filter="url(#b0.8)"/>
</g>
<g filter="url(#spd2)">
<ellipse cx="484.95" cy="70.15" rx="6" ry="19" fill="#6a74d4" fill-opacity="0.76" filter="url(#b1.6)"/>
<ellipse cx="474" cy="80.95" rx="5.5" ry="7" fill="#3a86b8" fill-opacity="0.7200000000000001" filter="url(#b1.6)"/>
<ellipse cx="475" cy="65.1" rx="4.5" ry="10" fill="#6a7ad0" fill-opacity="0.52" filter="url(#b1.6)"/>
</g>
<polygon points="443.96,80.05 451.32,74.2 458.68,71.95 465.12,72.4 468.34,76 468.34,80.5 464.2,85.45 460.06,90.4 455,86.35" fill="#3448b8" fill-opacity="0.75" filter="url(#b0.8)"/>
<polygon points="446.68,79.98 452.76,75.04 458.84,73.14 464.16,73.52 466.82,76.56 466.82,80.36 463.4,84.54 459.98,88.72 455.8,85.3" fill="#3478c4" fill-opacity="0.9" filter="url(#b0.8)"/>
<polygon points="449.36,79.92 454.32,75.76 459.28,74.16 463.62,74.48 465.79,77.04 465.79,80.24 463,83.76 460.21,87.28 456.8,84.4" fill="#38a8b8" fill-opacity="0.95" filter="url(#b0.7)"/>
<ellipse cx="459.6" cy="80.2" rx="6.2" ry="5.6" fill="#58b860" fill-opacity="1" filter="url(#b0.7)"/>
<ellipse cx="459.8" cy="79.7" rx="4.7" ry="4.2" fill="#a8cc48" fill-opacity="1" filter="url(#b0.6)"/>
<ellipse cx="459.9" cy="79.4" rx="3.7" ry="3.3" fill="#e6d434" fill-opacity="1" filter="url(#b0.5)"/>
<ellipse cx="459.9" cy="79.3" rx="2.4" ry="2.1" fill="#e09a24" fill-opacity="1" filter="url(#b0.5)"/>
<ellipse cx="459.9" cy="79.3" rx="1.2" ry="1.1" fill="#b85418" fill-opacity="1" filter="url(#b0.4)"/>
</g>
<rect x="437" y="37.3" width="73" height="72.1" fill="none" stroke="#111" stroke-width="1.3" />
<line x1="437" y1="109.4" x2="437" y2="112.4" stroke="#000" stroke-width="1.1"/>
<line x1="441.4" y1="109.4" x2="441.4" y2="111.1" stroke="#000" stroke-width="1.1"/>
<line x1="443.97" y1="109.4" x2="443.97" y2="111.1" stroke="#000" stroke-width="1.1"/>
<line x1="445.79" y1="109.4" x2="445.79" y2="111.1" stroke="#000" stroke-width="1.1"/>
<line x1="447.2" y1="109.4" x2="447.2" y2="111.1" stroke="#000" stroke-width="1.1"/>
<line x1="448.36" y1="109.4" x2="448.36" y2="111.1" stroke="#000" stroke-width="1.1"/>
<line x1="449.34" y1="109.4" x2="449.34" y2="111.1" stroke="#000" stroke-width="1.1"/>
<line x1="450.19" y1="109.4" x2="450.19" y2="111.1" stroke="#000" stroke-width="1.1"/>
<line x1="450.93" y1="109.4" x2="450.93" y2="111.1" stroke="#000" stroke-width="1.1"/>
<line x1="451.6" y1="109.4" x2="451.6" y2="112.4" stroke="#000" stroke-width="1.1"/>
<line x1="456" y1="109.4" x2="456" y2="111.1" stroke="#000" stroke-width="1.1"/>
<line x1="458.57" y1="109.4" x2="458.57" y2="111.1" stroke="#000" stroke-width="1.1"/>
<line x1="460.39" y1="109.4" x2="460.39" y2="111.1" stroke="#000" stroke-width="1.1"/>
<line x1="461.8" y1="109.4" x2="461.8" y2="111.1" stroke="#000" stroke-width="1.1"/>
<line x1="462.96" y1="109.4" x2="462.96" y2="111.1" stroke="#000" stroke-width="1.1"/>
<line x1="463.94" y1="109.4" x2="463.94" y2="111.1" stroke="#000" stroke-width="1.1"/>
<line x1="464.79" y1="109.4" x2="464.79" y2="111.1" stroke="#000" stroke-width="1.1"/>
<line x1="465.53" y1="109.4" x2="465.53" y2="111.1" stroke="#000" stroke-width="1.1"/>
<line x1="466.2" y1="109.4" x2="466.2" y2="112.4" stroke="#000" stroke-width="1.1"/>
<line x1="470.6" y1="109.4" x2="470.6" y2="111.1" stroke="#000" stroke-width="1.1"/>
<line x1="473.17" y1="109.4" x2="473.17" y2="111.1" stroke="#000" stroke-width="1.1"/>
<line x1="474.99" y1="109.4" x2="474.99" y2="111.1" stroke="#000" stroke-width="1.1"/>
<line x1="476.4" y1="109.4" x2="476.4" y2="111.1" stroke="#000" stroke-width="1.1"/>
<line x1="477.56" y1="109.4" x2="477.56" y2="111.1" stroke="#000" stroke-width="1.1"/>
<line x1="478.54" y1="109.4" x2="478.54" y2="111.1" stroke="#000" stroke-width="1.1"/>
<line x1="479.39" y1="109.4" x2="479.39" y2="111.1" stroke="#000" stroke-width="1.1"/>
<line x1="480.13" y1="109.4" x2="480.13" y2="111.1" stroke="#000" stroke-width="1.1"/>
<line x1="480.8" y1="109.4" x2="480.8" y2="112.4" stroke="#000" stroke-width="1.1"/>
<line x1="485.2" y1="109.4" x2="485.2" y2="111.1" stroke="#000" stroke-width="1.1"/>
<line x1="487.77" y1="109.4" x2="487.77" y2="111.1" stroke="#000" stroke-width="1.1"/>
<line x1="489.59" y1="109.4" x2="489.59" y2="111.1" stroke="#000" stroke-width="1.1"/>
<line x1="491" y1="109.4" x2="491" y2="111.1" stroke="#000" stroke-width="1.1"/>
<line x1="492.16" y1="109.4" x2="492.16" y2="111.1" stroke="#000" stroke-width="1.1"/>
<line x1="493.14" y1="109.4" x2="493.14" y2="111.1" stroke="#000" stroke-width="1.1"/>
<line x1="493.99" y1="109.4" x2="493.99" y2="111.1" stroke="#000" stroke-width="1.1"/>
<line x1="494.73" y1="109.4" x2="494.73" y2="111.1" stroke="#000" stroke-width="1.1"/>
<line x1="495.4" y1="109.4" x2="495.4" y2="112.4" stroke="#000" stroke-width="1.1"/>
<line x1="499.8" y1="109.4" x2="499.8" y2="111.1" stroke="#000" stroke-width="1.1"/>
<line x1="502.37" y1="109.4" x2="502.37" y2="111.1" stroke="#000" stroke-width="1.1"/>
<line x1="504.19" y1="109.4" x2="504.19" y2="111.1" stroke="#000" stroke-width="1.1"/>
<line x1="505.6" y1="109.4" x2="505.6" y2="111.1" stroke="#000" stroke-width="1.1"/>
<line x1="506.76" y1="109.4" x2="506.76" y2="111.1" stroke="#000" stroke-width="1.1"/>
<line x1="507.74" y1="109.4" x2="507.74" y2="111.1" stroke="#000" stroke-width="1.1"/>
<line x1="508.59" y1="109.4" x2="508.59" y2="111.1" stroke="#000" stroke-width="1.1"/>
<line x1="509.33" y1="109.4" x2="509.33" y2="111.1" stroke="#000" stroke-width="1.1"/>
<line x1="510" y1="109.4" x2="510" y2="112.4" stroke="#000" stroke-width="1.1"/>
<line x1="434" y1="109.4" x2="437" y2="109.4" stroke="#000" stroke-width="1.1"/>
<line x1="435.3" y1="105.06" x2="437" y2="105.06" stroke="#000" stroke-width="1.1"/>
<line x1="435.3" y1="102.52" x2="437" y2="102.52" stroke="#000" stroke-width="1.1"/>
<line x1="435.3" y1="100.72" x2="437" y2="100.72" stroke="#000" stroke-width="1.1"/>
<line x1="435.3" y1="99.32" x2="437" y2="99.32" stroke="#000" stroke-width="1.1"/>
<line x1="435.3" y1="98.18" x2="437" y2="98.18" stroke="#000" stroke-width="1.1"/>
<line x1="435.3" y1="97.21" x2="437" y2="97.21" stroke="#000" stroke-width="1.1"/>
<line x1="435.3" y1="96.38" x2="437" y2="96.38" stroke="#000" stroke-width="1.1"/>
<line x1="435.3" y1="95.64" x2="437" y2="95.64" stroke="#000" stroke-width="1.1"/>
<line x1="434" y1="94.98" x2="437" y2="94.98" stroke="#000" stroke-width="1.1"/>
<line x1="435.3" y1="90.64" x2="437" y2="90.64" stroke="#000" stroke-width="1.1"/>
<line x1="435.3" y1="88.1" x2="437" y2="88.1" stroke="#000" stroke-width="1.1"/>
<line x1="435.3" y1="86.3" x2="437" y2="86.3" stroke="#000" stroke-width="1.1"/>
<line x1="435.3" y1="84.9" x2="437" y2="84.9" stroke="#000" stroke-width="1.1"/>
<line x1="435.3" y1="83.76" x2="437" y2="83.76" stroke="#000" stroke-width="1.1"/>
<line x1="435.3" y1="82.79" x2="437" y2="82.79" stroke="#000" stroke-width="1.1"/>
<line x1="435.3" y1="81.96" x2="437" y2="81.96" stroke="#000" stroke-width="1.1"/>
<line x1="435.3" y1="81.22" x2="437" y2="81.22" stroke="#000" stroke-width="1.1"/>
<line x1="434" y1="80.56" x2="437" y2="80.56" stroke="#000" stroke-width="1.1"/>
<line x1="435.3" y1="76.22" x2="437" y2="76.22" stroke="#000" stroke-width="1.1"/>
<line x1="435.3" y1="73.68" x2="437" y2="73.68" stroke="#000" stroke-width="1.1"/>
<line x1="435.3" y1="71.88" x2="437" y2="71.88" stroke="#000" stroke-width="1.1"/>
<line x1="435.3" y1="70.48" x2="437" y2="70.48" stroke="#000" stroke-width="1.1"/>
<line x1="435.3" y1="69.34" x2="437" y2="69.34" stroke="#000" stroke-width="1.1"/>
<line x1="435.3" y1="68.37" x2="437" y2="68.37" stroke="#000" stroke-width="1.1"/>
<line x1="435.3" y1="67.54" x2="437" y2="67.54" stroke="#000" stroke-width="1.1"/>
<line x1="435.3" y1="66.8" x2="437" y2="66.8" stroke="#000" stroke-width="1.1"/>
<line x1="434" y1="66.14" x2="437" y2="66.14" stroke="#000" stroke-width="1.1"/>
<line x1="435.3" y1="61.8" x2="437" y2="61.8" stroke="#000" stroke-width="1.1"/>
<line x1="435.3" y1="59.26" x2="437" y2="59.26" stroke="#000" stroke-width="1.1"/>
<line x1="435.3" y1="57.46" x2="437" y2="57.46" stroke="#000" stroke-width="1.1"/>
<line x1="435.3" y1="56.06" x2="437" y2="56.06" stroke="#000" stroke-width="1.1"/>
<line x1="435.3" y1="54.92" x2="437" y2="54.92" stroke="#000" stroke-width="1.1"/>
<line x1="435.3" y1="53.95" x2="437" y2="53.95" stroke="#000" stroke-width="1.1"/>
<line x1="435.3" y1="53.12" x2="437" y2="53.12" stroke="#000" stroke-width="1.1"/>
<line x1="435.3" y1="52.38" x2="437" y2="52.38" stroke="#000" stroke-width="1.1"/>
<line x1="434" y1="51.72" x2="437" y2="51.72" stroke="#000" stroke-width="1.1"/>
<line x1="435.3" y1="47.38" x2="437" y2="47.38" stroke="#000" stroke-width="1.1"/>
<line x1="435.3" y1="44.84" x2="437" y2="44.84" stroke="#000" stroke-width="1.1"/>
<line x1="435.3" y1="43.04" x2="437" y2="43.04" stroke="#000" stroke-width="1.1"/>
<line x1="435.3" y1="41.64" x2="437" y2="41.64" stroke="#000" stroke-width="1.1"/>
<line x1="435.3" y1="40.5" x2="437" y2="40.5" stroke="#000" stroke-width="1.1"/>
<line x1="435.3" y1="39.53" x2="437" y2="39.53" stroke="#000" stroke-width="1.1"/>
<line x1="435.3" y1="38.7" x2="437" y2="38.7" stroke="#000" stroke-width="1.1"/>
<line x1="435.3" y1="37.96" x2="437" y2="37.96" stroke="#000" stroke-width="1.1"/>
<line x1="434" y1="37.3" x2="437" y2="37.3" stroke="#000" stroke-width="1.1"/>
<rect x="469.1" y="52.3" width="21.9" height="35.7" fill="none" stroke="#111" stroke-width="1.4" />
<line x1="478.9" y1="52.3" x2="478.9" y2="88" stroke="#111" stroke-width="1.4"/>
<line x1="469.1" y1="73.9" x2="478.9" y2="73.9" stroke="#111" stroke-width="1.4"/>
<text x="474" y="50" font-size="5.4" text-anchor="middle" font-weight="normal" font-style="normal" fill="#1a1a1a" >3.89%</text>
<text x="491.6" y="73.75" font-size="5.4" text-anchor="start" font-weight="normal" font-style="normal" fill="#1a1a1a" >11.6%</text>
<text x="474" y="96" font-size="5.4" text-anchor="middle" font-weight="normal" font-style="normal" fill="#1a1a1a" >9.25%</text>
<g transform="translate(437.1,120.8) scale(0.85,1)"><text x="-3.56" y="0" font-size="6.4" fill="#1a1a1a">10<tspan font-size="3.9" dx="0.5" dy="-2.9">1</tspan></text></g>
<g transform="translate(451.7,120.8) scale(0.85,1)"><text x="-3.56" y="0" font-size="6.4" fill="#1a1a1a">10<tspan font-size="3.9" dx="0.5" dy="-2.9">2</tspan></text></g>
<g transform="translate(466.3,120.8) scale(0.85,1)"><text x="-3.56" y="0" font-size="6.4" fill="#1a1a1a">10<tspan font-size="3.9" dx="0.5" dy="-2.9">3</tspan></text></g>
<g transform="translate(480.9,120.8) scale(0.85,1)"><text x="-3.56" y="0" font-size="6.4" fill="#1a1a1a">10<tspan font-size="3.9" dx="0.5" dy="-2.9">4</tspan></text></g>
<g transform="translate(495.5,120.8) scale(0.85,1)"><text x="-3.56" y="0" font-size="6.4" fill="#1a1a1a">10<tspan font-size="3.9" dx="0.5" dy="-2.9">5</tspan></text></g>
<g transform="translate(510.1,120.8) scale(0.85,1)"><text x="-3.56" y="0" font-size="6.4" fill="#1a1a1a">10<tspan font-size="3.9" dx="0.5" dy="-2.9">6</tspan></text></g>
<g transform="translate(473.5,30.8) scale(0.83,1)"><text x="0" y="0" font-size="8.9" font-style="italic" text-anchor="middle" fill="#222">Cbp<tspan font-size="6.85" dy="-2.4">Δ/Δ</tspan><tspan dy="2.4"> x EμBcl2</tspan></text></g>
<g transform="translate(12.4,77.9) rotate(-90) scale(0.85,1)"><text x="0" y="0" font-size="9" text-anchor="middle" fill="#1a1a1a">IgM</text></g>
<line x1="10.6" y1="89.5" x2="10.6" y2="129.2" stroke="#111" stroke-width="1.1"/>
<polygon points="10.6,86.2 8.3,91.2 12.9,91.2" fill="#111"/>
<line x1="10" y1="128.8" x2="48.5" y2="128.8" stroke="#111" stroke-width="1.1"/>
<polygon points="52.2,128.8 47.2,126.5 47.2,131.1" fill="#111"/>
<g transform="translate(54.4,132.6) scale(0.82,1)"><text x="0" y="0" font-size="9" fill="#1a1a1a">B220</text></g>
<text x="6.5" y="156.3" font-size="11.6" text-anchor="start" font-weight="bold" font-style="normal" fill="#000" >B</text>
<g transform="translate(82.5,167.6)"><text x="0" y="0" font-size="8.4" text-anchor="middle" fill="#222" textLength="47.5" lengthAdjust="spacingAndGlyphs">Total B-cells</text></g>
<line x1="39.7" y1="175.8" x2="39.7" y2="238.4" stroke="#111" stroke-width="1.3"/>
<line x1="39.1" y1="237.8" x2="139" y2="237.8" stroke="#111" stroke-width="1.3"/>
<line x1="36.5" y1="234.9" x2="39.7" y2="234.9" stroke="#111" stroke-width="1.3"/>
<text x="33.4" y="237.2" font-size="6.5" text-anchor="end" font-weight="normal" font-style="normal" fill="#2a2a2a" >0</text>
<line x1="36.5" y1="221" x2="39.7" y2="221" stroke="#111" stroke-width="1.3"/>
<text x="33.4" y="223.3" font-size="6.5" text-anchor="end" font-weight="normal" font-style="normal" fill="#2a2a2a" >10</text>
<line x1="36.5" y1="207.1" x2="39.7" y2="207.1" stroke="#111" stroke-width="1.3"/>
<text x="33.4" y="209.4" font-size="6.5" text-anchor="end" font-weight="normal" font-style="normal" fill="#2a2a2a" >20</text>
<line x1="36.5" y1="193.2" x2="39.7" y2="193.2" stroke="#111" stroke-width="1.3"/>
<text x="33.4" y="195.5" font-size="6.5" text-anchor="end" font-weight="normal" font-style="normal" fill="#2a2a2a" >30</text>
<line x1="36.5" y1="179.3" x2="39.7" y2="179.3" stroke="#111" stroke-width="1.3"/>
<text x="33.4" y="181.6" font-size="6.5" text-anchor="end" font-weight="normal" font-style="normal" fill="#2a2a2a" >40</text>
<line x1="52" y1="198.2" x2="52" y2="204.3" stroke="#3a3a3a" stroke-width="1.05"/>
<line x1="49.6" y1="198.2" x2="54.4" y2="198.2" stroke="#333" stroke-width="1.5"/>
<line x1="52" y1="209.5" x2="52" y2="214.4" stroke="#3a3a3a" stroke-width="1.05"/>
<line x1="49.6" y1="214.4" x2="54.4" y2="214.4" stroke="#333" stroke-width="1.5"/>
<rect x="48.35" y="204.3" width="7.3" height="5.2" fill="#d2d2d2" stroke="#b8b8b8" stroke-width="0.5" />
<line x1="48.35" y1="206.7" x2="55.65" y2="206.7" stroke="#111" stroke-width="1.3"/>
<circle cx="52" cy="222.7" r="1.25" fill="#111"/>
<line x1="52" y1="237.8" x2="52" y2="240.8" stroke="#111" stroke-width="1"/>
<g transform="translate(55.6,250) rotate(-45) scale(0.8,1)"><text x="0" y="0" font-size="7.8" font-style="italic" text-anchor="end" fill="#262626">Cbp<tspan font-size="4.3" dx="0.4" dy="-4" fill="#555">WT/F</tspan></text></g>
<line x1="66.9" y1="183.3" x2="66.9" y2="192.3" stroke="#3a3a3a" stroke-width="1.05"/>
<line x1="64.5" y1="183.3" x2="69.3" y2="183.3" stroke="#333" stroke-width="1.5"/>
<line x1="66.9" y1="202.4" x2="66.9" y2="211.5" stroke="#3a3a3a" stroke-width="1.05"/>
<line x1="64.5" y1="211.5" x2="69.3" y2="211.5" stroke="#333" stroke-width="1.5"/>
<rect x="63.25" y="192.3" width="7.3" height="10.1" fill="#4c2163" stroke="#3a1850" stroke-width="0.5" />
<line x1="63.25" y1="196.6" x2="70.55" y2="196.6" stroke="#111" stroke-width="1.3"/>
<line x1="66.9" y1="237.8" x2="66.9" y2="240.8" stroke="#111" stroke-width="1"/>
<g transform="translate(70.5,250) rotate(-45) scale(0.8,1)"><text x="0" y="0" font-size="7.8" font-style="italic" text-anchor="end" fill="#262626">EμBcl2</text></g>
<line x1="81.8" y1="197.5" x2="81.8" y2="208.9" stroke="#3a3a3a" stroke-width="1.05"/>
<line x1="79.4" y1="197.5" x2="84.2" y2="197.5" stroke="#333" stroke-width="1.5"/>
<line x1="81.8" y1="224.4" x2="81.8" y2="232.2" stroke="#3a3a3a" stroke-width="1.05"/>
<line x1="79.4" y1="232.2" x2="84.2" y2="232.2" stroke="#333" stroke-width="1.5"/>
<rect x="78.15" y="208.9" width="7.3" height="15.5" fill="#2d5190" stroke="#24427a" stroke-width="0.5" />
<line x1="78.15" y1="216" x2="85.45" y2="216" stroke="#111" stroke-width="1.3"/>
<line x1="81.8" y1="237.8" x2="81.8" y2="240.8" stroke="#111" stroke-width="1"/>
<g transform="translate(85.4,250) rotate(-45) scale(0.8,1)"><text x="0" y="0" font-size="7.8" font-style="italic" text-anchor="end" fill="#262626">Cbp<tspan font-size="4.3" dx="0.4" dy="-4" fill="#555">WT/Δ</tspan></text></g>
<line x1="96.6" y1="206.7" x2="96.6" y2="210.2" stroke="#3a3a3a" stroke-width="1.05"/>
<line x1="94.2" y1="206.7" x2="99" y2="206.7" stroke="#333" stroke-width="1.5"/>
<line x1="96.6" y1="223.5" x2="96.6" y2="234.4" stroke="#3a3a3a" stroke-width="1.05"/>
<line x1="94.2" y1="234.4" x2="99" y2="234.4" stroke="#333" stroke-width="1.5"/>
<rect x="92.95" y="210.2" width="7.3" height="13.3" fill="#62ad3a" stroke="#4f9430" stroke-width="0.5" />
<line x1="92.95" y1="214" x2="100.25" y2="214" stroke="#111" stroke-width="1.3"/>
<circle cx="96.6" cy="187.7" r="1.25" fill="#111"/>
<line x1="96.6" y1="237.8" x2="96.6" y2="240.8" stroke="#111" stroke-width="1"/>
<g transform="translate(100.2,250) rotate(-45) scale(0.8,1)"><text x="0" y="0" font-size="7.8" font-style="italic" text-anchor="end" fill="#262626">Cbp<tspan font-size="4.3" dx="0.4" dy="-4" fill="#555">Δ/Δ</tspan></text></g>
<line x1="111.4" y1="181" x2="111.4" y2="201.1" stroke="#3a3a3a" stroke-width="1.05"/>
<line x1="109" y1="181" x2="113.8" y2="181" stroke="#333" stroke-width="1.5"/>
<line x1="111.4" y1="223.4" x2="111.4" y2="229.6" stroke="#3a3a3a" stroke-width="1.05"/>
<line x1="109" y1="229.6" x2="113.8" y2="229.6" stroke="#333" stroke-width="1.5"/>
<rect x="107.75" y="201.1" width="7.3" height="22.3" fill="#f2a21b" stroke="#d98c10" stroke-width="0.5" />
<line x1="107.75" y1="208.9" x2="115.05" y2="208.9" stroke="#111" stroke-width="1.3"/>
<line x1="111.4" y1="237.8" x2="111.4" y2="240.8" stroke="#111" stroke-width="1"/>
<g transform="translate(115,250) rotate(-45) scale(0.8,1)"><text x="0" y="0" font-size="7.8" font-style="italic" text-anchor="end" fill="#262626">Cbp<tspan font-size="4.3" dx="0.4" dy="-4" fill="#555">WT/Δ</tspan><tspan dy="4"> x EμBcl2</tspan></text></g>
<line x1="126.3" y1="185.5" x2="126.3" y2="193.7" stroke="#3a3a3a" stroke-width="1.05"/>
<line x1="123.9" y1="185.5" x2="128.7" y2="185.5" stroke="#333" stroke-width="1.5"/>
<line x1="126.3" y1="204.7" x2="126.3" y2="218.3" stroke="#3a3a3a" stroke-width="1.05"/>
<line x1="123.9" y1="218.3" x2="128.7" y2="218.3" stroke="#333" stroke-width="1.5"/>
<rect x="122.65" y="193.7" width="7.3" height="11" fill="#c5102e" stroke="#a50c25" stroke-width="0.5" />
<line x1="122.65" y1="198.8" x2="129.95" y2="198.8" stroke="#111" stroke-width="1.3"/>
<circle cx="126.3" cy="235.2" r="1.25" fill="#111"/>
<line x1="126.3" y1="237.8" x2="126.3" y2="240.8" stroke="#111" stroke-width="1"/>
<g transform="translate(129.9,250) rotate(-45) scale(0.8,1)"><text x="0" y="0" font-size="7.8" font-style="italic" text-anchor="end" fill="#262626">Cbp<tspan font-size="4.3" dx="0.4" dy="-4" fill="#555">Δ/Δ</tspan><tspan dy="4"> x EμBcl2</tspan></text></g>
<g transform="translate(20.2,206.5) rotate(-90)"><text x="0" y="0" font-size="7.6" text-anchor="middle" fill="#222">Percent</text></g>
<text x="142" y="156.3" font-size="11.6" text-anchor="start" font-weight="bold" font-style="normal" fill="#000" >C</text>
<g transform="translate(206.5,167.6)"><text x="0" y="0" font-size="8.4" text-anchor="middle" fill="#222" textLength="67" lengthAdjust="spacingAndGlyphs">Pre or Pro B-cells</text></g>
<line x1="163.8" y1="175.8" x2="163.8" y2="238.4" stroke="#111" stroke-width="1.3"/>
<line x1="163.2" y1="237.8" x2="262" y2="237.8" stroke="#111" stroke-width="1.3"/>
<line x1="160.6" y1="235.2" x2="163.8" y2="235.2" stroke="#111" stroke-width="1.3"/>
<text x="157.5" y="237.5" font-size="6.5" text-anchor="end" font-weight="normal" font-style="normal" fill="#2a2a2a" >0</text>
<line x1="160.6" y1="221.3" x2="163.8" y2="221.3" stroke="#111" stroke-width="1.3"/>
<text x="157.5" y="223.6" font-size="6.5" text-anchor="end" font-weight="normal" font-style="normal" fill="#2a2a2a" >5</text>
<line x1="160.6" y1="207.4" x2="163.8" y2="207.4" stroke="#111" stroke-width="1.3"/>
<text x="157.5" y="209.7" font-size="6.5" text-anchor="end" font-weight="normal" font-style="normal" fill="#2a2a2a" >10</text>
<line x1="160.6" y1="193.5" x2="163.8" y2="193.5" stroke="#111" stroke-width="1.3"/>
<text x="157.5" y="195.8" font-size="6.5" text-anchor="end" font-weight="normal" font-style="normal" fill="#2a2a2a" >15</text>
<line x1="160.6" y1="179.6" x2="163.8" y2="179.6" stroke="#111" stroke-width="1.3"/>
<text x="157.5" y="181.9" font-size="6.5" text-anchor="end" font-weight="normal" font-style="normal" fill="#2a2a2a" >20</text>
<line x1="176.3" y1="195" x2="176.3" y2="204.8" stroke="#3a3a3a" stroke-width="1.05"/>
<line x1="173.9" y1="195" x2="178.7" y2="195" stroke="#333" stroke-width="1.5"/>
<line x1="176.3" y1="216.3" x2="176.3" y2="232.8" stroke="#3a3a3a" stroke-width="1.05"/>
<line x1="173.9" y1="232.8" x2="178.7" y2="232.8" stroke="#333" stroke-width="1.5"/>
<rect x="172.65" y="204.8" width="7.3" height="11.5" fill="#d2d2d2" stroke="#b8b8b8" stroke-width="0.5" />
<line x1="172.65" y1="212.5" x2="179.95" y2="212.5" stroke="#111" stroke-width="1.3"/>
<line x1="176.3" y1="237.8" x2="176.3" y2="240.8" stroke="#111" stroke-width="1"/>
<g transform="translate(179.9,250) rotate(-45) scale(0.8,1)"><text x="0" y="0" font-size="7.8" font-style="italic" text-anchor="end" fill="#262626">Cbp<tspan font-size="4.3" dx="0.4" dy="-4" fill="#555">WT/F</tspan></text></g>
<line x1="191" y1="221.9" x2="191" y2="228.8" stroke="#3a3a3a" stroke-width="1.05"/>
<line x1="188.6" y1="228.8" x2="193.4" y2="228.8" stroke="#333" stroke-width="1.5"/>
<rect x="187.35" y="214.8" width="7.3" height="7.1" fill="#4c2163" stroke="#3a1850" stroke-width="0.5" />
<line x1="187.35" y1="216.6" x2="194.65" y2="216.6" stroke="#111" stroke-width="1.3"/>
<circle cx="191" cy="198.8" r="1.25" fill="#111"/>
<line x1="191" y1="237.8" x2="191" y2="240.8" stroke="#111" stroke-width="1"/>
<g transform="translate(194.6,250) rotate(-45) scale(0.8,1)"><text x="0" y="0" font-size="7.8" font-style="italic" text-anchor="end" fill="#262626">EμBcl2</text></g>
<line x1="206" y1="194.4" x2="206" y2="215" stroke="#3a3a3a" stroke-width="1.05"/>
<line x1="203.6" y1="194.4" x2="208.4" y2="194.4" stroke="#333" stroke-width="1.5"/>
<line x1="206" y1="232.8" x2="206" y2="235.3" stroke="#3a3a3a" stroke-width="1.05"/>
<line x1="203.6" y1="235.3" x2="208.4" y2="235.3" stroke="#333" stroke-width="1.5"/>
<rect x="202.35" y="215" width="7.3" height="17.8" fill="#2d5190" stroke="#24427a" stroke-width="0.5" />
<line x1="202.35" y1="223.1" x2="209.65" y2="223.1" stroke="#111" stroke-width="1.3"/>
<circle cx="206" cy="186" r="1.25" fill="#111"/>
<line x1="206" y1="237.8" x2="206" y2="240.8" stroke="#111" stroke-width="1"/>
<g transform="translate(209.6,250) rotate(-45) scale(0.8,1)"><text x="0" y="0" font-size="7.8" font-style="italic" text-anchor="end" fill="#262626">Cbp<tspan font-size="4.3" dx="0.4" dy="-4" fill="#555">WT/Δ</tspan></text></g>
<line x1="220.8" y1="195.2" x2="220.8" y2="208.5" stroke="#3a3a3a" stroke-width="1.05"/>
<line x1="218.4" y1="195.2" x2="223.2" y2="195.2" stroke="#333" stroke-width="1.5"/>
<rect x="217.15" y="208.5" width="7.3" height="26.5" fill="#62ad3a" stroke="#4f9430" stroke-width="0.5" />
<line x1="217.15" y1="217.1" x2="224.45" y2="217.1" stroke="#111" stroke-width="1.3"/>
<line x1="220.8" y1="237.8" x2="220.8" y2="240.8" stroke="#111" stroke-width="1"/>
<g transform="translate(224.4,250) rotate(-45) scale(0.8,1)"><text x="0" y="0" font-size="7.8" font-style="italic" text-anchor="end" fill="#262626">Cbp<tspan font-size="4.3" dx="0.4" dy="-4" fill="#555">Δ/Δ</tspan></text></g>
<line x1="235.7" y1="194" x2="235.7" y2="209" stroke="#3a3a3a" stroke-width="1.05"/>
<line x1="233.3" y1="194" x2="238.1" y2="194" stroke="#333" stroke-width="1.5"/>
<line x1="235.7" y1="228.8" x2="235.7" y2="235.3" stroke="#3a3a3a" stroke-width="1.05"/>
<line x1="233.3" y1="235.3" x2="238.1" y2="235.3" stroke="#333" stroke-width="1.5"/>
<rect x="232.05" y="209" width="7.3" height="19.8" fill="#f2a21b" stroke="#d98c10" stroke-width="0.5" />
<line x1="232.05" y1="220.3" x2="239.35" y2="220.3" stroke="#111" stroke-width="1.3"/>
<line x1="235.7" y1="237.8" x2="235.7" y2="240.8" stroke="#111" stroke-width="1"/>
<g transform="translate(239.3,250) rotate(-45) scale(0.8,1)"><text x="0" y="0" font-size="7.8" font-style="italic" text-anchor="end" fill="#262626">Cbp<tspan font-size="4.3" dx="0.4" dy="-4" fill="#555">WT/Δ</tspan><tspan dy="4"> x EμBcl2</tspan></text></g>
<line x1="250.5" y1="203.5" x2="250.5" y2="207.3" stroke="#3a3a3a" stroke-width="1.05"/>
<line x1="248.1" y1="203.5" x2="252.9" y2="203.5" stroke="#333" stroke-width="1.5"/>
<rect x="246.85" y="207.3" width="7.3" height="27.7" fill="#c5102e" stroke="#a50c25" stroke-width="0.5" />
<line x1="246.85" y1="215" x2="254.15" y2="215" stroke="#111" stroke-width="1.3"/>
<line x1="250.5" y1="237.8" x2="250.5" y2="240.8" stroke="#111" stroke-width="1"/>
<g transform="translate(254.1,250) rotate(-45) scale(0.8,1)"><text x="0" y="0" font-size="7.8" font-style="italic" text-anchor="end" fill="#262626">Cbp<tspan font-size="4.3" dx="0.4" dy="-4" fill="#555">Δ/Δ</tspan><tspan dy="4"> x EμBcl2</tspan></text></g>
<text x="266.5" y="156.3" font-size="11.6" text-anchor="start" font-weight="bold" font-style="normal" fill="#000" >D</text>
<g transform="translate(331,167.6)"><text x="0" y="0" font-size="8.4" text-anchor="middle" fill="#222" textLength="64" lengthAdjust="spacingAndGlyphs">Immature B-cells</text></g>
<line x1="288" y1="175.8" x2="288" y2="238.4" stroke="#111" stroke-width="1.3"/>
<line x1="287.4" y1="237.8" x2="386.5" y2="237.8" stroke="#111" stroke-width="1.3"/>
<line x1="284.8" y1="235.2" x2="288" y2="235.2" stroke="#111" stroke-width="1.3"/>
<text x="281.7" y="237.5" font-size="6.5" text-anchor="end" font-weight="normal" font-style="normal" fill="#2a2a2a" >0</text>
<line x1="284.8" y1="221.3" x2="288" y2="221.3" stroke="#111" stroke-width="1.3"/>
<text x="281.7" y="223.6" font-size="6.5" text-anchor="end" font-weight="normal" font-style="normal" fill="#2a2a2a" >5</text>
<line x1="284.8" y1="207.4" x2="288" y2="207.4" stroke="#111" stroke-width="1.3"/>
<text x="281.7" y="209.7" font-size="6.5" text-anchor="end" font-weight="normal" font-style="normal" fill="#2a2a2a" >10</text>
<line x1="284.8" y1="193.5" x2="288" y2="193.5" stroke="#111" stroke-width="1.3"/>
<text x="281.7" y="195.8" font-size="6.5" text-anchor="end" font-weight="normal" font-style="normal" fill="#2a2a2a" >15</text>
<line x1="284.8" y1="179.6" x2="288" y2="179.6" stroke="#111" stroke-width="1.3"/>
<text x="281.7" y="181.9" font-size="6.5" text-anchor="end" font-weight="normal" font-style="normal" fill="#2a2a2a" >20</text>
<line x1="300.5" y1="223.8" x2="300.5" y2="228" stroke="#3a3a3a" stroke-width="1.05"/>
<line x1="298.1" y1="223.8" x2="302.9" y2="223.8" stroke="#333" stroke-width="1.5"/>
<line x1="300.5" y1="230.6" x2="300.5" y2="233.5" stroke="#3a3a3a" stroke-width="1.05"/>
<line x1="298.1" y1="233.5" x2="302.9" y2="233.5" stroke="#333" stroke-width="1.5"/>
<rect x="296.85" y="228" width="7.3" height="2.6" fill="#d2d2d2" stroke="#b8b8b8" stroke-width="0.5" />
<line x1="296.85" y1="229.4" x2="304.15" y2="229.4" stroke="#111" stroke-width="1.3"/>
<line x1="300.5" y1="237.8" x2="300.5" y2="240.8" stroke="#111" stroke-width="1"/>
<g transform="translate(304.1,250) rotate(-45) scale(0.8,1)"><text x="0" y="0" font-size="7.8" font-style="italic" text-anchor="end" fill="#262626">Cbp<tspan font-size="4.3" dx="0.4" dy="-4" fill="#555">WT/F</tspan></text></g>
<line x1="315" y1="229.8" x2="315" y2="232.5" stroke="#3a3a3a" stroke-width="1.05"/>
<line x1="312.6" y1="229.8" x2="317.4" y2="229.8" stroke="#333" stroke-width="1.5"/>
<rect x="311.35" y="232.5" width="7.3" height="2.7" fill="#4c2163" stroke="#3a1850" stroke-width="0.5" />
<line x1="311.35" y1="233.8" x2="318.65" y2="233.8" stroke="#111" stroke-width="1.3"/>
<line x1="315" y1="237.8" x2="315" y2="240.8" stroke="#111" stroke-width="1"/>
<g transform="translate(318.6,250) rotate(-45) scale(0.8,1)"><text x="0" y="0" font-size="7.8" font-style="italic" text-anchor="end" fill="#262626">EμBcl2</text></g>
<line x1="330" y1="226.3" x2="330" y2="231.3" stroke="#3a3a3a" stroke-width="1.05"/>
<line x1="327.6" y1="226.3" x2="332.4" y2="226.3" stroke="#333" stroke-width="1.5"/>
<line x1="330" y1="234.8" x2="330" y2="235.2" stroke="#3a3a3a" stroke-width="1.05"/>
<line x1="327.6" y1="235.2" x2="332.4" y2="235.2" stroke="#333" stroke-width="1.5"/>
<rect x="326.35" y="231.3" width="7.3" height="3.5" fill="#2d5190" stroke="#24427a" stroke-width="0.5" />
<line x1="326.35" y1="232.5" x2="333.65" y2="232.5" stroke="#111" stroke-width="1.3"/>
<circle cx="330" cy="223.1" r="1.25" fill="#111"/>
<line x1="330" y1="237.8" x2="330" y2="240.8" stroke="#111" stroke-width="1"/>
<g transform="translate(333.6,250) rotate(-45) scale(0.8,1)"><text x="0" y="0" font-size="7.8" font-style="italic" text-anchor="end" fill="#262626">Cbp<tspan font-size="4.3" dx="0.4" dy="-4" fill="#555">WT/Δ</tspan></text></g>
<line x1="344.8" y1="229.4" x2="344.8" y2="232.3" stroke="#3a3a3a" stroke-width="1.05"/>
<line x1="342.4" y1="229.4" x2="347.2" y2="229.4" stroke="#333" stroke-width="1.5"/>
<line x1="344.8" y1="234.8" x2="344.8" y2="235.2" stroke="#3a3a3a" stroke-width="1.05"/>
<line x1="342.4" y1="235.2" x2="347.2" y2="235.2" stroke="#333" stroke-width="1.5"/>
<rect x="341.15" y="232.3" width="7.3" height="2.5" fill="#62ad3a" stroke="#4f9430" stroke-width="0.5" />
<line x1="341.15" y1="233.5" x2="348.45" y2="233.5" stroke="#111" stroke-width="1.3"/>
<line x1="344.8" y1="237.8" x2="344.8" y2="240.8" stroke="#111" stroke-width="1"/>
<g transform="translate(348.4,250) rotate(-45) scale(0.8,1)"><text x="0" y="0" font-size="7.8" font-style="italic" text-anchor="end" fill="#262626">Cbp<tspan font-size="4.3" dx="0.4" dy="-4" fill="#555">Δ/Δ</tspan></text></g>
<line x1="359.8" y1="211.3" x2="359.8" y2="222.9" stroke="#3a3a3a" stroke-width="1.05"/>
<line x1="357.4" y1="211.3" x2="362.2" y2="211.3" stroke="#333" stroke-width="1.5"/>
<line x1="359.8" y1="233.8" x2="359.8" y2="235.2" stroke="#3a3a3a" stroke-width="1.05"/>
<line x1="357.4" y1="235.2" x2="362.2" y2="235.2" stroke="#333" stroke-width="1.5"/>
<rect x="356.15" y="222.9" width="7.3" height="10.9" fill="#f2a21b" stroke="#d98c10" stroke-width="0.5" />
<line x1="356.15" y1="230" x2="363.45" y2="230" stroke="#111" stroke-width="1.3"/>
<circle cx="359.8" cy="199.8" r="1.25" fill="#111"/>
<line x1="359.8" y1="237.8" x2="359.8" y2="240.8" stroke="#111" stroke-width="1"/>
<g transform="translate(363.4,250) rotate(-45) scale(0.8,1)"><text x="0" y="0" font-size="7.8" font-style="italic" text-anchor="end" fill="#262626">Cbp<tspan font-size="4.3" dx="0.4" dy="-4" fill="#555">WT/Δ</tspan><tspan dy="4"> x EμBcl2</tspan></text></g>
<line x1="374.8" y1="205.4" x2="374.8" y2="211.5" stroke="#3a3a3a" stroke-width="1.05"/>
<line x1="372.4" y1="205.4" x2="377.2" y2="205.4" stroke="#333" stroke-width="1.5"/>
<line x1="374.8" y1="228.8" x2="374.8" y2="235.3" stroke="#3a3a3a" stroke-width="1.05"/>
<line x1="372.4" y1="235.3" x2="377.2" y2="235.3" stroke="#333" stroke-width="1.5"/>
<rect x="371.15" y="211.5" width="7.3" height="17.3" fill="#c5102e" stroke="#a50c25" stroke-width="0.5" />
<line x1="371.15" y1="219.4" x2="378.45" y2="219.4" stroke="#111" stroke-width="1.3"/>
<line x1="374.8" y1="237.8" x2="374.8" y2="240.8" stroke="#111" stroke-width="1"/>
<g transform="translate(378.4,250) rotate(-45) scale(0.8,1)"><text x="0" y="0" font-size="7.8" font-style="italic" text-anchor="end" fill="#262626">Cbp<tspan font-size="4.3" dx="0.4" dy="-4" fill="#555">Δ/Δ</tspan><tspan dy="4"> x EμBcl2</tspan></text></g>
<text x="390.5" y="156.3" font-size="11.6" text-anchor="start" font-weight="bold" font-style="normal" fill="#000" >E</text>
<g transform="translate(453.3,167.6)"><text x="0" y="0" font-size="8.4" text-anchor="middle" fill="#222" textLength="77.5" lengthAdjust="spacingAndGlyphs">Recirculating B-cells</text></g>
<line x1="411.3" y1="175.8" x2="411.3" y2="238.4" stroke="#111" stroke-width="1.3"/>
<line x1="410.7" y1="237.8" x2="510" y2="237.8" stroke="#111" stroke-width="1.3"/>
<line x1="408.1" y1="235.2" x2="411.3" y2="235.2" stroke="#111" stroke-width="1.3"/>
<text x="405" y="237.5" font-size="6.5" text-anchor="end" font-weight="normal" font-style="normal" fill="#2a2a2a" >0</text>
<line x1="408.1" y1="221.3" x2="411.3" y2="221.3" stroke="#111" stroke-width="1.3"/>
<text x="405" y="223.6" font-size="6.5" text-anchor="end" font-weight="normal" font-style="normal" fill="#2a2a2a" >5</text>
<line x1="408.1" y1="207.4" x2="411.3" y2="207.4" stroke="#111" stroke-width="1.3"/>
<text x="405" y="209.7" font-size="6.5" text-anchor="end" font-weight="normal" font-style="normal" fill="#2a2a2a" >10</text>
<line x1="408.1" y1="193.5" x2="411.3" y2="193.5" stroke="#111" stroke-width="1.3"/>
<text x="405" y="195.8" font-size="6.5" text-anchor="end" font-weight="normal" font-style="normal" fill="#2a2a2a" >15</text>
<line x1="408.1" y1="179.6" x2="411.3" y2="179.6" stroke="#111" stroke-width="1.3"/>
<text x="405" y="181.9" font-size="6.5" text-anchor="end" font-weight="normal" font-style="normal" fill="#2a2a2a" >20</text>
<line x1="423.7" y1="218.1" x2="423.7" y2="221" stroke="#3a3a3a" stroke-width="1.05"/>
<line x1="421.3" y1="218.1" x2="426.1" y2="218.1" stroke="#333" stroke-width="1.5"/>
<line x1="423.7" y1="222.8" x2="423.7" y2="228.8" stroke="#3a3a3a" stroke-width="1.05"/>
<line x1="421.3" y1="228.8" x2="426.1" y2="228.8" stroke="#333" stroke-width="1.5"/>
<rect x="420.05" y="221" width="7.3" height="1.8" fill="#d2d2d2" stroke="#b8b8b8" stroke-width="0.5" />
<line x1="420.05" y1="221.9" x2="427.35" y2="221.9" stroke="#111" stroke-width="1.3"/>
<circle cx="423.7" cy="212.3" r="1.25" fill="#111"/>
<line x1="423.7" y1="237.8" x2="423.7" y2="240.8" stroke="#111" stroke-width="1"/>
<g transform="translate(427.3,250) rotate(-45) scale(0.8,1)"><text x="0" y="0" font-size="7.8" font-style="italic" text-anchor="end" fill="#262626">Cbp<tspan font-size="4.3" dx="0.4" dy="-4" fill="#555">WT/F</tspan></text></g>
<line x1="438.7" y1="190.6" x2="438.7" y2="193.5" stroke="#3a3a3a" stroke-width="1.05"/>
<line x1="436.3" y1="190.6" x2="441.1" y2="190.6" stroke="#333" stroke-width="1.5"/>
<line x1="438.7" y1="209.4" x2="438.7" y2="217.5" stroke="#3a3a3a" stroke-width="1.05"/>
<line x1="436.3" y1="217.5" x2="441.1" y2="217.5" stroke="#333" stroke-width="1.5"/>
<rect x="435.05" y="193.5" width="7.3" height="15.9" fill="#4c2163" stroke="#3a1850" stroke-width="0.5" />
<line x1="435.05" y1="199.4" x2="442.35" y2="199.4" stroke="#111" stroke-width="1.3"/>
<line x1="438.7" y1="237.8" x2="438.7" y2="240.8" stroke="#111" stroke-width="1"/>
<g transform="translate(442.3,250) rotate(-45) scale(0.8,1)"><text x="0" y="0" font-size="7.8" font-style="italic" text-anchor="end" fill="#262626">EμBcl2</text></g>
<line x1="453.7" y1="211.3" x2="453.7" y2="222.3" stroke="#3a3a3a" stroke-width="1.05"/>
<line x1="451.3" y1="211.3" x2="456.1" y2="211.3" stroke="#333" stroke-width="1.5"/>
<line x1="453.7" y1="229.6" x2="453.7" y2="234.4" stroke="#3a3a3a" stroke-width="1.05"/>
<line x1="451.3" y1="234.4" x2="456.1" y2="234.4" stroke="#333" stroke-width="1.5"/>
<rect x="450.05" y="222.3" width="7.3" height="7.3" fill="#2d5190" stroke="#24427a" stroke-width="0.5" />
<line x1="450.05" y1="225.6" x2="457.35" y2="225.6" stroke="#111" stroke-width="1.3"/>
<circle cx="453.7" cy="206.9" r="1.25" fill="#111"/>
<line x1="453.7" y1="237.8" x2="453.7" y2="240.8" stroke="#111" stroke-width="1"/>
<g transform="translate(457.3,250) rotate(-45) scale(0.8,1)"><text x="0" y="0" font-size="7.8" font-style="italic" text-anchor="end" fill="#262626">Cbp<tspan font-size="4.3" dx="0.4" dy="-4" fill="#555">WT/Δ</tspan></text></g>
<line x1="468.6" y1="225.6" x2="468.6" y2="228.1" stroke="#3a3a3a" stroke-width="1.05"/>
<line x1="466.2" y1="225.6" x2="471" y2="225.6" stroke="#333" stroke-width="1.5"/>
<line x1="468.6" y1="231.9" x2="468.6" y2="235.2" stroke="#3a3a3a" stroke-width="1.05"/>
<line x1="466.2" y1="235.2" x2="471" y2="235.2" stroke="#333" stroke-width="1.5"/>
<rect x="464.95" y="228.1" width="7.3" height="3.8" fill="#62ad3a" stroke="#4f9430" stroke-width="0.5" />
<line x1="464.95" y1="229" x2="472.25" y2="229" stroke="#111" stroke-width="1.3"/>
<circle cx="468.6" cy="217" r="1.25" fill="#111"/>
<line x1="468.6" y1="237.8" x2="468.6" y2="240.8" stroke="#111" stroke-width="1"/>
<g transform="translate(472.2,250) rotate(-45) scale(0.8,1)"><text x="0" y="0" font-size="7.8" font-style="italic" text-anchor="end" fill="#262626">Cbp<tspan font-size="4.3" dx="0.4" dy="-4" fill="#555">Δ/Δ</tspan></text></g>
<line x1="483.4" y1="194" x2="483.4" y2="213.1" stroke="#3a3a3a" stroke-width="1.05"/>
<line x1="481" y1="194" x2="485.8" y2="194" stroke="#333" stroke-width="1.5"/>
<line x1="483.4" y1="228.8" x2="483.4" y2="233.1" stroke="#3a3a3a" stroke-width="1.05"/>
<line x1="481" y1="233.1" x2="485.8" y2="233.1" stroke="#333" stroke-width="1.5"/>
<rect x="479.75" y="213.1" width="7.3" height="15.7" fill="#f2a21b" stroke="#d98c10" stroke-width="0.5" />
<line x1="479.75" y1="225.4" x2="487.05" y2="225.4" stroke="#111" stroke-width="1.3"/>
<line x1="483.4" y1="237.8" x2="483.4" y2="240.8" stroke="#111" stroke-width="1"/>
<g transform="translate(487,250) rotate(-45) scale(0.8,1)"><text x="0" y="0" font-size="7.8" font-style="italic" text-anchor="end" fill="#262626">Cbp<tspan font-size="4.3" dx="0.4" dy="-4" fill="#555">WT/Δ</tspan><tspan dy="4"> x EμBcl2</tspan></text></g>
<line x1="498.2" y1="194" x2="498.2" y2="211.5" stroke="#3a3a3a" stroke-width="1.05"/>
<line x1="495.8" y1="194" x2="500.6" y2="194" stroke="#333" stroke-width="1.5"/>
<rect x="494.55" y="211.5" width="7.3" height="23.7" fill="#c5102e" stroke="#a50c25" stroke-width="0.5" />
<line x1="494.55" y1="221.3" x2="501.85" y2="221.3" stroke="#111" stroke-width="1.3"/>
<line x1="498.2" y1="237.8" x2="498.2" y2="240.8" stroke="#111" stroke-width="1"/>
<g transform="translate(501.8,250) rotate(-45) scale(0.8,1)"><text x="0" y="0" font-size="7.8" font-style="italic" text-anchor="end" fill="#262626">Cbp<tspan font-size="4.3" dx="0.4" dy="-4" fill="#555">Δ/Δ</tspan><tspan dy="4"> x EμBcl2</tspan></text></g>
<text x="6.3" y="306.2" font-size="11.6" text-anchor="start" font-weight="bold" font-style="normal" fill="#000" >F</text>
<g clip-path="url(#clipF0)">
<g filter="url(#spk0)">
<ellipse cx="56.9" cy="373.15" rx="30" ry="15" transform="rotate(-48 56.9 373.15)" fill="#8c98dc" fill-opacity="0.75" filter="url(#b3)"/>
<ellipse cx="48.6" cy="386.6" rx="21" ry="17" fill="#8c9ae0" fill-opacity="0.75" filter="url(#b3)"/>
<ellipse cx="65.2" cy="355.7" rx="24" ry="11" fill="#94a0e4" fill-opacity="0.6" filter="url(#b2.5)"/>
<ellipse cx="76.25" cy="372.3" rx="7" ry="9" fill="#8898dc" fill-opacity="0.7" filter="url(#b2)"/>
<ellipse cx="47.6" cy="387.6" rx="14" ry="13" fill="#6a80d4" fill-opacity="0.8" filter="url(#b2)"/>
<ellipse cx="46.6" cy="388.6" rx="11.5" ry="11" fill="#5a76d0" fill-opacity="0.85" filter="url(#b1.5)"/>
</g>
<g filter="url(#spd0)">
<ellipse cx="65.2" cy="355.7" rx="19" ry="7.5" fill="#6a84d6" fill-opacity="0.75" filter="url(#b1.8)"/>
</g>
<ellipse cx="46.6" cy="388.6" rx="9.5" ry="9" fill="#7890d8" fill-opacity="0.6" filter="url(#b1.5)"/>
<ellipse cx="46.6" cy="388.6" rx="8.2" ry="7.8" fill="#80c0d8" fill-opacity="0.7" filter="url(#b1.2)"/>
<ellipse cx="46.6" cy="388.6" rx="6.8" ry="6.5" fill="#7cc070" fill-opacity="0.95" filter="url(#b1)"/>
<ellipse cx="46.6" cy="388.6" rx="5.3" ry="5" fill="#b4d044" fill-opacity="0.95" filter="url(#b0.9)"/>
<ellipse cx="46.6" cy="388.6" rx="4.2" ry="4" fill="#e8d030" fill-opacity="1" filter="url(#b0.8)"/>
<ellipse cx="46.6" cy="388.6" rx="2.7" ry="2.6" fill="#e8b828" fill-opacity="1" filter="url(#b0.7)"/>
<ellipse cx="46.6" cy="388.6" rx="1.4" ry="1.3" fill="#d89020" fill-opacity="1" filter="url(#b0.5)"/>
<ellipse cx="65.3" cy="355.7" rx="9" ry="4.2" fill="#50b0a0" fill-opacity="0.7" filter="url(#b1.5)"/>
<ellipse cx="65.8" cy="355.7" rx="5.5" ry="2.8" fill="#90c848" fill-opacity="0.85" filter="url(#b1)"/>
<ellipse cx="65.8" cy="355.7" rx="3.2" ry="1.8" fill="#c8d038" fill-opacity="0.8" filter="url(#b0.8)"/>
</g>
<rect x="28.5" y="326.6" width="73" height="72.2" fill="none" stroke="#111" stroke-width="1.3" />
<line x1="28.5" y1="398.8" x2="28.5" y2="401.8" stroke="#000" stroke-width="1.1"/>
<line x1="33.99" y1="398.8" x2="33.99" y2="400.5" stroke="#000" stroke-width="1.1"/>
<line x1="37.21" y1="398.8" x2="37.21" y2="400.5" stroke="#000" stroke-width="1.1"/>
<line x1="39.49" y1="398.8" x2="39.49" y2="400.5" stroke="#000" stroke-width="1.1"/>
<line x1="41.26" y1="398.8" x2="41.26" y2="400.5" stroke="#000" stroke-width="1.1"/>
<line x1="42.7" y1="398.8" x2="42.7" y2="400.5" stroke="#000" stroke-width="1.1"/>
<line x1="43.92" y1="398.8" x2="43.92" y2="400.5" stroke="#000" stroke-width="1.1"/>
<line x1="44.98" y1="398.8" x2="44.98" y2="400.5" stroke="#000" stroke-width="1.1"/>
<line x1="45.91" y1="398.8" x2="45.91" y2="400.5" stroke="#000" stroke-width="1.1"/>
<line x1="46.75" y1="398.8" x2="46.75" y2="401.8" stroke="#000" stroke-width="1.1"/>
<line x1="52.24" y1="398.8" x2="52.24" y2="400.5" stroke="#000" stroke-width="1.1"/>
<line x1="55.46" y1="398.8" x2="55.46" y2="400.5" stroke="#000" stroke-width="1.1"/>
<line x1="57.74" y1="398.8" x2="57.74" y2="400.5" stroke="#000" stroke-width="1.1"/>
<line x1="59.51" y1="398.8" x2="59.51" y2="400.5" stroke="#000" stroke-width="1.1"/>
<line x1="60.95" y1="398.8" x2="60.95" y2="400.5" stroke="#000" stroke-width="1.1"/>
<line x1="62.17" y1="398.8" x2="62.17" y2="400.5" stroke="#000" stroke-width="1.1"/>
<line x1="63.23" y1="398.8" x2="63.23" y2="400.5" stroke="#000" stroke-width="1.1"/>
<line x1="64.16" y1="398.8" x2="64.16" y2="400.5" stroke="#000" stroke-width="1.1"/>
<line x1="65" y1="398.8" x2="65" y2="401.8" stroke="#000" stroke-width="1.1"/>
<line x1="70.49" y1="398.8" x2="70.49" y2="400.5" stroke="#000" stroke-width="1.1"/>
<line x1="73.71" y1="398.8" x2="73.71" y2="400.5" stroke="#000" stroke-width="1.1"/>
<line x1="75.99" y1="398.8" x2="75.99" y2="400.5" stroke="#000" stroke-width="1.1"/>
<line x1="77.76" y1="398.8" x2="77.76" y2="400.5" stroke="#000" stroke-width="1.1"/>
<line x1="79.2" y1="398.8" x2="79.2" y2="400.5" stroke="#000" stroke-width="1.1"/>
<line x1="80.42" y1="398.8" x2="80.42" y2="400.5" stroke="#000" stroke-width="1.1"/>
<line x1="81.48" y1="398.8" x2="81.48" y2="400.5" stroke="#000" stroke-width="1.1"/>
<line x1="82.41" y1="398.8" x2="82.41" y2="400.5" stroke="#000" stroke-width="1.1"/>
<line x1="83.25" y1="398.8" x2="83.25" y2="401.8" stroke="#000" stroke-width="1.1"/>
<line x1="88.74" y1="398.8" x2="88.74" y2="400.5" stroke="#000" stroke-width="1.1"/>
<line x1="91.96" y1="398.8" x2="91.96" y2="400.5" stroke="#000" stroke-width="1.1"/>
<line x1="94.24" y1="398.8" x2="94.24" y2="400.5" stroke="#000" stroke-width="1.1"/>
<line x1="96.01" y1="398.8" x2="96.01" y2="400.5" stroke="#000" stroke-width="1.1"/>
<line x1="97.45" y1="398.8" x2="97.45" y2="400.5" stroke="#000" stroke-width="1.1"/>
<line x1="98.67" y1="398.8" x2="98.67" y2="400.5" stroke="#000" stroke-width="1.1"/>
<line x1="99.73" y1="398.8" x2="99.73" y2="400.5" stroke="#000" stroke-width="1.1"/>
<line x1="100.66" y1="398.8" x2="100.66" y2="400.5" stroke="#000" stroke-width="1.1"/>
<line x1="101.5" y1="398.8" x2="101.5" y2="401.8" stroke="#000" stroke-width="1.1"/>
<line x1="25.5" y1="398.8" x2="28.5" y2="398.8" stroke="#000" stroke-width="1.1"/>
<line x1="26.8" y1="393.37" x2="28.5" y2="393.37" stroke="#000" stroke-width="1.1"/>
<line x1="26.8" y1="390.19" x2="28.5" y2="390.19" stroke="#000" stroke-width="1.1"/>
<line x1="26.8" y1="387.93" x2="28.5" y2="387.93" stroke="#000" stroke-width="1.1"/>
<line x1="26.8" y1="386.18" x2="28.5" y2="386.18" stroke="#000" stroke-width="1.1"/>
<line x1="26.8" y1="384.75" x2="28.5" y2="384.75" stroke="#000" stroke-width="1.1"/>
<line x1="26.8" y1="383.55" x2="28.5" y2="383.55" stroke="#000" stroke-width="1.1"/>
<line x1="26.8" y1="382.5" x2="28.5" y2="382.5" stroke="#000" stroke-width="1.1"/>
<line x1="26.8" y1="381.58" x2="28.5" y2="381.58" stroke="#000" stroke-width="1.1"/>
<line x1="25.5" y1="380.75" x2="28.5" y2="380.75" stroke="#000" stroke-width="1.1"/>
<line x1="26.8" y1="375.32" x2="28.5" y2="375.32" stroke="#000" stroke-width="1.1"/>
<line x1="26.8" y1="372.14" x2="28.5" y2="372.14" stroke="#000" stroke-width="1.1"/>
<line x1="26.8" y1="369.88" x2="28.5" y2="369.88" stroke="#000" stroke-width="1.1"/>
<line x1="26.8" y1="368.13" x2="28.5" y2="368.13" stroke="#000" stroke-width="1.1"/>
<line x1="26.8" y1="366.7" x2="28.5" y2="366.7" stroke="#000" stroke-width="1.1"/>
<line x1="26.8" y1="365.5" x2="28.5" y2="365.5" stroke="#000" stroke-width="1.1"/>
<line x1="26.8" y1="364.45" x2="28.5" y2="364.45" stroke="#000" stroke-width="1.1"/>
<line x1="26.8" y1="363.53" x2="28.5" y2="363.53" stroke="#000" stroke-width="1.1"/>
<line x1="25.5" y1="362.7" x2="28.5" y2="362.7" stroke="#000" stroke-width="1.1"/>
<line x1="26.8" y1="357.27" x2="28.5" y2="357.27" stroke="#000" stroke-width="1.1"/>
<line x1="26.8" y1="354.09" x2="28.5" y2="354.09" stroke="#000" stroke-width="1.1"/>
<line x1="26.8" y1="351.83" x2="28.5" y2="351.83" stroke="#000" stroke-width="1.1"/>
<line x1="26.8" y1="350.08" x2="28.5" y2="350.08" stroke="#000" stroke-width="1.1"/>
<line x1="26.8" y1="348.65" x2="28.5" y2="348.65" stroke="#000" stroke-width="1.1"/>
<line x1="26.8" y1="347.45" x2="28.5" y2="347.45" stroke="#000" stroke-width="1.1"/>
<line x1="26.8" y1="346.4" x2="28.5" y2="346.4" stroke="#000" stroke-width="1.1"/>
<line x1="26.8" y1="345.48" x2="28.5" y2="345.48" stroke="#000" stroke-width="1.1"/>
<line x1="25.5" y1="344.65" x2="28.5" y2="344.65" stroke="#000" stroke-width="1.1"/>
<line x1="26.8" y1="339.22" x2="28.5" y2="339.22" stroke="#000" stroke-width="1.1"/>
<line x1="26.8" y1="336.04" x2="28.5" y2="336.04" stroke="#000" stroke-width="1.1"/>
<line x1="26.8" y1="333.78" x2="28.5" y2="333.78" stroke="#000" stroke-width="1.1"/>
<line x1="26.8" y1="332.03" x2="28.5" y2="332.03" stroke="#000" stroke-width="1.1"/>
<line x1="26.8" y1="330.6" x2="28.5" y2="330.6" stroke="#000" stroke-width="1.1"/>
<line x1="26.8" y1="329.4" x2="28.5" y2="329.4" stroke="#000" stroke-width="1.1"/>
<line x1="26.8" y1="328.35" x2="28.5" y2="328.35" stroke="#000" stroke-width="1.1"/>
<line x1="26.8" y1="327.43" x2="28.5" y2="327.43" stroke="#000" stroke-width="1.1"/>
<line x1="25.5" y1="326.6" x2="28.5" y2="326.6" stroke="#000" stroke-width="1.1"/>
<rect x="47.2" y="347" width="36" height="16.4" fill="none" stroke="#111" stroke-width="1.4" />
<rect x="69.3" y="363.4" width="13.9" height="17.8" fill="none" stroke="#111" stroke-width="1.4" />
<line x1="69.3" y1="347" x2="69.3" y2="363.4" stroke="#111" stroke-width="1.4"/>
<text x="58.25" y="346" font-size="5.4" text-anchor="middle" font-weight="normal" font-style="normal" fill="#1a1a1a" >22.7%</text>
<text x="76.75" y="346" font-size="5.4" text-anchor="middle" font-weight="normal" font-style="normal" fill="#1a1a1a" >11.4%</text>
<text x="76.75" y="389" font-size="5.4" text-anchor="middle" font-weight="normal" font-style="normal" fill="#1a1a1a" >5.12%</text>
<g transform="translate(28.6,411.5) scale(0.85,1)"><text x="-3.56" y="0" font-size="6.4" fill="#1a1a1a">10<tspan font-size="3.9" dx="0.5" dy="-2.9">2</tspan></text></g>
<g transform="translate(46.85,411.5) scale(0.85,1)"><text x="-3.56" y="0" font-size="6.4" fill="#1a1a1a">10<tspan font-size="3.9" dx="0.5" dy="-2.9">3</tspan></text></g>
<g transform="translate(65.1,411.5) scale(0.85,1)"><text x="-3.56" y="0" font-size="6.4" fill="#1a1a1a">10<tspan font-size="3.9" dx="0.5" dy="-2.9">4</tspan></text></g>
<g transform="translate(83.35,411.5) scale(0.85,1)"><text x="-3.56" y="0" font-size="6.4" fill="#1a1a1a">10<tspan font-size="3.9" dx="0.5" dy="-2.9">5</tspan></text></g>
<g transform="translate(101.6,411.5) scale(0.85,1)"><text x="-3.56" y="0" font-size="6.4" fill="#1a1a1a">10<tspan font-size="3.9" dx="0.5" dy="-2.9">6</tspan></text></g>
<g transform="translate(16.48,402.1) scale(0.85,1)"><text x="0" y="0" font-size="6.4" fill="#1a1a1a">10<tspan font-size="3.9" dx="0.5" dy="-2.9">2</tspan></text></g>
<g transform="translate(16.48,384.05) scale(0.85,1)"><text x="0" y="0" font-size="6.4" fill="#1a1a1a">10<tspan font-size="3.9" dx="0.5" dy="-2.9">3</tspan></text></g>
<g transform="translate(16.48,366) scale(0.85,1)"><text x="0" y="0" font-size="6.4" fill="#1a1a1a">10<tspan font-size="3.9" dx="0.5" dy="-2.9">4</tspan></text></g>
<g transform="translate(16.48,347.95) scale(0.85,1)"><text x="0" y="0" font-size="6.4" fill="#1a1a1a">10<tspan font-size="3.9" dx="0.5" dy="-2.9">5</tspan></text></g>
<g transform="translate(16.48,329.9) scale(0.85,1)"><text x="0" y="0" font-size="6.4" fill="#1a1a1a">10<tspan font-size="3.9" dx="0.5" dy="-2.9">6</tspan></text></g>
<g transform="translate(65,320.8) scale(0.83,1)"><text x="0" y="0" font-size="8.9" font-style="italic" text-anchor="middle" fill="#222">Cbp<tspan font-size="6.85" dy="-2.4">WT/F</tspan></text></g>
<g clip-path="url(#clipF1)">
<g filter="url(#spk1)">
<ellipse cx="139.19" cy="374.42" rx="30" ry="15" transform="rotate(-48 139.19 374.42)" fill="#8c98dc" fill-opacity="0.75" filter="url(#b3)"/>
<ellipse cx="131.5" cy="386.7" rx="21" ry="17" fill="#8c9ae0" fill-opacity="0.75" filter="url(#b3)"/>
<ellipse cx="146.88" cy="358.15" rx="24" ry="11" fill="#94a0e4" fill-opacity="0.6" filter="url(#b2.5)"/>
<ellipse cx="158.38" cy="374.6" rx="7" ry="9" fill="#8898dc" fill-opacity="0.7" filter="url(#b2)"/>
<ellipse cx="130.5" cy="387.7" rx="14" ry="13" fill="#6a80d4" fill-opacity="0.8" filter="url(#b2)"/>
<ellipse cx="129.5" cy="388.7" rx="11.5" ry="11" fill="#5a76d0" fill-opacity="0.85" filter="url(#b1.5)"/>
</g>
<g filter="url(#spd1)">
<ellipse cx="146.88" cy="358.15" rx="19" ry="7.5" fill="#6a84d6" fill-opacity="0.75" filter="url(#b1.8)"/>
</g>
<ellipse cx="129.5" cy="388.7" rx="9.5" ry="9" fill="#7890d8" fill-opacity="0.6" filter="url(#b1.5)"/>
<ellipse cx="129.5" cy="388.7" rx="8.2" ry="7.8" fill="#80c0d8" fill-opacity="0.7" filter="url(#b1.2)"/>
<ellipse cx="129.5" cy="388.7" rx="6.8" ry="6.5" fill="#7cc070" fill-opacity="0.95" filter="url(#b1)"/>
<ellipse cx="129.5" cy="388.7" rx="5.3" ry="5" fill="#b4d044" fill-opacity="0.95" filter="url(#b0.9)"/>
<ellipse cx="129.5" cy="388.7" rx="4.2" ry="4" fill="#e8d030" fill-opacity="1" filter="url(#b0.8)"/>
<ellipse cx="129.5" cy="388.7" rx="2.7" ry="2.6" fill="#e8b828" fill-opacity="1" filter="url(#b0.7)"/>
<ellipse cx="129.5" cy="388.7" rx="1.4" ry="1.3" fill="#d89020" fill-opacity="1" filter="url(#b0.5)"/>
<ellipse cx="147.25" cy="358.15" rx="9" ry="4.2" fill="#50b0a0" fill-opacity="0.7" filter="url(#b1.5)"/>
<ellipse cx="147.75" cy="358.15" rx="5.5" ry="2.8" fill="#90c848" fill-opacity="0.85" filter="url(#b1)"/>
<ellipse cx="147.75" cy="358.15" rx="3.2" ry="1.8" fill="#c8d038" fill-opacity="0.8" filter="url(#b0.8)"/>
</g>
<rect x="110" y="326.6" width="73" height="72.2" fill="none" stroke="#111" stroke-width="1.3" />
<line x1="110" y1="398.8" x2="110" y2="401.8" stroke="#000" stroke-width="1.1"/>
<line x1="115.49" y1="398.8" x2="115.49" y2="400.5" stroke="#000" stroke-width="1.1"/>
<line x1="118.71" y1="398.8" x2="118.71" y2="400.5" stroke="#000" stroke-width="1.1"/>
<line x1="120.99" y1="398.8" x2="120.99" y2="400.5" stroke="#000" stroke-width="1.1"/>
<line x1="122.76" y1="398.8" x2="122.76" y2="400.5" stroke="#000" stroke-width="1.1"/>
<line x1="124.2" y1="398.8" x2="124.2" y2="400.5" stroke="#000" stroke-width="1.1"/>
<line x1="125.42" y1="398.8" x2="125.42" y2="400.5" stroke="#000" stroke-width="1.1"/>
<line x1="126.48" y1="398.8" x2="126.48" y2="400.5" stroke="#000" stroke-width="1.1"/>
<line x1="127.41" y1="398.8" x2="127.41" y2="400.5" stroke="#000" stroke-width="1.1"/>
<line x1="128.25" y1="398.8" x2="128.25" y2="401.8" stroke="#000" stroke-width="1.1"/>
<line x1="133.74" y1="398.8" x2="133.74" y2="400.5" stroke="#000" stroke-width="1.1"/>
<line x1="136.96" y1="398.8" x2="136.96" y2="400.5" stroke="#000" stroke-width="1.1"/>
<line x1="139.24" y1="398.8" x2="139.24" y2="400.5" stroke="#000" stroke-width="1.1"/>
<line x1="141.01" y1="398.8" x2="141.01" y2="400.5" stroke="#000" stroke-width="1.1"/>
<line x1="142.45" y1="398.8" x2="142.45" y2="400.5" stroke="#000" stroke-width="1.1"/>
<line x1="143.67" y1="398.8" x2="143.67" y2="400.5" stroke="#000" stroke-width="1.1"/>
<line x1="144.73" y1="398.8" x2="144.73" y2="400.5" stroke="#000" stroke-width="1.1"/>
<line x1="145.66" y1="398.8" x2="145.66" y2="400.5" stroke="#000" stroke-width="1.1"/>
<line x1="146.5" y1="398.8" x2="146.5" y2="401.8" stroke="#000" stroke-width="1.1"/>
<line x1="151.99" y1="398.8" x2="151.99" y2="400.5" stroke="#000" stroke-width="1.1"/>
<line x1="155.21" y1="398.8" x2="155.21" y2="400.5" stroke="#000" stroke-width="1.1"/>
<line x1="157.49" y1="398.8" x2="157.49" y2="400.5" stroke="#000" stroke-width="1.1"/>
<line x1="159.26" y1="398.8" x2="159.26" y2="400.5" stroke="#000" stroke-width="1.1"/>
<line x1="160.7" y1="398.8" x2="160.7" y2="400.5" stroke="#000" stroke-width="1.1"/>
<line x1="161.92" y1="398.8" x2="161.92" y2="400.5" stroke="#000" stroke-width="1.1"/>
<line x1="162.98" y1="398.8" x2="162.98" y2="400.5" stroke="#000" stroke-width="1.1"/>
<line x1="163.91" y1="398.8" x2="163.91" y2="400.5" stroke="#000" stroke-width="1.1"/>
<line x1="164.75" y1="398.8" x2="164.75" y2="401.8" stroke="#000" stroke-width="1.1"/>
<line x1="170.24" y1="398.8" x2="170.24" y2="400.5" stroke="#000" stroke-width="1.1"/>
<line x1="173.46" y1="398.8" x2="173.46" y2="400.5" stroke="#000" stroke-width="1.1"/>
<line x1="175.74" y1="398.8" x2="175.74" y2="400.5" stroke="#000" stroke-width="1.1"/>
<line x1="177.51" y1="398.8" x2="177.51" y2="400.5" stroke="#000" stroke-width="1.1"/>
<line x1="178.95" y1="398.8" x2="178.95" y2="400.5" stroke="#000" stroke-width="1.1"/>
<line x1="180.17" y1="398.8" x2="180.17" y2="400.5" stroke="#000" stroke-width="1.1"/>
<line x1="181.23" y1="398.8" x2="181.23" y2="400.5" stroke="#000" stroke-width="1.1"/>
<line x1="182.16" y1="398.8" x2="182.16" y2="400.5" stroke="#000" stroke-width="1.1"/>
<line x1="183" y1="398.8" x2="183" y2="401.8" stroke="#000" stroke-width="1.1"/>
<line x1="107" y1="398.8" x2="110" y2="398.8" stroke="#000" stroke-width="1.1"/>
<line x1="108.3" y1="393.37" x2="110" y2="393.37" stroke="#000" stroke-width="1.1"/>
<line x1="108.3" y1="390.19" x2="110" y2="390.19" stroke="#000" stroke-width="1.1"/>
<line x1="108.3" y1="387.93" x2="110" y2="387.93" stroke="#000" stroke-width="1.1"/>
<line x1="108.3" y1="386.18" x2="110" y2="386.18" stroke="#000" stroke-width="1.1"/>
<line x1="108.3" y1="384.75" x2="110" y2="384.75" stroke="#000" stroke-width="1.1"/>
<line x1="108.3" y1="383.55" x2="110" y2="383.55" stroke="#000" stroke-width="1.1"/>
<line x1="108.3" y1="382.5" x2="110" y2="382.5" stroke="#000" stroke-width="1.1"/>
<line x1="108.3" y1="381.58" x2="110" y2="381.58" stroke="#000" stroke-width="1.1"/>
<line x1="107" y1="380.75" x2="110" y2="380.75" stroke="#000" stroke-width="1.1"/>
<line x1="108.3" y1="375.32" x2="110" y2="375.32" stroke="#000" stroke-width="1.1"/>
<line x1="108.3" y1="372.14" x2="110" y2="372.14" stroke="#000" stroke-width="1.1"/>
<line x1="108.3" y1="369.88" x2="110" y2="369.88" stroke="#000" stroke-width="1.1"/>
<line x1="108.3" y1="368.13" x2="110" y2="368.13" stroke="#000" stroke-width="1.1"/>
<line x1="108.3" y1="366.7" x2="110" y2="366.7" stroke="#000" stroke-width="1.1"/>
<line x1="108.3" y1="365.5" x2="110" y2="365.5" stroke="#000" stroke-width="1.1"/>
<line x1="108.3" y1="364.45" x2="110" y2="364.45" stroke="#000" stroke-width="1.1"/>
<line x1="108.3" y1="363.53" x2="110" y2="363.53" stroke="#000" stroke-width="1.1"/>
<line x1="107" y1="362.7" x2="110" y2="362.7" stroke="#000" stroke-width="1.1"/>
<line x1="108.3" y1="357.27" x2="110" y2="357.27" stroke="#000" stroke-width="1.1"/>
<line x1="108.3" y1="354.09" x2="110" y2="354.09" stroke="#000" stroke-width="1.1"/>
<line x1="108.3" y1="351.83" x2="110" y2="351.83" stroke="#000" stroke-width="1.1"/>
<line x1="108.3" y1="350.08" x2="110" y2="350.08" stroke="#000" stroke-width="1.1"/>
<line x1="108.3" y1="348.65" x2="110" y2="348.65" stroke="#000" stroke-width="1.1"/>
<line x1="108.3" y1="347.45" x2="110" y2="347.45" stroke="#000" stroke-width="1.1"/>
<line x1="108.3" y1="346.4" x2="110" y2="346.4" stroke="#000" stroke-width="1.1"/>
<line x1="108.3" y1="345.48" x2="110" y2="345.48" stroke="#000" stroke-width="1.1"/>
<line x1="107" y1="344.65" x2="110" y2="344.65" stroke="#000" stroke-width="1.1"/>
<line x1="108.3" y1="339.22" x2="110" y2="339.22" stroke="#000" stroke-width="1.1"/>
<line x1="108.3" y1="336.04" x2="110" y2="336.04" stroke="#000" stroke-width="1.1"/>
<line x1="108.3" y1="333.78" x2="110" y2="333.78" stroke="#000" stroke-width="1.1"/>
<line x1="108.3" y1="332.03" x2="110" y2="332.03" stroke="#000" stroke-width="1.1"/>
<line x1="108.3" y1="330.6" x2="110" y2="330.6" stroke="#000" stroke-width="1.1"/>
<line x1="108.3" y1="329.4" x2="110" y2="329.4" stroke="#000" stroke-width="1.1"/>
<line x1="108.3" y1="328.35" x2="110" y2="328.35" stroke="#000" stroke-width="1.1"/>
<line x1="108.3" y1="327.43" x2="110" y2="327.43" stroke="#000" stroke-width="1.1"/>
<line x1="107" y1="326.6" x2="110" y2="326.6" stroke="#000" stroke-width="1.1"/>
<rect x="128.25" y="349.3" width="37.25" height="16.7" fill="none" stroke="#111" stroke-width="1.4" />
<rect x="151.25" y="366" width="14.25" height="17.2" fill="none" stroke="#111" stroke-width="1.4" />
<line x1="151.25" y1="349.3" x2="151.25" y2="366" stroke="#111" stroke-width="1.4"/>
<text x="139.75" y="348.3" font-size="5.4" text-anchor="middle" font-weight="normal" font-style="normal" fill="#1a1a1a" >21.7%</text>
<text x="158.88" y="348.3" font-size="5.4" text-anchor="middle" font-weight="normal" font-style="normal" fill="#1a1a1a" >9.89%</text>
<text x="158.88" y="391" font-size="5.4" text-anchor="middle" font-weight="normal" font-style="normal" fill="#1a1a1a" >4.36%</text>
<g transform="translate(110.1,411.5) scale(0.85,1)"><text x="-3.56" y="0" font-size="6.4" fill="#1a1a1a">10<tspan font-size="3.9" dx="0.5" dy="-2.9">2</tspan></text></g>
<g transform="translate(128.35,411.5) scale(0.85,1)"><text x="-3.56" y="0" font-size="6.4" fill="#1a1a1a">10<tspan font-size="3.9" dx="0.5" dy="-2.9">3</tspan></text></g>
<g transform="translate(146.6,411.5) scale(0.85,1)"><text x="-3.56" y="0" font-size="6.4" fill="#1a1a1a">10<tspan font-size="3.9" dx="0.5" dy="-2.9">4</tspan></text></g>
<g transform="translate(164.85,411.5) scale(0.85,1)"><text x="-3.56" y="0" font-size="6.4" fill="#1a1a1a">10<tspan font-size="3.9" dx="0.5" dy="-2.9">5</tspan></text></g>
<g transform="translate(183.1,411.5) scale(0.85,1)"><text x="-3.56" y="0" font-size="6.4" fill="#1a1a1a">10<tspan font-size="3.9" dx="0.5" dy="-2.9">6</tspan></text></g>
<g transform="translate(146.5,320.8) scale(0.83,1)"><text x="0" y="0" font-size="8.9" font-style="italic" text-anchor="middle" fill="#222">EμBcl2</text></g>
<g clip-path="url(#clipF2)">
<g filter="url(#spk2)">
<ellipse cx="215.43" cy="374.5" rx="30" ry="15" transform="rotate(-48 215.43 374.5)" fill="#8c98dc" fill-opacity="0.75" filter="url(#b3)"/>
<ellipse cx="211.8" cy="388" rx="21" ry="17" fill="#8c9ae0" fill-opacity="0.75" filter="url(#b3)"/>
<ellipse cx="219.05" cy="357" rx="24" ry="11" fill="#94a0e4" fill-opacity="0.6" filter="url(#b2.5)"/>
<ellipse cx="234.7" cy="373.5" rx="7" ry="9" fill="#8898dc" fill-opacity="0.7" filter="url(#b2)"/>
<ellipse cx="210.8" cy="389" rx="14" ry="13" fill="#6a80d4" fill-opacity="0.8" filter="url(#b2)"/>
<ellipse cx="209.8" cy="390" rx="11.5" ry="11" fill="#5a76d0" fill-opacity="0.85" filter="url(#b1.5)"/>
</g>
<g filter="url(#spd2)">
<ellipse cx="219.05" cy="357" rx="19" ry="7.5" fill="#6a84d6" fill-opacity="0.585" filter="url(#b1.8)"/>
</g>
<ellipse cx="209.8" cy="390" rx="9.5" ry="9" fill="#7890d8" fill-opacity="0.6" filter="url(#b1.5)"/>
<ellipse cx="209.8" cy="390" rx="8.2" ry="7.8" fill="#80c0d8" fill-opacity="0.7" filter="url(#b1.2)"/>
<ellipse cx="209.8" cy="390" rx="6.8" ry="6.5" fill="#7cc070" fill-opacity="0.95" filter="url(#b1)"/>
<ellipse cx="209.8" cy="390" rx="5.3" ry="5" fill="#b4d044" fill-opacity="0.95" filter="url(#b0.9)"/>
<ellipse cx="209.8" cy="390" rx="4.2" ry="4" fill="#e8d030" fill-opacity="1" filter="url(#b0.8)"/>
<ellipse cx="209.8" cy="390" rx="2.7" ry="2.6" fill="#e8b828" fill-opacity="1" filter="url(#b0.7)"/>
<ellipse cx="209.8" cy="390" rx="1.4" ry="1.3" fill="#d89020" fill-opacity="1" filter="url(#b0.5)"/>
</g>
<rect x="192.3" y="326.6" width="73" height="72.2" fill="none" stroke="#111" stroke-width="1.3" />
<line x1="192.3" y1="398.8" x2="192.3" y2="401.8" stroke="#000" stroke-width="1.1"/>
<line x1="197.79" y1="398.8" x2="197.79" y2="400.5" stroke="#000" stroke-width="1.1"/>
<line x1="201.01" y1="398.8" x2="201.01" y2="400.5" stroke="#000" stroke-width="1.1"/>
<line x1="203.29" y1="398.8" x2="203.29" y2="400.5" stroke="#000" stroke-width="1.1"/>
<line x1="205.06" y1="398.8" x2="205.06" y2="400.5" stroke="#000" stroke-width="1.1"/>
<line x1="206.5" y1="398.8" x2="206.5" y2="400.5" stroke="#000" stroke-width="1.1"/>
<line x1="207.72" y1="398.8" x2="207.72" y2="400.5" stroke="#000" stroke-width="1.1"/>
<line x1="208.78" y1="398.8" x2="208.78" y2="400.5" stroke="#000" stroke-width="1.1"/>
<line x1="209.71" y1="398.8" x2="209.71" y2="400.5" stroke="#000" stroke-width="1.1"/>
<line x1="210.55" y1="398.8" x2="210.55" y2="401.8" stroke="#000" stroke-width="1.1"/>
<line x1="216.04" y1="398.8" x2="216.04" y2="400.5" stroke="#000" stroke-width="1.1"/>
<line x1="219.26" y1="398.8" x2="219.26" y2="400.5" stroke="#000" stroke-width="1.1"/>
<line x1="221.54" y1="398.8" x2="221.54" y2="400.5" stroke="#000" stroke-width="1.1"/>
<line x1="223.31" y1="398.8" x2="223.31" y2="400.5" stroke="#000" stroke-width="1.1"/>
<line x1="224.75" y1="398.8" x2="224.75" y2="400.5" stroke="#000" stroke-width="1.1"/>
<line x1="225.97" y1="398.8" x2="225.97" y2="400.5" stroke="#000" stroke-width="1.1"/>
<line x1="227.03" y1="398.8" x2="227.03" y2="400.5" stroke="#000" stroke-width="1.1"/>
<line x1="227.96" y1="398.8" x2="227.96" y2="400.5" stroke="#000" stroke-width="1.1"/>
<line x1="228.8" y1="398.8" x2="228.8" y2="401.8" stroke="#000" stroke-width="1.1"/>
<line x1="234.29" y1="398.8" x2="234.29" y2="400.5" stroke="#000" stroke-width="1.1"/>
<line x1="237.51" y1="398.8" x2="237.51" y2="400.5" stroke="#000" stroke-width="1.1"/>
<line x1="239.79" y1="398.8" x2="239.79" y2="400.5" stroke="#000" stroke-width="1.1"/>
<line x1="241.56" y1="398.8" x2="241.56" y2="400.5" stroke="#000" stroke-width="1.1"/>
<line x1="243" y1="398.8" x2="243" y2="400.5" stroke="#000" stroke-width="1.1"/>
<line x1="244.22" y1="398.8" x2="244.22" y2="400.5" stroke="#000" stroke-width="1.1"/>
<line x1="245.28" y1="398.8" x2="245.28" y2="400.5" stroke="#000" stroke-width="1.1"/>
<line x1="246.21" y1="398.8" x2="246.21" y2="400.5" stroke="#000" stroke-width="1.1"/>
<line x1="247.05" y1="398.8" x2="247.05" y2="401.8" stroke="#000" stroke-width="1.1"/>
<line x1="252.54" y1="398.8" x2="252.54" y2="400.5" stroke="#000" stroke-width="1.1"/>
<line x1="255.76" y1="398.8" x2="255.76" y2="400.5" stroke="#000" stroke-width="1.1"/>
<line x1="258.04" y1="398.8" x2="258.04" y2="400.5" stroke="#000" stroke-width="1.1"/>
<line x1="259.81" y1="398.8" x2="259.81" y2="400.5" stroke="#000" stroke-width="1.1"/>
<line x1="261.25" y1="398.8" x2="261.25" y2="400.5" stroke="#000" stroke-width="1.1"/>
<line x1="262.47" y1="398.8" x2="262.47" y2="400.5" stroke="#000" stroke-width="1.1"/>
<line x1="263.53" y1="398.8" x2="263.53" y2="400.5" stroke="#000" stroke-width="1.1"/>
<line x1="264.46" y1="398.8" x2="264.46" y2="400.5" stroke="#000" stroke-width="1.1"/>
<line x1="265.3" y1="398.8" x2="265.3" y2="401.8" stroke="#000" stroke-width="1.1"/>
<line x1="189.3" y1="398.8" x2="192.3" y2="398.8" stroke="#000" stroke-width="1.1"/>
<line x1="190.6" y1="393.37" x2="192.3" y2="393.37" stroke="#000" stroke-width="1.1"/>
<line x1="190.6" y1="390.19" x2="192.3" y2="390.19" stroke="#000" stroke-width="1.1"/>
<line x1="190.6" y1="387.93" x2="192.3" y2="387.93" stroke="#000" stroke-width="1.1"/>
<line x1="190.6" y1="386.18" x2="192.3" y2="386.18" stroke="#000" stroke-width="1.1"/>
<line x1="190.6" y1="384.75" x2="192.3" y2="384.75" stroke="#000" stroke-width="1.1"/>
<line x1="190.6" y1="383.55" x2="192.3" y2="383.55" stroke="#000" stroke-width="1.1"/>
<line x1="190.6" y1="382.5" x2="192.3" y2="382.5" stroke="#000" stroke-width="1.1"/>
<line x1="190.6" y1="381.58" x2="192.3" y2="381.58" stroke="#000" stroke-width="1.1"/>
<line x1="189.3" y1="380.75" x2="192.3" y2="380.75" stroke="#000" stroke-width="1.1"/>
<line x1="190.6" y1="375.32" x2="192.3" y2="375.32" stroke="#000" stroke-width="1.1"/>
<line x1="190.6" y1="372.14" x2="192.3" y2="372.14" stroke="#000" stroke-width="1.1"/>
<line x1="190.6" y1="369.88" x2="192.3" y2="369.88" stroke="#000" stroke-width="1.1"/>
<line x1="190.6" y1="368.13" x2="192.3" y2="368.13" stroke="#000" stroke-width="1.1"/>
<line x1="190.6" y1="366.7" x2="192.3" y2="366.7" stroke="#000" stroke-width="1.1"/>
<line x1="190.6" y1="365.5" x2="192.3" y2="365.5" stroke="#000" stroke-width="1.1"/>
<line x1="190.6" y1="364.45" x2="192.3" y2="364.45" stroke="#000" stroke-width="1.1"/>
<line x1="190.6" y1="363.53" x2="192.3" y2="363.53" stroke="#000" stroke-width="1.1"/>
<line x1="189.3" y1="362.7" x2="192.3" y2="362.7" stroke="#000" stroke-width="1.1"/>
<line x1="190.6" y1="357.27" x2="192.3" y2="357.27" stroke="#000" stroke-width="1.1"/>
<line x1="190.6" y1="354.09" x2="192.3" y2="354.09" stroke="#000" stroke-width="1.1"/>
<line x1="190.6" y1="351.83" x2="192.3" y2="351.83" stroke="#000" stroke-width="1.1"/>
<line x1="190.6" y1="350.08" x2="192.3" y2="350.08" stroke="#000" stroke-width="1.1"/>
<line x1="190.6" y1="348.65" x2="192.3" y2="348.65" stroke="#000" stroke-width="1.1"/>
<line x1="190.6" y1="347.45" x2="192.3" y2="347.45" stroke="#000" stroke-width="1.1"/>
<line x1="190.6" y1="346.4" x2="192.3" y2="346.4" stroke="#000" stroke-width="1.1"/>
<line x1="190.6" y1="345.48" x2="192.3" y2="345.48" stroke="#000" stroke-width="1.1"/>
<line x1="189.3" y1="344.65" x2="192.3" y2="344.65" stroke="#000" stroke-width="1.1"/>
<line x1="190.6" y1="339.22" x2="192.3" y2="339.22" stroke="#000" stroke-width="1.1"/>
<line x1="190.6" y1="336.04" x2="192.3" y2="336.04" stroke="#000" stroke-width="1.1"/>
<line x1="190.6" y1="333.78" x2="192.3" y2="333.78" stroke="#000" stroke-width="1.1"/>
<line x1="190.6" y1="332.03" x2="192.3" y2="332.03" stroke="#000" stroke-width="1.1"/>
<line x1="190.6" y1="330.6" x2="192.3" y2="330.6" stroke="#000" stroke-width="1.1"/>
<line x1="190.6" y1="329.4" x2="192.3" y2="329.4" stroke="#000" stroke-width="1.1"/>
<line x1="190.6" y1="328.35" x2="192.3" y2="328.35" stroke="#000" stroke-width="1.1"/>
<line x1="190.6" y1="327.43" x2="192.3" y2="327.43" stroke="#000" stroke-width="1.1"/>
<line x1="189.3" y1="326.6" x2="192.3" y2="326.6" stroke="#000" stroke-width="1.1"/>
<rect x="204.5" y="348.2" width="37.3" height="16.6" fill="none" stroke="#111" stroke-width="1.4" />
<rect x="227.6" y="364.8" width="14.2" height="17.4" fill="none" stroke="#111" stroke-width="1.4" />
<line x1="227.6" y1="348.2" x2="227.6" y2="364.8" stroke="#111" stroke-width="1.4"/>
<text x="216.05" y="347.2" font-size="5.4" text-anchor="middle" font-weight="normal" font-style="normal" fill="#1a1a1a" >14.3%</text>
<text x="235.2" y="347.2" font-size="5.4" text-anchor="middle" font-weight="normal" font-style="normal" fill="#1a1a1a" >2.14%</text>
<text x="235.2" y="390" font-size="5.4" text-anchor="middle" font-weight="normal" font-style="normal" fill="#1a1a1a" >3.47%</text>
<g transform="translate(192.4,411.5) scale(0.85,1)"><text x="-3.56" y="0" font-size="6.4" fill="#1a1a1a">10<tspan font-size="3.9" dx="0.5" dy="-2.9">2</tspan></text></g>
<g transform="translate(210.65,411.5) scale(0.85,1)"><text x="-3.56" y="0" font-size="6.4" fill="#1a1a1a">10<tspan font-size="3.9" dx="0.5" dy="-2.9">3</tspan></text></g>
<g transform="translate(228.9,411.5) scale(0.85,1)"><text x="-3.56" y="0" font-size="6.4" fill="#1a1a1a">10<tspan font-size="3.9" dx="0.5" dy="-2.9">4</tspan></text></g>
<g transform="translate(247.15,411.5) scale(0.85,1)"><text x="-3.56" y="0" font-size="6.4" fill="#1a1a1a">10<tspan font-size="3.9" dx="0.5" dy="-2.9">5</tspan></text></g>
<g transform="translate(265.4,411.5) scale(0.85,1)"><text x="-3.56" y="0" font-size="6.4" fill="#1a1a1a">10<tspan font-size="3.9" dx="0.5" dy="-2.9">6</tspan></text></g>
<g transform="translate(228.8,320.8) scale(0.83,1)"><text x="0" y="0" font-size="8.9" font-style="italic" text-anchor="middle" fill="#222">Cbp<tspan font-size="6.85" dy="-2.4">WT/Δ</tspan></text></g>
<g clip-path="url(#clipF3)">
<g filter="url(#spk0)">
<ellipse cx="301.95" cy="373.33" rx="30" ry="15" transform="rotate(-48 301.95 373.33)" fill="#8c98dc" fill-opacity="0.75" filter="url(#b3)"/>
<ellipse cx="294.2" cy="388.2" rx="21" ry="17" fill="#8c9ae0" fill-opacity="0.75" filter="url(#b3)"/>
<ellipse cx="309.7" cy="354.45" rx="24" ry="11" fill="#94a0e4" fill-opacity="0.6" filter="url(#b2.5)"/>
<ellipse cx="321.35" cy="370.55" rx="7" ry="9" fill="#8898dc" fill-opacity="0.7" filter="url(#b2)"/>
<ellipse cx="293.2" cy="389.2" rx="14" ry="13" fill="#6a80d4" fill-opacity="0.8" filter="url(#b2)"/>
<ellipse cx="292.2" cy="390.2" rx="11.5" ry="11" fill="#5a76d0" fill-opacity="0.85" filter="url(#b1.5)"/>
</g>
<g filter="url(#spd0)">
<ellipse cx="309.7" cy="354.45" rx="19" ry="7.5" fill="#6a84d6" fill-opacity="0.63" filter="url(#b1.8)"/>
</g>
<ellipse cx="292.2" cy="390.2" rx="9.5" ry="9" fill="#7890d8" fill-opacity="0.6" filter="url(#b1.5)"/>
<ellipse cx="292.2" cy="390.2" rx="8.2" ry="7.8" fill="#80c0d8" fill-opacity="0.7" filter="url(#b1.2)"/>
<ellipse cx="292.2" cy="390.2" rx="6.8" ry="6.5" fill="#7cc070" fill-opacity="0.95" filter="url(#b1)"/>
<ellipse cx="292.2" cy="390.2" rx="5.3" ry="5" fill="#b4d044" fill-opacity="0.95" filter="url(#b0.9)"/>
<ellipse cx="292.2" cy="390.2" rx="4.2" ry="4" fill="#e8d030" fill-opacity="1" filter="url(#b0.8)"/>
<ellipse cx="292.2" cy="390.2" rx="2.7" ry="2.6" fill="#e8b828" fill-opacity="1" filter="url(#b0.7)"/>
<ellipse cx="292.2" cy="390.2" rx="1.4" ry="1.3" fill="#d89020" fill-opacity="1" filter="url(#b0.5)"/>
<g filter="url(#spd1)">
<ellipse cx="312.5" cy="354.45" rx="11" ry="4.5" fill="#3a98b0" fill-opacity="0.75" filter="url(#b1.5)"/>
<ellipse cx="318.5" cy="360.45" rx="3.5" ry="8" fill="#6a84d0" fill-opacity="0.6" filter="url(#b1.5)"/>
</g>
</g>
<rect x="273.8" y="326.6" width="73" height="72.2" fill="none" stroke="#111" stroke-width="1.3" />
<line x1="273.8" y1="398.8" x2="273.8" y2="401.8" stroke="#000" stroke-width="1.1"/>
<line x1="279.29" y1="398.8" x2="279.29" y2="400.5" stroke="#000" stroke-width="1.1"/>
<line x1="282.51" y1="398.8" x2="282.51" y2="400.5" stroke="#000" stroke-width="1.1"/>
<line x1="284.79" y1="398.8" x2="284.79" y2="400.5" stroke="#000" stroke-width="1.1"/>
<line x1="286.56" y1="398.8" x2="286.56" y2="400.5" stroke="#000" stroke-width="1.1"/>
<line x1="288" y1="398.8" x2="288" y2="400.5" stroke="#000" stroke-width="1.1"/>
<line x1="289.22" y1="398.8" x2="289.22" y2="400.5" stroke="#000" stroke-width="1.1"/>
<line x1="290.28" y1="398.8" x2="290.28" y2="400.5" stroke="#000" stroke-width="1.1"/>
<line x1="291.21" y1="398.8" x2="291.21" y2="400.5" stroke="#000" stroke-width="1.1"/>
<line x1="292.05" y1="398.8" x2="292.05" y2="401.8" stroke="#000" stroke-width="1.1"/>
<line x1="297.54" y1="398.8" x2="297.54" y2="400.5" stroke="#000" stroke-width="1.1"/>
<line x1="300.76" y1="398.8" x2="300.76" y2="400.5" stroke="#000" stroke-width="1.1"/>
<line x1="303.04" y1="398.8" x2="303.04" y2="400.5" stroke="#000" stroke-width="1.1"/>
<line x1="304.81" y1="398.8" x2="304.81" y2="400.5" stroke="#000" stroke-width="1.1"/>
<line x1="306.25" y1="398.8" x2="306.25" y2="400.5" stroke="#000" stroke-width="1.1"/>
<line x1="307.47" y1="398.8" x2="307.47" y2="400.5" stroke="#000" stroke-width="1.1"/>
<line x1="308.53" y1="398.8" x2="308.53" y2="400.5" stroke="#000" stroke-width="1.1"/>
<line x1="309.46" y1="398.8" x2="309.46" y2="400.5" stroke="#000" stroke-width="1.1"/>
<line x1="310.3" y1="398.8" x2="310.3" y2="401.8" stroke="#000" stroke-width="1.1"/>
<line x1="315.79" y1="398.8" x2="315.79" y2="400.5" stroke="#000" stroke-width="1.1"/>
<line x1="319.01" y1="398.8" x2="319.01" y2="400.5" stroke="#000" stroke-width="1.1"/>
<line x1="321.29" y1="398.8" x2="321.29" y2="400.5" stroke="#000" stroke-width="1.1"/>
<line x1="323.06" y1="398.8" x2="323.06" y2="400.5" stroke="#000" stroke-width="1.1"/>
<line x1="324.5" y1="398.8" x2="324.5" y2="400.5" stroke="#000" stroke-width="1.1"/>
<line x1="325.72" y1="398.8" x2="325.72" y2="400.5" stroke="#000" stroke-width="1.1"/>
<line x1="326.78" y1="398.8" x2="326.78" y2="400.5" stroke="#000" stroke-width="1.1"/>
<line x1="327.71" y1="398.8" x2="327.71" y2="400.5" stroke="#000" stroke-width="1.1"/>
<line x1="328.55" y1="398.8" x2="328.55" y2="401.8" stroke="#000" stroke-width="1.1"/>
<line x1="334.04" y1="398.8" x2="334.04" y2="400.5" stroke="#000" stroke-width="1.1"/>
<line x1="337.26" y1="398.8" x2="337.26" y2="400.5" stroke="#000" stroke-width="1.1"/>
<line x1="339.54" y1="398.8" x2="339.54" y2="400.5" stroke="#000" stroke-width="1.1"/>
<line x1="341.31" y1="398.8" x2="341.31" y2="400.5" stroke="#000" stroke-width="1.1"/>
<line x1="342.75" y1="398.8" x2="342.75" y2="400.5" stroke="#000" stroke-width="1.1"/>
<line x1="343.97" y1="398.8" x2="343.97" y2="400.5" stroke="#000" stroke-width="1.1"/>
<line x1="345.03" y1="398.8" x2="345.03" y2="400.5" stroke="#000" stroke-width="1.1"/>
<line x1="345.96" y1="398.8" x2="345.96" y2="400.5" stroke="#000" stroke-width="1.1"/>
<line x1="346.8" y1="398.8" x2="346.8" y2="401.8" stroke="#000" stroke-width="1.1"/>
<line x1="270.8" y1="398.8" x2="273.8" y2="398.8" stroke="#000" stroke-width="1.1"/>
<line x1="272.1" y1="393.37" x2="273.8" y2="393.37" stroke="#000" stroke-width="1.1"/>
<line x1="272.1" y1="390.19" x2="273.8" y2="390.19" stroke="#000" stroke-width="1.1"/>
<line x1="272.1" y1="387.93" x2="273.8" y2="387.93" stroke="#000" stroke-width="1.1"/>
<line x1="272.1" y1="386.18" x2="273.8" y2="386.18" stroke="#000" stroke-width="1.1"/>
<line x1="272.1" y1="384.75" x2="273.8" y2="384.75" stroke="#000" stroke-width="1.1"/>
<line x1="272.1" y1="383.55" x2="273.8" y2="383.55" stroke="#000" stroke-width="1.1"/>
<line x1="272.1" y1="382.5" x2="273.8" y2="382.5" stroke="#000" stroke-width="1.1"/>
<line x1="272.1" y1="381.58" x2="273.8" y2="381.58" stroke="#000" stroke-width="1.1"/>
<line x1="270.8" y1="380.75" x2="273.8" y2="380.75" stroke="#000" stroke-width="1.1"/>
<line x1="272.1" y1="375.32" x2="273.8" y2="375.32" stroke="#000" stroke-width="1.1"/>
<line x1="272.1" y1="372.14" x2="273.8" y2="372.14" stroke="#000" stroke-width="1.1"/>
<line x1="272.1" y1="369.88" x2="273.8" y2="369.88" stroke="#000" stroke-width="1.1"/>
<line x1="272.1" y1="368.13" x2="273.8" y2="368.13" stroke="#000" stroke-width="1.1"/>
<line x1="272.1" y1="366.7" x2="273.8" y2="366.7" stroke="#000" stroke-width="1.1"/>
<line x1="272.1" y1="365.5" x2="273.8" y2="365.5" stroke="#000" stroke-width="1.1"/>
<line x1="272.1" y1="364.45" x2="273.8" y2="364.45" stroke="#000" stroke-width="1.1"/>
<line x1="272.1" y1="363.53" x2="273.8" y2="363.53" stroke="#000" stroke-width="1.1"/>
<line x1="270.8" y1="362.7" x2="273.8" y2="362.7" stroke="#000" stroke-width="1.1"/>
<line x1="272.1" y1="357.27" x2="273.8" y2="357.27" stroke="#000" stroke-width="1.1"/>
<line x1="272.1" y1="354.09" x2="273.8" y2="354.09" stroke="#000" stroke-width="1.1"/>
<line x1="272.1" y1="351.83" x2="273.8" y2="351.83" stroke="#000" stroke-width="1.1"/>
<line x1="272.1" y1="350.08" x2="273.8" y2="350.08" stroke="#000" stroke-width="1.1"/>
<line x1="272.1" y1="348.65" x2="273.8" y2="348.65" stroke="#000" stroke-width="1.1"/>
<line x1="272.1" y1="347.45" x2="273.8" y2="347.45" stroke="#000" stroke-width="1.1"/>
<line x1="272.1" y1="346.4" x2="273.8" y2="346.4" stroke="#000" stroke-width="1.1"/>
<line x1="272.1" y1="345.48" x2="273.8" y2="345.48" stroke="#000" stroke-width="1.1"/>
<line x1="270.8" y1="344.65" x2="273.8" y2="344.65" stroke="#000" stroke-width="1.1"/>
<line x1="272.1" y1="339.22" x2="273.8" y2="339.22" stroke="#000" stroke-width="1.1"/>
<line x1="272.1" y1="336.04" x2="273.8" y2="336.04" stroke="#000" stroke-width="1.1"/>
<line x1="272.1" y1="333.78" x2="273.8" y2="333.78" stroke="#000" stroke-width="1.1"/>
<line x1="272.1" y1="332.03" x2="273.8" y2="332.03" stroke="#000" stroke-width="1.1"/>
<line x1="272.1" y1="330.6" x2="273.8" y2="330.6" stroke="#000" stroke-width="1.1"/>
<line x1="272.1" y1="329.4" x2="273.8" y2="329.4" stroke="#000" stroke-width="1.1"/>
<line x1="272.1" y1="328.35" x2="273.8" y2="328.35" stroke="#000" stroke-width="1.1"/>
<line x1="272.1" y1="327.43" x2="273.8" y2="327.43" stroke="#000" stroke-width="1.1"/>
<line x1="270.8" y1="326.6" x2="273.8" y2="326.6" stroke="#000" stroke-width="1.1"/>
<rect x="291.2" y="345.6" width="37" height="16.7" fill="none" stroke="#111" stroke-width="1.4" />
<rect x="314.5" y="362.3" width="13.7" height="16.5" fill="none" stroke="#111" stroke-width="1.4" />
<line x1="314.5" y1="345.6" x2="314.5" y2="362.3" stroke="#111" stroke-width="1.4"/>
<text x="302.85" y="344.6" font-size="5.4" text-anchor="middle" font-weight="normal" font-style="normal" fill="#1a1a1a" >11.6%</text>
<text x="321.85" y="344.6" font-size="5.4" text-anchor="middle" font-weight="normal" font-style="normal" fill="#1a1a1a" >6.14%</text>
<text x="321.85" y="386.6" font-size="5.4" text-anchor="middle" font-weight="normal" font-style="normal" fill="#1a1a1a" >3.83%</text>
<g transform="translate(273.9,411.5) scale(0.85,1)"><text x="-3.56" y="0" font-size="6.4" fill="#1a1a1a">10<tspan font-size="3.9" dx="0.5" dy="-2.9">2</tspan></text></g>
<g transform="translate(292.15,411.5) scale(0.85,1)"><text x="-3.56" y="0" font-size="6.4" fill="#1a1a1a">10<tspan font-size="3.9" dx="0.5" dy="-2.9">3</tspan></text></g>
<g transform="translate(310.4,411.5) scale(0.85,1)"><text x="-3.56" y="0" font-size="6.4" fill="#1a1a1a">10<tspan font-size="3.9" dx="0.5" dy="-2.9">4</tspan></text></g>
<g transform="translate(328.65,411.5) scale(0.85,1)"><text x="-3.56" y="0" font-size="6.4" fill="#1a1a1a">10<tspan font-size="3.9" dx="0.5" dy="-2.9">5</tspan></text></g>
<g transform="translate(346.9,411.5) scale(0.85,1)"><text x="-3.56" y="0" font-size="6.4" fill="#1a1a1a">10<tspan font-size="3.9" dx="0.5" dy="-2.9">6</tspan></text></g>
<g transform="translate(310.3,320.8) scale(0.83,1)"><text x="0" y="0" font-size="8.9" font-style="italic" text-anchor="middle" fill="#222">Cbp<tspan font-size="6.85" dy="-2.4">Δ/Δ</tspan></text></g>
<g clip-path="url(#clipF4)">
<g filter="url(#spk1)">
<ellipse cx="379.38" cy="375.32" rx="30" ry="15" transform="rotate(-48 379.38 375.32)" fill="#8c98dc" fill-opacity="0.75" filter="url(#b3)"/>
<ellipse cx="374.8" cy="388.4" rx="21" ry="17" fill="#8c9ae0" fill-opacity="0.75" filter="url(#b3)"/>
<ellipse cx="383.95" cy="358.25" rx="24" ry="11" fill="#94a0e4" fill-opacity="0.6" filter="url(#b2.5)"/>
<ellipse cx="399.45" cy="374.65" rx="7" ry="9" fill="#8898dc" fill-opacity="0.7" filter="url(#b2)"/>
<ellipse cx="373.8" cy="389.4" rx="14" ry="13" fill="#6a80d4" fill-opacity="0.8" filter="url(#b2)"/>
<ellipse cx="372.8" cy="390.4" rx="11.5" ry="11" fill="#5a76d0" fill-opacity="0.85" filter="url(#b1.5)"/>
</g>
<g filter="url(#spd1)">
<ellipse cx="383.95" cy="358.25" rx="19" ry="7.5" fill="#6a84d6" fill-opacity="0.555" filter="url(#b1.8)"/>
</g>
<ellipse cx="372.8" cy="390.4" rx="9.5" ry="9" fill="#7890d8" fill-opacity="0.6" filter="url(#b1.5)"/>
<ellipse cx="372.8" cy="390.4" rx="8.2" ry="7.8" fill="#80c0d8" fill-opacity="0.7" filter="url(#b1.2)"/>
<ellipse cx="372.8" cy="390.4" rx="6.8" ry="6.5" fill="#7cc070" fill-opacity="0.95" filter="url(#b1)"/>
<ellipse cx="372.8" cy="390.4" rx="5.3" ry="5" fill="#b4d044" fill-opacity="0.95" filter="url(#b0.9)"/>
<ellipse cx="372.8" cy="390.4" rx="4.2" ry="4" fill="#e8d030" fill-opacity="1" filter="url(#b0.8)"/>
<ellipse cx="372.8" cy="390.4" rx="2.7" ry="2.6" fill="#e8b828" fill-opacity="1" filter="url(#b0.7)"/>
<ellipse cx="372.8" cy="390.4" rx="1.4" ry="1.3" fill="#d89020" fill-opacity="1" filter="url(#b0.5)"/>
</g>
<rect x="355.4" y="326.6" width="73" height="72.2" fill="none" stroke="#111" stroke-width="1.3" />
<line x1="355.4" y1="398.8" x2="355.4" y2="401.8" stroke="#000" stroke-width="1.1"/>
<line x1="360.89" y1="398.8" x2="360.89" y2="400.5" stroke="#000" stroke-width="1.1"/>
<line x1="364.11" y1="398.8" x2="364.11" y2="400.5" stroke="#000" stroke-width="1.1"/>
<line x1="366.39" y1="398.8" x2="366.39" y2="400.5" stroke="#000" stroke-width="1.1"/>
<line x1="368.16" y1="398.8" x2="368.16" y2="400.5" stroke="#000" stroke-width="1.1"/>
<line x1="369.6" y1="398.8" x2="369.6" y2="400.5" stroke="#000" stroke-width="1.1"/>
<line x1="370.82" y1="398.8" x2="370.82" y2="400.5" stroke="#000" stroke-width="1.1"/>
<line x1="371.88" y1="398.8" x2="371.88" y2="400.5" stroke="#000" stroke-width="1.1"/>
<line x1="372.81" y1="398.8" x2="372.81" y2="400.5" stroke="#000" stroke-width="1.1"/>
<line x1="373.65" y1="398.8" x2="373.65" y2="401.8" stroke="#000" stroke-width="1.1"/>
<line x1="379.14" y1="398.8" x2="379.14" y2="400.5" stroke="#000" stroke-width="1.1"/>
<line x1="382.36" y1="398.8" x2="382.36" y2="400.5" stroke="#000" stroke-width="1.1"/>
<line x1="384.64" y1="398.8" x2="384.64" y2="400.5" stroke="#000" stroke-width="1.1"/>
<line x1="386.41" y1="398.8" x2="386.41" y2="400.5" stroke="#000" stroke-width="1.1"/>
<line x1="387.85" y1="398.8" x2="387.85" y2="400.5" stroke="#000" stroke-width="1.1"/>
<line x1="389.07" y1="398.8" x2="389.07" y2="400.5" stroke="#000" stroke-width="1.1"/>
<line x1="390.13" y1="398.8" x2="390.13" y2="400.5" stroke="#000" stroke-width="1.1"/>
<line x1="391.06" y1="398.8" x2="391.06" y2="400.5" stroke="#000" stroke-width="1.1"/>
<line x1="391.9" y1="398.8" x2="391.9" y2="401.8" stroke="#000" stroke-width="1.1"/>
<line x1="397.39" y1="398.8" x2="397.39" y2="400.5" stroke="#000" stroke-width="1.1"/>
<line x1="400.61" y1="398.8" x2="400.61" y2="400.5" stroke="#000" stroke-width="1.1"/>
<line x1="402.89" y1="398.8" x2="402.89" y2="400.5" stroke="#000" stroke-width="1.1"/>
<line x1="404.66" y1="398.8" x2="404.66" y2="400.5" stroke="#000" stroke-width="1.1"/>
<line x1="406.1" y1="398.8" x2="406.1" y2="400.5" stroke="#000" stroke-width="1.1"/>
<line x1="407.32" y1="398.8" x2="407.32" y2="400.5" stroke="#000" stroke-width="1.1"/>
<line x1="408.38" y1="398.8" x2="408.38" y2="400.5" stroke="#000" stroke-width="1.1"/>
<line x1="409.31" y1="398.8" x2="409.31" y2="400.5" stroke="#000" stroke-width="1.1"/>
<line x1="410.15" y1="398.8" x2="410.15" y2="401.8" stroke="#000" stroke-width="1.1"/>
<line x1="415.64" y1="398.8" x2="415.64" y2="400.5" stroke="#000" stroke-width="1.1"/>
<line x1="418.86" y1="398.8" x2="418.86" y2="400.5" stroke="#000" stroke-width="1.1"/>
<line x1="421.14" y1="398.8" x2="421.14" y2="400.5" stroke="#000" stroke-width="1.1"/>
<line x1="422.91" y1="398.8" x2="422.91" y2="400.5" stroke="#000" stroke-width="1.1"/>
<line x1="424.35" y1="398.8" x2="424.35" y2="400.5" stroke="#000" stroke-width="1.1"/>
<line x1="425.57" y1="398.8" x2="425.57" y2="400.5" stroke="#000" stroke-width="1.1"/>
<line x1="426.63" y1="398.8" x2="426.63" y2="400.5" stroke="#000" stroke-width="1.1"/>
<line x1="427.56" y1="398.8" x2="427.56" y2="400.5" stroke="#000" stroke-width="1.1"/>
<line x1="428.4" y1="398.8" x2="428.4" y2="401.8" stroke="#000" stroke-width="1.1"/>
<line x1="352.4" y1="398.8" x2="355.4" y2="398.8" stroke="#000" stroke-width="1.1"/>
<line x1="353.7" y1="393.37" x2="355.4" y2="393.37" stroke="#000" stroke-width="1.1"/>
<line x1="353.7" y1="390.19" x2="355.4" y2="390.19" stroke="#000" stroke-width="1.1"/>
<line x1="353.7" y1="387.93" x2="355.4" y2="387.93" stroke="#000" stroke-width="1.1"/>
<line x1="353.7" y1="386.18" x2="355.4" y2="386.18" stroke="#000" stroke-width="1.1"/>
<line x1="353.7" y1="384.75" x2="355.4" y2="384.75" stroke="#000" stroke-width="1.1"/>
<line x1="353.7" y1="383.55" x2="355.4" y2="383.55" stroke="#000" stroke-width="1.1"/>
<line x1="353.7" y1="382.5" x2="355.4" y2="382.5" stroke="#000" stroke-width="1.1"/>
<line x1="353.7" y1="381.58" x2="355.4" y2="381.58" stroke="#000" stroke-width="1.1"/>
<line x1="352.4" y1="380.75" x2="355.4" y2="380.75" stroke="#000" stroke-width="1.1"/>
<line x1="353.7" y1="375.32" x2="355.4" y2="375.32" stroke="#000" stroke-width="1.1"/>
<line x1="353.7" y1="372.14" x2="355.4" y2="372.14" stroke="#000" stroke-width="1.1"/>
<line x1="353.7" y1="369.88" x2="355.4" y2="369.88" stroke="#000" stroke-width="1.1"/>
<line x1="353.7" y1="368.13" x2="355.4" y2="368.13" stroke="#000" stroke-width="1.1"/>
<line x1="353.7" y1="366.7" x2="355.4" y2="366.7" stroke="#000" stroke-width="1.1"/>
<line x1="353.7" y1="365.5" x2="355.4" y2="365.5" stroke="#000" stroke-width="1.1"/>
<line x1="353.7" y1="364.45" x2="355.4" y2="364.45" stroke="#000" stroke-width="1.1"/>
<line x1="353.7" y1="363.53" x2="355.4" y2="363.53" stroke="#000" stroke-width="1.1"/>
<line x1="352.4" y1="362.7" x2="355.4" y2="362.7" stroke="#000" stroke-width="1.1"/>
<line x1="353.7" y1="357.27" x2="355.4" y2="357.27" stroke="#000" stroke-width="1.1"/>
<line x1="353.7" y1="354.09" x2="355.4" y2="354.09" stroke="#000" stroke-width="1.1"/>
<line x1="353.7" y1="351.83" x2="355.4" y2="351.83" stroke="#000" stroke-width="1.1"/>
<line x1="353.7" y1="350.08" x2="355.4" y2="350.08" stroke="#000" stroke-width="1.1"/>
<line x1="353.7" y1="348.65" x2="355.4" y2="348.65" stroke="#000" stroke-width="1.1"/>
<line x1="353.7" y1="347.45" x2="355.4" y2="347.45" stroke="#000" stroke-width="1.1"/>
<line x1="353.7" y1="346.4" x2="355.4" y2="346.4" stroke="#000" stroke-width="1.1"/>
<line x1="353.7" y1="345.48" x2="355.4" y2="345.48" stroke="#000" stroke-width="1.1"/>
<line x1="352.4" y1="344.65" x2="355.4" y2="344.65" stroke="#000" stroke-width="1.1"/>
<line x1="353.7" y1="339.22" x2="355.4" y2="339.22" stroke="#000" stroke-width="1.1"/>
<line x1="353.7" y1="336.04" x2="355.4" y2="336.04" stroke="#000" stroke-width="1.1"/>
<line x1="353.7" y1="333.78" x2="355.4" y2="333.78" stroke="#000" stroke-width="1.1"/>
<line x1="353.7" y1="332.03" x2="355.4" y2="332.03" stroke="#000" stroke-width="1.1"/>
<line x1="353.7" y1="330.6" x2="355.4" y2="330.6" stroke="#000" stroke-width="1.1"/>
<line x1="353.7" y1="329.4" x2="355.4" y2="329.4" stroke="#000" stroke-width="1.1"/>
<line x1="353.7" y1="328.35" x2="355.4" y2="328.35" stroke="#000" stroke-width="1.1"/>
<line x1="353.7" y1="327.43" x2="355.4" y2="327.43" stroke="#000" stroke-width="1.1"/>
<line x1="352.4" y1="326.6" x2="355.4" y2="326.6" stroke="#000" stroke-width="1.1"/>
<rect x="369.2" y="349.2" width="37" height="17.1" fill="none" stroke="#111" stroke-width="1.4" />
<rect x="392.7" y="366.3" width="13.5" height="16.7" fill="none" stroke="#111" stroke-width="1.4" />
<line x1="392.7" y1="349.2" x2="392.7" y2="366.3" stroke="#111" stroke-width="1.4"/>
<text x="380.95" y="348.2" font-size="5.4" text-anchor="middle" font-weight="normal" font-style="normal" fill="#1a1a1a" >7.42%</text>
<text x="399.95" y="348.2" font-size="5.4" text-anchor="middle" font-weight="normal" font-style="normal" fill="#1a1a1a" >3.76%</text>
<text x="399.95" y="390.8" font-size="5.4" text-anchor="middle" font-weight="normal" font-style="normal" fill="#1a1a1a" >2.36%</text>
<g transform="translate(355.5,411.5) scale(0.85,1)"><text x="-3.56" y="0" font-size="6.4" fill="#1a1a1a">10<tspan font-size="3.9" dx="0.5" dy="-2.9">2</tspan></text></g>
<g transform="translate(373.75,411.5) scale(0.85,1)"><text x="-3.56" y="0" font-size="6.4" fill="#1a1a1a">10<tspan font-size="3.9" dx="0.5" dy="-2.9">3</tspan></text></g>
<g transform="translate(392,411.5) scale(0.85,1)"><text x="-3.56" y="0" font-size="6.4" fill="#1a1a1a">10<tspan font-size="3.9" dx="0.5" dy="-2.9">4</tspan></text></g>
<g transform="translate(410.25,411.5) scale(0.85,1)"><text x="-3.56" y="0" font-size="6.4" fill="#1a1a1a">10<tspan font-size="3.9" dx="0.5" dy="-2.9">5</tspan></text></g>
<g transform="translate(428.5,411.5) scale(0.85,1)"><text x="-3.56" y="0" font-size="6.4" fill="#1a1a1a">10<tspan font-size="3.9" dx="0.5" dy="-2.9">6</tspan></text></g>
<g transform="translate(391.9,320.8) scale(0.83,1)"><text x="0" y="0" font-size="8.9" font-style="italic" text-anchor="middle" fill="#222">Cbp<tspan font-size="6.85" dy="-2.4">WT/Δ</tspan><tspan dy="2.4"> x EμBcl2</tspan></text></g>
<g clip-path="url(#clipF5)">
<g filter="url(#spk2)">
<ellipse cx="461.12" cy="374.8" rx="30" ry="15" transform="rotate(-48 461.12 374.8)" fill="#8c98dc" fill-opacity="0.75" filter="url(#b3)"/>
<ellipse cx="456.5" cy="388" rx="21" ry="17" fill="#8c9ae0" fill-opacity="0.75" filter="url(#b3)"/>
<ellipse cx="465.75" cy="357.6" rx="24" ry="11" fill="#94a0e4" fill-opacity="0.6" filter="url(#b2.5)"/>
<ellipse cx="481.2" cy="373.95" rx="7" ry="9" fill="#8898dc" fill-opacity="0.7" filter="url(#b2)"/>
<ellipse cx="455.5" cy="389" rx="14" ry="13" fill="#6a80d4" fill-opacity="0.8" filter="url(#b2)"/>
<ellipse cx="454.5" cy="390" rx="11.5" ry="11" fill="#5a76d0" fill-opacity="0.85" filter="url(#b1.5)"/>
</g>
<g filter="url(#spd2)">
<ellipse cx="465.75" cy="357.6" rx="19" ry="7.5" fill="#6a84d6" fill-opacity="0.555" filter="url(#b1.8)"/>
</g>
<ellipse cx="454.5" cy="390" rx="9.5" ry="9" fill="#7890d8" fill-opacity="0.6" filter="url(#b1.5)"/>
<ellipse cx="454.5" cy="390" rx="8.2" ry="7.8" fill="#80c0d8" fill-opacity="0.7" filter="url(#b1.2)"/>
<ellipse cx="454.5" cy="390" rx="6.8" ry="6.5" fill="#7cc070" fill-opacity="0.95" filter="url(#b1)"/>
<ellipse cx="454.5" cy="390" rx="5.3" ry="5" fill="#b4d044" fill-opacity="0.95" filter="url(#b0.9)"/>
<ellipse cx="454.5" cy="390" rx="4.2" ry="4" fill="#e8d030" fill-opacity="1" filter="url(#b0.8)"/>
<ellipse cx="454.5" cy="390" rx="2.7" ry="2.6" fill="#e8b828" fill-opacity="1" filter="url(#b0.7)"/>
<ellipse cx="454.5" cy="390" rx="1.4" ry="1.3" fill="#d89020" fill-opacity="1" filter="url(#b0.5)"/>
</g>
<rect x="437" y="326.6" width="73" height="72.2" fill="none" stroke="#111" stroke-width="1.3" />
<line x1="437" y1="398.8" x2="437" y2="401.8" stroke="#000" stroke-width="1.1"/>
<line x1="442.49" y1="398.8" x2="442.49" y2="400.5" stroke="#000" stroke-width="1.1"/>
<line x1="445.71" y1="398.8" x2="445.71" y2="400.5" stroke="#000" stroke-width="1.1"/>
<line x1="447.99" y1="398.8" x2="447.99" y2="400.5" stroke="#000" stroke-width="1.1"/>
<line x1="449.76" y1="398.8" x2="449.76" y2="400.5" stroke="#000" stroke-width="1.1"/>
<line x1="451.2" y1="398.8" x2="451.2" y2="400.5" stroke="#000" stroke-width="1.1"/>
<line x1="452.42" y1="398.8" x2="452.42" y2="400.5" stroke="#000" stroke-width="1.1"/>
<line x1="453.48" y1="398.8" x2="453.48" y2="400.5" stroke="#000" stroke-width="1.1"/>
<line x1="454.41" y1="398.8" x2="454.41" y2="400.5" stroke="#000" stroke-width="1.1"/>
<line x1="455.25" y1="398.8" x2="455.25" y2="401.8" stroke="#000" stroke-width="1.1"/>
<line x1="460.74" y1="398.8" x2="460.74" y2="400.5" stroke="#000" stroke-width="1.1"/>
<line x1="463.96" y1="398.8" x2="463.96" y2="400.5" stroke="#000" stroke-width="1.1"/>
<line x1="466.24" y1="398.8" x2="466.24" y2="400.5" stroke="#000" stroke-width="1.1"/>
<line x1="468.01" y1="398.8" x2="468.01" y2="400.5" stroke="#000" stroke-width="1.1"/>
<line x1="469.45" y1="398.8" x2="469.45" y2="400.5" stroke="#000" stroke-width="1.1"/>
<line x1="470.67" y1="398.8" x2="470.67" y2="400.5" stroke="#000" stroke-width="1.1"/>
<line x1="471.73" y1="398.8" x2="471.73" y2="400.5" stroke="#000" stroke-width="1.1"/>
<line x1="472.66" y1="398.8" x2="472.66" y2="400.5" stroke="#000" stroke-width="1.1"/>
<line x1="473.5" y1="398.8" x2="473.5" y2="401.8" stroke="#000" stroke-width="1.1"/>
<line x1="478.99" y1="398.8" x2="478.99" y2="400.5" stroke="#000" stroke-width="1.1"/>
<line x1="482.21" y1="398.8" x2="482.21" y2="400.5" stroke="#000" stroke-width="1.1"/>
<line x1="484.49" y1="398.8" x2="484.49" y2="400.5" stroke="#000" stroke-width="1.1"/>
<line x1="486.26" y1="398.8" x2="486.26" y2="400.5" stroke="#000" stroke-width="1.1"/>
<line x1="487.7" y1="398.8" x2="487.7" y2="400.5" stroke="#000" stroke-width="1.1"/>
<line x1="488.92" y1="398.8" x2="488.92" y2="400.5" stroke="#000" stroke-width="1.1"/>
<line x1="489.98" y1="398.8" x2="489.98" y2="400.5" stroke="#000" stroke-width="1.1"/>
<line x1="490.91" y1="398.8" x2="490.91" y2="400.5" stroke="#000" stroke-width="1.1"/>
<line x1="491.75" y1="398.8" x2="491.75" y2="401.8" stroke="#000" stroke-width="1.1"/>
<line x1="497.24" y1="398.8" x2="497.24" y2="400.5" stroke="#000" stroke-width="1.1"/>
<line x1="500.46" y1="398.8" x2="500.46" y2="400.5" stroke="#000" stroke-width="1.1"/>
<line x1="502.74" y1="398.8" x2="502.74" y2="400.5" stroke="#000" stroke-width="1.1"/>
<line x1="504.51" y1="398.8" x2="504.51" y2="400.5" stroke="#000" stroke-width="1.1"/>
<line x1="505.95" y1="398.8" x2="505.95" y2="400.5" stroke="#000" stroke-width="1.1"/>
<line x1="507.17" y1="398.8" x2="507.17" y2="400.5" stroke="#000" stroke-width="1.1"/>
<line x1="508.23" y1="398.8" x2="508.23" y2="400.5" stroke="#000" stroke-width="1.1"/>
<line x1="509.16" y1="398.8" x2="509.16" y2="400.5" stroke="#000" stroke-width="1.1"/>
<line x1="510" y1="398.8" x2="510" y2="401.8" stroke="#000" stroke-width="1.1"/>
<line x1="434" y1="398.8" x2="437" y2="398.8" stroke="#000" stroke-width="1.1"/>
<line x1="435.3" y1="393.37" x2="437" y2="393.37" stroke="#000" stroke-width="1.1"/>
<line x1="435.3" y1="390.19" x2="437" y2="390.19" stroke="#000" stroke-width="1.1"/>
<line x1="435.3" y1="387.93" x2="437" y2="387.93" stroke="#000" stroke-width="1.1"/>
<line x1="435.3" y1="386.18" x2="437" y2="386.18" stroke="#000" stroke-width="1.1"/>
<line x1="435.3" y1="384.75" x2="437" y2="384.75" stroke="#000" stroke-width="1.1"/>
<line x1="435.3" y1="383.55" x2="437" y2="383.55" stroke="#000" stroke-width="1.1"/>
<line x1="435.3" y1="382.5" x2="437" y2="382.5" stroke="#000" stroke-width="1.1"/>
<line x1="435.3" y1="381.58" x2="437" y2="381.58" stroke="#000" stroke-width="1.1"/>
<line x1="434" y1="380.75" x2="437" y2="380.75" stroke="#000" stroke-width="1.1"/>
<line x1="435.3" y1="375.32" x2="437" y2="375.32" stroke="#000" stroke-width="1.1"/>
<line x1="435.3" y1="372.14" x2="437" y2="372.14" stroke="#000" stroke-width="1.1"/>
<line x1="435.3" y1="369.88" x2="437" y2="369.88" stroke="#000" stroke-width="1.1"/>
<line x1="435.3" y1="368.13" x2="437" y2="368.13" stroke="#000" stroke-width="1.1"/>
<line x1="435.3" y1="366.7" x2="437" y2="366.7" stroke="#000" stroke-width="1.1"/>
<line x1="435.3" y1="365.5" x2="437" y2="365.5" stroke="#000" stroke-width="1.1"/>
<line x1="435.3" y1="364.45" x2="437" y2="364.45" stroke="#000" stroke-width="1.1"/>
<line x1="435.3" y1="363.53" x2="437" y2="363.53" stroke="#000" stroke-width="1.1"/>
<line x1="434" y1="362.7" x2="437" y2="362.7" stroke="#000" stroke-width="1.1"/>
<line x1="435.3" y1="357.27" x2="437" y2="357.27" stroke="#000" stroke-width="1.1"/>
<line x1="435.3" y1="354.09" x2="437" y2="354.09" stroke="#000" stroke-width="1.1"/>
<line x1="435.3" y1="351.83" x2="437" y2="351.83" stroke="#000" stroke-width="1.1"/>
<line x1="435.3" y1="350.08" x2="437" y2="350.08" stroke="#000" stroke-width="1.1"/>
<line x1="435.3" y1="348.65" x2="437" y2="348.65" stroke="#000" stroke-width="1.1"/>
<line x1="435.3" y1="347.45" x2="437" y2="347.45" stroke="#000" stroke-width="1.1"/>
<line x1="435.3" y1="346.4" x2="437" y2="346.4" stroke="#000" stroke-width="1.1"/>
<line x1="435.3" y1="345.48" x2="437" y2="345.48" stroke="#000" stroke-width="1.1"/>
<line x1="434" y1="344.65" x2="437" y2="344.65" stroke="#000" stroke-width="1.1"/>
<line x1="435.3" y1="339.22" x2="437" y2="339.22" stroke="#000" stroke-width="1.1"/>
<line x1="435.3" y1="336.04" x2="437" y2="336.04" stroke="#000" stroke-width="1.1"/>
<line x1="435.3" y1="333.78" x2="437" y2="333.78" stroke="#000" stroke-width="1.1"/>
<line x1="435.3" y1="332.03" x2="437" y2="332.03" stroke="#000" stroke-width="1.1"/>
<line x1="435.3" y1="330.6" x2="437" y2="330.6" stroke="#000" stroke-width="1.1"/>
<line x1="435.3" y1="329.4" x2="437" y2="329.4" stroke="#000" stroke-width="1.1"/>
<line x1="435.3" y1="328.35" x2="437" y2="328.35" stroke="#000" stroke-width="1.1"/>
<line x1="435.3" y1="327.43" x2="437" y2="327.43" stroke="#000" stroke-width="1.1"/>
<line x1="434" y1="326.6" x2="437" y2="326.6" stroke="#000" stroke-width="1.1"/>
<rect x="451.4" y="348.9" width="36.9" height="16.4" fill="none" stroke="#111" stroke-width="1.4" />
<rect x="474.1" y="365.3" width="14.2" height="17.3" fill="none" stroke="#111" stroke-width="1.4" />
<line x1="474.1" y1="348.9" x2="474.1" y2="365.3" stroke="#111" stroke-width="1.4"/>
<text x="462.75" y="347.9" font-size="5.4" text-anchor="middle" font-weight="normal" font-style="normal" fill="#1a1a1a" >9.89%</text>
<text x="481.7" y="347.9" font-size="5.4" text-anchor="middle" font-weight="normal" font-style="normal" fill="#1a1a1a" >4.16%</text>
<text x="481.7" y="390.4" font-size="5.4" text-anchor="middle" font-weight="normal" font-style="normal" fill="#1a1a1a" >2.30%</text>
<g transform="translate(437.1,411.5) scale(0.85,1)"><text x="-3.56" y="0" font-size="6.4" fill="#1a1a1a">10<tspan font-size="3.9" dx="0.5" dy="-2.9">2</tspan></text></g>
<g transform="translate(455.35,411.5) scale(0.85,1)"><text x="-3.56" y="0" font-size="6.4" fill="#1a1a1a">10<tspan font-size="3.9" dx="0.5" dy="-2.9">3</tspan></text></g>
<g transform="translate(473.6,411.5) scale(0.85,1)"><text x="-3.56" y="0" font-size="6.4" fill="#1a1a1a">10<tspan font-size="3.9" dx="0.5" dy="-2.9">4</tspan></text></g>
<g transform="translate(491.85,411.5) scale(0.85,1)"><text x="-3.56" y="0" font-size="6.4" fill="#1a1a1a">10<tspan font-size="3.9" dx="0.5" dy="-2.9">5</tspan></text></g>
<g transform="translate(510.1,411.5) scale(0.85,1)"><text x="-3.56" y="0" font-size="6.4" fill="#1a1a1a">10<tspan font-size="3.9" dx="0.5" dy="-2.9">6</tspan></text></g>
<g transform="translate(473.5,320.8) scale(0.83,1)"><text x="0" y="0" font-size="8.9" font-style="italic" text-anchor="middle" fill="#222">Cbp<tspan font-size="6.85" dy="-2.4">Δ/Δ</tspan><tspan dy="2.4"> x EμBcl2</tspan></text></g>
<g transform="translate(12.4,367.2) rotate(-90) scale(0.85,1)"><text x="0" y="0" font-size="9" text-anchor="middle" fill="#1a1a1a">IgD</text></g>
<line x1="9.6" y1="378.5" x2="9.6" y2="418.6" stroke="#111" stroke-width="1.1"/>
<polygon points="9.6,375.2 7.3,380.2 11.9,380.2" fill="#111"/>
<line x1="9" y1="418.2" x2="46.5" y2="418.2" stroke="#111" stroke-width="1.1"/>
<polygon points="50.2,418.2 45.2,415.9 45.2,420.5" fill="#111"/>
<g transform="translate(53.2,421.5) scale(0.85,1)"><text x="0" y="0" font-size="9" fill="#1a1a1a">IgM</text></g>
<text x="6" y="445.6" font-size="11.6" text-anchor="start" font-weight="bold" font-style="normal" fill="#000" >G</text>
<g transform="translate(89.8,456.9)"><text x="0" y="0" font-size="8.4" text-anchor="middle" fill="#222" textLength="47.5" lengthAdjust="spacingAndGlyphs">Total B-cells</text></g>
<line x1="40.1" y1="465.8" x2="40.1" y2="527.7" stroke="#111" stroke-width="1.3"/>
<line x1="39.5" y1="527.1" x2="139.3" y2="527.1" stroke="#111" stroke-width="1.3"/>
<line x1="36.9" y1="524.1" x2="40.1" y2="524.1" stroke="#111" stroke-width="1.3"/>
<text x="33.8" y="526.4" font-size="6.5" text-anchor="end" font-weight="normal" font-style="normal" fill="#2a2a2a" >0</text>
<line x1="36.9" y1="512.96" x2="40.1" y2="512.96" stroke="#111" stroke-width="1.3"/>
<text x="33.8" y="515.26" font-size="6.5" text-anchor="end" font-weight="normal" font-style="normal" fill="#2a2a2a" >20</text>
<line x1="36.9" y1="501.82" x2="40.1" y2="501.82" stroke="#111" stroke-width="1.3"/>
<text x="33.8" y="504.12" font-size="6.5" text-anchor="end" font-weight="normal" font-style="normal" fill="#2a2a2a" >40</text>
<line x1="36.9" y1="490.68" x2="40.1" y2="490.68" stroke="#111" stroke-width="1.3"/>
<text x="33.8" y="492.98" font-size="6.5" text-anchor="end" font-weight="normal" font-style="normal" fill="#2a2a2a" >60</text>
<line x1="36.9" y1="479.54" x2="40.1" y2="479.54" stroke="#111" stroke-width="1.3"/>
<text x="33.8" y="481.84" font-size="6.5" text-anchor="end" font-weight="normal" font-style="normal" fill="#2a2a2a" >80</text>
<line x1="36.9" y1="468.4" x2="40.1" y2="468.4" stroke="#111" stroke-width="1.3"/>
<text x="33.8" y="470.7" font-size="6.5" text-anchor="end" font-weight="normal" font-style="normal" fill="#2a2a2a" >100</text>
<line x1="52.3" y1="488.2" x2="52.3" y2="491.7" stroke="#3a3a3a" stroke-width="1.05"/>
<line x1="49.9" y1="488.2" x2="54.7" y2="488.2" stroke="#333" stroke-width="1.5"/>
<line x1="52.3" y1="499.5" x2="52.3" y2="501.5" stroke="#3a3a3a" stroke-width="1.05"/>
<line x1="49.9" y1="501.5" x2="54.7" y2="501.5" stroke="#333" stroke-width="1.5"/>
<rect x="48.65" y="491.7" width="7.3" height="7.8" fill="#d2d2d2" stroke="#b8b8b8" stroke-width="0.5" />
<line x1="48.65" y1="493.4" x2="55.95" y2="493.4" stroke="#111" stroke-width="1.3"/>
<line x1="52.3" y1="527.1" x2="52.3" y2="530.1" stroke="#111" stroke-width="1"/>
<g transform="translate(55.9,539.3) rotate(-45) scale(0.8,1)"><text x="0" y="0" font-size="7.8" font-style="italic" text-anchor="end" fill="#262626">Cbp<tspan font-size="4.3" dx="0.4" dy="-4" fill="#555">WT/F</tspan></text></g>
<line x1="67.5" y1="491.3" x2="67.5" y2="494" stroke="#3a3a3a" stroke-width="1.05"/>
<line x1="65.1" y1="491.3" x2="69.9" y2="491.3" stroke="#333" stroke-width="1.5"/>
<line x1="67.5" y1="499.5" x2="67.5" y2="503.4" stroke="#3a3a3a" stroke-width="1.05"/>
<line x1="65.1" y1="503.4" x2="69.9" y2="503.4" stroke="#333" stroke-width="1.5"/>
<rect x="63.85" y="494" width="7.3" height="5.5" fill="#4c2163" stroke="#3a1850" stroke-width="0.5" />
<line x1="63.85" y1="496.7" x2="71.15" y2="496.7" stroke="#111" stroke-width="1.3"/>
<line x1="67.5" y1="527.1" x2="67.5" y2="530.1" stroke="#111" stroke-width="1"/>
<g transform="translate(71.1,539.3) rotate(-45) scale(0.8,1)"><text x="0" y="0" font-size="7.8" font-style="italic" text-anchor="end" fill="#262626">EμBcl2</text></g>
<line x1="82.1" y1="487.5" x2="82.1" y2="498" stroke="#3a3a3a" stroke-width="1.05"/>
<line x1="79.7" y1="487.5" x2="84.5" y2="487.5" stroke="#333" stroke-width="1.5"/>
<line x1="82.1" y1="513.1" x2="82.1" y2="522.8" stroke="#3a3a3a" stroke-width="1.05"/>
<line x1="79.7" y1="522.8" x2="84.5" y2="522.8" stroke="#333" stroke-width="1.5"/>
<rect x="78.45" y="498" width="7.3" height="15.1" fill="#2d5190" stroke="#24427a" stroke-width="0.5" />
<line x1="78.45" y1="503.1" x2="85.75" y2="503.1" stroke="#111" stroke-width="1.3"/>
<line x1="82.1" y1="527.1" x2="82.1" y2="530.1" stroke="#111" stroke-width="1"/>
<g transform="translate(85.7,539.3) rotate(-45) scale(0.8,1)"><text x="0" y="0" font-size="7.8" font-style="italic" text-anchor="end" fill="#262626">Cbp<tspan font-size="4.3" dx="0.4" dy="-4" fill="#555">WT/Δ</tspan></text></g>
<line x1="96.6" y1="494.7" x2="96.6" y2="504" stroke="#3a3a3a" stroke-width="1.05"/>
<line x1="94.2" y1="494.7" x2="99" y2="494.7" stroke="#333" stroke-width="1.5"/>
<line x1="96.6" y1="512.5" x2="96.6" y2="522.8" stroke="#3a3a3a" stroke-width="1.05"/>
<line x1="94.2" y1="522.8" x2="99" y2="522.8" stroke="#333" stroke-width="1.5"/>
<rect x="92.95" y="504" width="7.3" height="8.5" fill="#62ad3a" stroke="#4f9430" stroke-width="0.5" />
<line x1="92.95" y1="508.2" x2="100.25" y2="508.2" stroke="#111" stroke-width="1.3"/>
<circle cx="96.6" cy="472.7" r="1.25" fill="#111"/>
<circle cx="96.6" cy="478.1" r="1.25" fill="#111"/>
<circle cx="96.6" cy="484.2" r="1.25" fill="#111"/>
<line x1="96.6" y1="527.1" x2="96.6" y2="530.1" stroke="#111" stroke-width="1"/>
<g transform="translate(100.2,539.3) rotate(-45) scale(0.8,1)"><text x="0" y="0" font-size="7.8" font-style="italic" text-anchor="end" fill="#262626">Cbp<tspan font-size="4.3" dx="0.4" dy="-4" fill="#555">Δ/Δ</tspan></text></g>
<line x1="111.3" y1="494.3" x2="111.3" y2="498.9" stroke="#3a3a3a" stroke-width="1.05"/>
<line x1="108.9" y1="494.3" x2="113.7" y2="494.3" stroke="#333" stroke-width="1.5"/>
<line x1="111.3" y1="512.5" x2="111.3" y2="516.3" stroke="#3a3a3a" stroke-width="1.05"/>
<line x1="108.9" y1="516.3" x2="113.7" y2="516.3" stroke="#333" stroke-width="1.5"/>
<rect x="107.65" y="498.9" width="7.3" height="13.6" fill="#f2a21b" stroke="#d98c10" stroke-width="0.5" />
<line x1="107.65" y1="505.1" x2="114.95" y2="505.1" stroke="#111" stroke-width="1.3"/>
<line x1="111.3" y1="527.1" x2="111.3" y2="530.1" stroke="#111" stroke-width="1"/>
<g transform="translate(114.9,539.3) rotate(-45) scale(0.8,1)"><text x="0" y="0" font-size="7.8" font-style="italic" text-anchor="end" fill="#262626">Cbp<tspan font-size="4.3" dx="0.4" dy="-4" fill="#555">WT/Δ</tspan><tspan dy="4"> x EμBcl2</tspan></text></g>
<line x1="126.1" y1="503.1" x2="126.1" y2="505" stroke="#3a3a3a" stroke-width="1.05"/>
<line x1="123.7" y1="503.1" x2="128.5" y2="503.1" stroke="#333" stroke-width="1.5"/>
<line x1="126.1" y1="510.3" x2="126.1" y2="515" stroke="#3a3a3a" stroke-width="1.05"/>
<line x1="123.7" y1="515" x2="128.5" y2="515" stroke="#333" stroke-width="1.5"/>
<rect x="122.45" y="505" width="7.3" height="5.3" fill="#c5102e" stroke="#a50c25" stroke-width="0.5" />
<line x1="122.45" y1="507.3" x2="129.75" y2="507.3" stroke="#111" stroke-width="1.3"/>
<circle cx="126.1" cy="480.5" r="1.25" fill="#111"/>
<circle cx="126.1" cy="486.2" r="1.25" fill="#111"/>
<circle cx="126.1" cy="523.1" r="1.25" fill="#111"/>
<line x1="126.1" y1="527.1" x2="126.1" y2="530.1" stroke="#111" stroke-width="1"/>
<g transform="translate(129.7,539.3) rotate(-45) scale(0.8,1)"><text x="0" y="0" font-size="7.8" font-style="italic" text-anchor="end" fill="#262626">Cbp<tspan font-size="4.3" dx="0.4" dy="-4" fill="#555">Δ/Δ</tspan><tspan dy="4"> x EμBcl2</tspan></text></g>
<g transform="translate(17.6,496.2) rotate(-90)"><text x="0" y="0" font-size="7.6" text-anchor="middle" fill="#222">Percent</text></g>
<text x="142.5" y="445.6" font-size="11.6" text-anchor="start" font-weight="bold" font-style="normal" fill="#000" >H</text>
<g transform="translate(214,456.9)"><text x="0" y="0" font-size="8.4" text-anchor="middle" fill="#222" textLength="63" lengthAdjust="spacingAndGlyphs">Follicular B-cells</text></g>
<line x1="164.5" y1="465.8" x2="164.5" y2="527.7" stroke="#111" stroke-width="1.3"/>
<line x1="163.9" y1="527.1" x2="263.5" y2="527.1" stroke="#111" stroke-width="1.3"/>
<line x1="161.3" y1="524.1" x2="164.5" y2="524.1" stroke="#111" stroke-width="1.3"/>
<text x="158.2" y="526.4" font-size="6.5" text-anchor="end" font-weight="normal" font-style="normal" fill="#2a2a2a" >0</text>
<line x1="161.3" y1="512.96" x2="164.5" y2="512.96" stroke="#111" stroke-width="1.3"/>
<text x="158.2" y="515.26" font-size="6.5" text-anchor="end" font-weight="normal" font-style="normal" fill="#2a2a2a" >10</text>
<line x1="161.3" y1="501.82" x2="164.5" y2="501.82" stroke="#111" stroke-width="1.3"/>
<text x="158.2" y="504.12" font-size="6.5" text-anchor="end" font-weight="normal" font-style="normal" fill="#2a2a2a" >20</text>
<line x1="161.3" y1="490.68" x2="164.5" y2="490.68" stroke="#111" stroke-width="1.3"/>
<text x="158.2" y="492.98" font-size="6.5" text-anchor="end" font-weight="normal" font-style="normal" fill="#2a2a2a" >30</text>
<line x1="161.3" y1="479.54" x2="164.5" y2="479.54" stroke="#111" stroke-width="1.3"/>
<text x="158.2" y="481.84" font-size="6.5" text-anchor="end" font-weight="normal" font-style="normal" fill="#2a2a2a" >40</text>
<line x1="161.3" y1="468.4" x2="164.5" y2="468.4" stroke="#111" stroke-width="1.3"/>
<text x="158.2" y="470.7" font-size="6.5" text-anchor="end" font-weight="normal" font-style="normal" fill="#2a2a2a" >50</text>
<line x1="176.8" y1="470.4" x2="176.8" y2="480.3" stroke="#3a3a3a" stroke-width="1.05"/>
<line x1="174.4" y1="470.4" x2="179.2" y2="470.4" stroke="#333" stroke-width="1.5"/>
<line x1="176.8" y1="493" x2="176.8" y2="502.1" stroke="#3a3a3a" stroke-width="1.05"/>
<line x1="174.4" y1="502.1" x2="179.2" y2="502.1" stroke="#333" stroke-width="1.5"/>
<rect x="173.15" y="480.3" width="7.3" height="12.7" fill="#d2d2d2" stroke="#b8b8b8" stroke-width="0.5" />
<line x1="173.15" y1="484.2" x2="180.45" y2="484.2" stroke="#111" stroke-width="1.3"/>
<line x1="176.8" y1="527.1" x2="176.8" y2="530.1" stroke="#111" stroke-width="1"/>
<g transform="translate(180.4,539.3) rotate(-45) scale(0.8,1)"><text x="0" y="0" font-size="7.8" font-style="italic" text-anchor="end" fill="#262626">Cbp<tspan font-size="4.3" dx="0.4" dy="-4" fill="#555">WT/F</tspan></text></g>
<line x1="191.6" y1="480.3" x2="191.6" y2="485" stroke="#3a3a3a" stroke-width="1.05"/>
<line x1="189.2" y1="480.3" x2="194" y2="480.3" stroke="#333" stroke-width="1.5"/>
<line x1="191.6" y1="492.4" x2="191.6" y2="502.7" stroke="#3a3a3a" stroke-width="1.05"/>
<line x1="189.2" y1="502.7" x2="194" y2="502.7" stroke="#333" stroke-width="1.5"/>
<rect x="187.95" y="485" width="7.3" height="7.4" fill="#4c2163" stroke="#3a1850" stroke-width="0.5" />
<line x1="187.95" y1="488.8" x2="195.25" y2="488.8" stroke="#111" stroke-width="1.3"/>
<line x1="191.6" y1="527.1" x2="191.6" y2="530.1" stroke="#111" stroke-width="1"/>
<g transform="translate(195.2,539.3) rotate(-45) scale(0.8,1)"><text x="0" y="0" font-size="7.8" font-style="italic" text-anchor="end" fill="#262626">EμBcl2</text></g>
<line x1="206.6" y1="471.3" x2="206.6" y2="495" stroke="#3a3a3a" stroke-width="1.05"/>
<line x1="204.2" y1="471.3" x2="209" y2="471.3" stroke="#333" stroke-width="1.5"/>
<line x1="206.6" y1="515.7" x2="206.6" y2="523.9" stroke="#3a3a3a" stroke-width="1.05"/>
<line x1="204.2" y1="523.9" x2="209" y2="523.9" stroke="#333" stroke-width="1.5"/>
<rect x="202.95" y="495" width="7.3" height="20.7" fill="#2d5190" stroke="#24427a" stroke-width="0.5" />
<line x1="202.95" y1="501.2" x2="210.25" y2="501.2" stroke="#111" stroke-width="1.3"/>
<line x1="206.6" y1="527.1" x2="206.6" y2="530.1" stroke="#111" stroke-width="1"/>
<g transform="translate(210.2,539.3) rotate(-45) scale(0.8,1)"><text x="0" y="0" font-size="7.8" font-style="italic" text-anchor="end" fill="#262626">Cbp<tspan font-size="4.3" dx="0.4" dy="-4" fill="#555">WT/Δ</tspan></text></g>
<line x1="221.4" y1="499.2" x2="221.4" y2="504.7" stroke="#3a3a3a" stroke-width="1.05"/>
<line x1="219" y1="499.2" x2="223.8" y2="499.2" stroke="#333" stroke-width="1.5"/>
<line x1="221.4" y1="519.7" x2="221.4" y2="523.9" stroke="#3a3a3a" stroke-width="1.05"/>
<line x1="219" y1="523.9" x2="223.8" y2="523.9" stroke="#333" stroke-width="1.5"/>
<rect x="217.75" y="504.7" width="7.3" height="15" fill="#62ad3a" stroke="#4f9430" stroke-width="0.5" />
<line x1="217.75" y1="511.6" x2="225.05" y2="511.6" stroke="#111" stroke-width="1.3"/>
<circle cx="221.4" cy="478.4" r="1.25" fill="#111"/>
<line x1="221.4" y1="527.1" x2="221.4" y2="530.1" stroke="#111" stroke-width="1"/>
<g transform="translate(225,539.3) rotate(-45) scale(0.8,1)"><text x="0" y="0" font-size="7.8" font-style="italic" text-anchor="end" fill="#262626">Cbp<tspan font-size="4.3" dx="0.4" dy="-4" fill="#555">Δ/Δ</tspan></text></g>
<line x1="236.3" y1="484.9" x2="236.3" y2="498.6" stroke="#3a3a3a" stroke-width="1.05"/>
<line x1="233.9" y1="484.9" x2="238.7" y2="484.9" stroke="#333" stroke-width="1.5"/>
<line x1="236.3" y1="516.1" x2="236.3" y2="523.9" stroke="#3a3a3a" stroke-width="1.05"/>
<line x1="233.9" y1="523.9" x2="238.7" y2="523.9" stroke="#333" stroke-width="1.5"/>
<rect x="232.65" y="498.6" width="7.3" height="17.5" fill="#f2a21b" stroke="#d98c10" stroke-width="0.5" />
<line x1="232.65" y1="504.7" x2="239.95" y2="504.7" stroke="#111" stroke-width="1.3"/>
<line x1="236.3" y1="527.1" x2="236.3" y2="530.1" stroke="#111" stroke-width="1"/>
<g transform="translate(239.9,539.3) rotate(-45) scale(0.8,1)"><text x="0" y="0" font-size="7.8" font-style="italic" text-anchor="end" fill="#262626">Cbp<tspan font-size="4.3" dx="0.4" dy="-4" fill="#555">WT/Δ</tspan><tspan dy="4"> x EμBcl2</tspan></text></g>
<line x1="251.2" y1="500.4" x2="251.2" y2="509.2" stroke="#3a3a3a" stroke-width="1.05"/>
<line x1="248.8" y1="500.4" x2="253.6" y2="500.4" stroke="#333" stroke-width="1.5"/>
<line x1="251.2" y1="517.6" x2="251.2" y2="523.9" stroke="#3a3a3a" stroke-width="1.05"/>
<line x1="248.8" y1="523.9" x2="253.6" y2="523.9" stroke="#333" stroke-width="1.5"/>
<rect x="247.55" y="509.2" width="7.3" height="8.4" fill="#c5102e" stroke="#a50c25" stroke-width="0.5" />
<line x1="247.55" y1="513.1" x2="254.85" y2="513.1" stroke="#111" stroke-width="1.3"/>
<line x1="251.2" y1="527.1" x2="251.2" y2="530.1" stroke="#111" stroke-width="1"/>
<g transform="translate(254.8,539.3) rotate(-45) scale(0.8,1)"><text x="0" y="0" font-size="7.8" font-style="italic" text-anchor="end" fill="#262626">Cbp<tspan font-size="4.3" dx="0.4" dy="-4" fill="#555">Δ/Δ</tspan><tspan dy="4"> x EμBcl2</tspan></text></g>
<text x="275.8" y="445.6" font-size="11.6" text-anchor="start" font-weight="bold" font-style="normal" fill="#000" >I</text>
<g transform="translate(338.4,456.9)"><text x="0" y="0" font-size="8.4" text-anchor="middle" fill="#222" textLength="64" lengthAdjust="spacingAndGlyphs">Immature B-cells</text></g>
<line x1="288.8" y1="465.6" x2="288.8" y2="527.7" stroke="#111" stroke-width="1.3"/>
<line x1="288.2" y1="527.1" x2="387.6" y2="527.1" stroke="#111" stroke-width="1.3"/>
<line x1="285.6" y1="524.1" x2="288.8" y2="524.1" stroke="#111" stroke-width="1.3"/>
<text x="282.5" y="526.4" font-size="6.5" text-anchor="end" font-weight="normal" font-style="normal" fill="#2a2a2a" >0</text>
<line x1="285.6" y1="508.24" x2="288.8" y2="508.24" stroke="#111" stroke-width="1.3"/>
<text x="282.5" y="510.54" font-size="6.5" text-anchor="end" font-weight="normal" font-style="normal" fill="#2a2a2a" >2</text>
<line x1="285.6" y1="492.38" x2="288.8" y2="492.38" stroke="#111" stroke-width="1.3"/>
<text x="282.5" y="494.68" font-size="6.5" text-anchor="end" font-weight="normal" font-style="normal" fill="#2a2a2a" >4</text>
<line x1="285.6" y1="476.52" x2="288.8" y2="476.52" stroke="#111" stroke-width="1.3"/>
<text x="282.5" y="478.82" font-size="6.5" text-anchor="end" font-weight="normal" font-style="normal" fill="#2a2a2a" >6</text>
<line x1="301.2" y1="471" x2="301.2" y2="479.2" stroke="#3a3a3a" stroke-width="1.05"/>
<line x1="298.8" y1="471" x2="303.6" y2="471" stroke="#333" stroke-width="1.5"/>
<line x1="301.2" y1="484.6" x2="301.2" y2="495" stroke="#3a3a3a" stroke-width="1.05"/>
<line x1="298.8" y1="495" x2="303.6" y2="495" stroke="#333" stroke-width="1.5"/>
<rect x="297.55" y="479.2" width="7.3" height="5.4" fill="#d2d2d2" stroke="#b8b8b8" stroke-width="0.5" />
<line x1="297.55" y1="481.4" x2="304.85" y2="481.4" stroke="#111" stroke-width="1.3"/>
<circle cx="301.2" cy="508.3" r="1.25" fill="#111"/>
<line x1="301.2" y1="527.1" x2="301.2" y2="530.1" stroke="#111" stroke-width="1"/>
<g transform="translate(304.8,539.3) rotate(-45) scale(0.8,1)"><text x="0" y="0" font-size="7.8" font-style="italic" text-anchor="end" fill="#262626">Cbp<tspan font-size="4.3" dx="0.4" dy="-4" fill="#555">WT/F</tspan></text></g>
<line x1="316.4" y1="480.3" x2="316.4" y2="489.5" stroke="#3a3a3a" stroke-width="1.05"/>
<line x1="314" y1="480.3" x2="318.8" y2="480.3" stroke="#333" stroke-width="1.5"/>
<line x1="316.4" y1="495.9" x2="316.4" y2="499.5" stroke="#3a3a3a" stroke-width="1.05"/>
<line x1="314" y1="499.5" x2="318.8" y2="499.5" stroke="#333" stroke-width="1.5"/>
<rect x="312.75" y="489.5" width="7.3" height="6.4" fill="#4c2163" stroke="#3a1850" stroke-width="0.5" />
<line x1="312.75" y1="491.1" x2="320.05" y2="491.1" stroke="#111" stroke-width="1.3"/>
<line x1="316.4" y1="527.1" x2="316.4" y2="530.1" stroke="#111" stroke-width="1"/>
<g transform="translate(320,539.3) rotate(-45) scale(0.8,1)"><text x="0" y="0" font-size="7.8" font-style="italic" text-anchor="end" fill="#262626">EμBcl2</text></g>
<line x1="331.4" y1="484.4" x2="331.4" y2="497.3" stroke="#3a3a3a" stroke-width="1.05"/>
<line x1="329" y1="484.4" x2="333.8" y2="484.4" stroke="#333" stroke-width="1.5"/>
<rect x="327.75" y="497.3" width="7.3" height="26.6" fill="#2d5190" stroke="#24427a" stroke-width="0.5" />
<line x1="327.75" y1="519.3" x2="335.05" y2="519.3" stroke="#111" stroke-width="1.3"/>
<line x1="331.4" y1="527.1" x2="331.4" y2="530.1" stroke="#111" stroke-width="1"/>
<g transform="translate(335,539.3) rotate(-45) scale(0.8,1)"><text x="0" y="0" font-size="7.8" font-style="italic" text-anchor="end" fill="#262626">Cbp<tspan font-size="4.3" dx="0.4" dy="-4" fill="#555">WT/Δ</tspan></text></g>
<line x1="346.4" y1="475.7" x2="346.4" y2="490.8" stroke="#3a3a3a" stroke-width="1.05"/>
<line x1="344" y1="475.7" x2="348.8" y2="475.7" stroke="#333" stroke-width="1.5"/>
<line x1="346.4" y1="519.1" x2="346.4" y2="523.9" stroke="#3a3a3a" stroke-width="1.05"/>
<line x1="344" y1="523.9" x2="348.8" y2="523.9" stroke="#333" stroke-width="1.5"/>
<rect x="342.75" y="490.8" width="7.3" height="28.3" fill="#62ad3a" stroke="#4f9430" stroke-width="0.5" />
<line x1="342.75" y1="502.1" x2="350.05" y2="502.1" stroke="#111" stroke-width="1.3"/>
<line x1="346.4" y1="527.1" x2="346.4" y2="530.1" stroke="#111" stroke-width="1"/>
<g transform="translate(350,539.3) rotate(-45) scale(0.8,1)"><text x="0" y="0" font-size="7.8" font-style="italic" text-anchor="end" fill="#262626">Cbp<tspan font-size="4.3" dx="0.4" dy="-4" fill="#555">Δ/Δ</tspan></text></g>
<line x1="361.5" y1="490.8" x2="361.5" y2="502.5" stroke="#3a3a3a" stroke-width="1.05"/>
<line x1="359.1" y1="490.8" x2="363.9" y2="490.8" stroke="#333" stroke-width="1.5"/>
<line x1="361.5" y1="520.2" x2="361.5" y2="523.9" stroke="#3a3a3a" stroke-width="1.05"/>
<line x1="359.1" y1="523.9" x2="363.9" y2="523.9" stroke="#333" stroke-width="1.5"/>
<rect x="357.85" y="502.5" width="7.3" height="17.7" fill="#f2a21b" stroke="#d98c10" stroke-width="0.5" />
<line x1="357.85" y1="507.5" x2="365.15" y2="507.5" stroke="#111" stroke-width="1.3"/>
<line x1="361.5" y1="527.1" x2="361.5" y2="530.1" stroke="#111" stroke-width="1"/>
<g transform="translate(365.1,539.3) rotate(-45) scale(0.8,1)"><text x="0" y="0" font-size="7.8" font-style="italic" text-anchor="end" fill="#262626">Cbp<tspan font-size="4.3" dx="0.4" dy="-4" fill="#555">WT/Δ</tspan><tspan dy="4"> x EμBcl2</tspan></text></g>
<line x1="376.4" y1="496.7" x2="376.4" y2="502.5" stroke="#3a3a3a" stroke-width="1.05"/>
<line x1="374" y1="496.7" x2="378.8" y2="496.7" stroke="#333" stroke-width="1.5"/>
<line x1="376.4" y1="517.4" x2="376.4" y2="523.9" stroke="#3a3a3a" stroke-width="1.05"/>
<line x1="374" y1="523.9" x2="378.8" y2="523.9" stroke="#333" stroke-width="1.5"/>
<rect x="372.75" y="502.5" width="7.3" height="14.9" fill="#c5102e" stroke="#a50c25" stroke-width="0.5" />
<line x1="372.75" y1="508.8" x2="380.05" y2="508.8" stroke="#111" stroke-width="1.3"/>
<line x1="376.4" y1="527.1" x2="376.4" y2="530.1" stroke="#111" stroke-width="1"/>
<g transform="translate(380,539.3) rotate(-45) scale(0.8,1)"><text x="0" y="0" font-size="7.8" font-style="italic" text-anchor="end" fill="#262626">Cbp<tspan font-size="4.3" dx="0.4" dy="-4" fill="#555">Δ/Δ</tspan><tspan dy="4"> x EμBcl2</tspan></text></g>
<text x="391.8" y="445.6" font-size="11.6" text-anchor="start" font-weight="bold" font-style="normal" fill="#000" >J</text>
<g transform="translate(460,456.9)"><text x="0" y="0" font-size="8.4" text-anchor="middle" fill="#222" textLength="55" lengthAdjust="spacingAndGlyphs">Mature B-cells</text></g>
<line x1="412.1" y1="465.6" x2="412.1" y2="527.7" stroke="#111" stroke-width="1.3"/>
<line x1="411.5" y1="527.1" x2="511.3" y2="527.1" stroke="#111" stroke-width="1.3"/>
<line x1="408.9" y1="524.1" x2="412.1" y2="524.1" stroke="#111" stroke-width="1.3"/>
<text x="405.8" y="526.4" font-size="6.5" text-anchor="end" font-weight="normal" font-style="normal" fill="#2a2a2a" >0</text>
<line x1="408.9" y1="508.23" x2="412.1" y2="508.23" stroke="#111" stroke-width="1.3"/>
<text x="405.8" y="510.53" font-size="6.5" text-anchor="end" font-weight="normal" font-style="normal" fill="#2a2a2a" >20</text>
<line x1="408.9" y1="492.36" x2="412.1" y2="492.36" stroke="#111" stroke-width="1.3"/>
<text x="405.8" y="494.66" font-size="6.5" text-anchor="end" font-weight="normal" font-style="normal" fill="#2a2a2a" >40</text>
<line x1="408.9" y1="476.49" x2="412.1" y2="476.49" stroke="#111" stroke-width="1.3"/>
<text x="405.8" y="478.79" font-size="6.5" text-anchor="end" font-weight="normal" font-style="normal" fill="#2a2a2a" >60</text>
<line x1="424.4" y1="492.4" x2="424.4" y2="495.2" stroke="#3a3a3a" stroke-width="1.05"/>
<line x1="422" y1="492.4" x2="426.8" y2="492.4" stroke="#333" stroke-width="1.5"/>
<line x1="424.4" y1="501.5" x2="424.4" y2="511.4" stroke="#3a3a3a" stroke-width="1.05"/>
<line x1="422" y1="511.4" x2="426.8" y2="511.4" stroke="#333" stroke-width="1.5"/>
<rect x="420.75" y="495.2" width="7.3" height="6.3" fill="#d2d2d2" stroke="#b8b8b8" stroke-width="0.5" />
<line x1="420.75" y1="500.2" x2="428.05" y2="500.2" stroke="#111" stroke-width="1.3"/>
<line x1="424.4" y1="527.1" x2="424.4" y2="530.1" stroke="#111" stroke-width="1"/>
<g transform="translate(428,539.3) rotate(-45) scale(0.8,1)"><text x="0" y="0" font-size="7.8" font-style="italic" text-anchor="end" fill="#262626">Cbp<tspan font-size="4.3" dx="0.4" dy="-4" fill="#555">WT/F</tspan></text></g>
<line x1="439.3" y1="491.3" x2="439.3" y2="497.3" stroke="#3a3a3a" stroke-width="1.05"/>
<line x1="436.9" y1="491.3" x2="441.7" y2="491.3" stroke="#333" stroke-width="1.5"/>
<line x1="439.3" y1="500.5" x2="439.3" y2="507.5" stroke="#3a3a3a" stroke-width="1.05"/>
<line x1="436.9" y1="507.5" x2="441.7" y2="507.5" stroke="#333" stroke-width="1.5"/>
<rect x="435.65" y="497.3" width="7.3" height="3.2" fill="#4c2163" stroke="#3a1850" stroke-width="0.5" />
<line x1="435.65" y1="498.9" x2="442.95" y2="498.9" stroke="#111" stroke-width="1.3"/>
<line x1="439.3" y1="527.1" x2="439.3" y2="530.1" stroke="#111" stroke-width="1"/>
<g transform="translate(442.9,539.3) rotate(-45) scale(0.8,1)"><text x="0" y="0" font-size="7.8" font-style="italic" text-anchor="end" fill="#262626">EμBcl2</text></g>
<line x1="454.2" y1="485.9" x2="454.2" y2="500.2" stroke="#3a3a3a" stroke-width="1.05"/>
<line x1="451.8" y1="485.9" x2="456.6" y2="485.9" stroke="#333" stroke-width="1.5"/>
<line x1="454.2" y1="517.6" x2="454.2" y2="523.5" stroke="#3a3a3a" stroke-width="1.05"/>
<line x1="451.8" y1="523.5" x2="456.6" y2="523.5" stroke="#333" stroke-width="1.5"/>
<rect x="450.55" y="500.2" width="7.3" height="17.4" fill="#2d5190" stroke="#24427a" stroke-width="0.5" />
<line x1="450.55" y1="504.7" x2="457.85" y2="504.7" stroke="#111" stroke-width="1.3"/>
<line x1="454.2" y1="527.1" x2="454.2" y2="530.1" stroke="#111" stroke-width="1"/>
<g transform="translate(457.8,539.3) rotate(-45) scale(0.8,1)"><text x="0" y="0" font-size="7.8" font-style="italic" text-anchor="end" fill="#262626">Cbp<tspan font-size="4.3" dx="0.4" dy="-4" fill="#555">WT/Δ</tspan></text></g>
<line x1="469" y1="493" x2="469" y2="506" stroke="#3a3a3a" stroke-width="1.05"/>
<line x1="466.6" y1="493" x2="471.4" y2="493" stroke="#333" stroke-width="1.5"/>
<line x1="469" y1="518.5" x2="469" y2="523.9" stroke="#3a3a3a" stroke-width="1.05"/>
<line x1="466.6" y1="523.9" x2="471.4" y2="523.9" stroke="#333" stroke-width="1.5"/>
<rect x="465.35" y="506" width="7.3" height="12.5" fill="#62ad3a" stroke="#4f9430" stroke-width="0.5" />
<line x1="465.35" y1="511.6" x2="472.65" y2="511.6" stroke="#111" stroke-width="1.3"/>
<circle cx="469" cy="473" r="1.25" fill="#111"/>
<line x1="469" y1="527.1" x2="469" y2="530.1" stroke="#111" stroke-width="1"/>
<g transform="translate(472.6,539.3) rotate(-45) scale(0.8,1)"><text x="0" y="0" font-size="7.8" font-style="italic" text-anchor="end" fill="#262626">Cbp<tspan font-size="4.3" dx="0.4" dy="-4" fill="#555">Δ/Δ</tspan></text></g>
<line x1="484.1" y1="501.5" x2="484.1" y2="505.3" stroke="#3a3a3a" stroke-width="1.05"/>
<line x1="481.7" y1="501.5" x2="486.5" y2="501.5" stroke="#333" stroke-width="1.5"/>
<line x1="484.1" y1="518.9" x2="484.1" y2="523.2" stroke="#3a3a3a" stroke-width="1.05"/>
<line x1="481.7" y1="523.2" x2="486.5" y2="523.2" stroke="#333" stroke-width="1.5"/>
<rect x="480.45" y="505.3" width="7.3" height="13.6" fill="#f2a21b" stroke="#d98c10" stroke-width="0.5" />
<line x1="480.45" y1="510.1" x2="487.75" y2="510.1" stroke="#111" stroke-width="1.3"/>
<line x1="484.1" y1="527.1" x2="484.1" y2="530.1" stroke="#111" stroke-width="1"/>
<g transform="translate(487.7,539.3) rotate(-45) scale(0.8,1)"><text x="0" y="0" font-size="7.8" font-style="italic" text-anchor="end" fill="#262626">Cbp<tspan font-size="4.3" dx="0.4" dy="-4" fill="#555">WT/Δ</tspan><tspan dy="4"> x EμBcl2</tspan></text></g>
<line x1="499" y1="509.2" x2="499" y2="512.8" stroke="#3a3a3a" stroke-width="1.05"/>
<line x1="496.6" y1="509.2" x2="501.4" y2="509.2" stroke="#333" stroke-width="1.5"/>
<line x1="499" y1="520.2" x2="499" y2="523.9" stroke="#3a3a3a" stroke-width="1.05"/>
<line x1="496.6" y1="523.9" x2="501.4" y2="523.9" stroke="#333" stroke-width="1.5"/>
<rect x="495.35" y="512.8" width="7.3" height="7.4" fill="#c5102e" stroke="#a50c25" stroke-width="0.5" />
<line x1="495.35" y1="516.3" x2="502.65" y2="516.3" stroke="#111" stroke-width="1.3"/>
<line x1="499" y1="527.1" x2="499" y2="530.1" stroke="#111" stroke-width="1"/>
<g transform="translate(502.6,539.3) rotate(-45) scale(0.8,1)"><text x="0" y="0" font-size="7.8" font-style="italic" text-anchor="end" fill="#262626">Cbp<tspan font-size="4.3" dx="0.4" dy="-4" fill="#555">Δ/Δ</tspan><tspan dy="4"> x EμBcl2</tspan></text></g>
<rect x="0" y="0" width="520" height="1.3" fill="#000"/>
<rect x="0" y="0" width="1.3" height="579" fill="#000"/>
<rect x="518.5" y="0" width="1.5" height="579" fill="#000"/>
<rect x="0" y="577.3" width="520" height="1.7" fill="#000"/>
</svg></body></html>
